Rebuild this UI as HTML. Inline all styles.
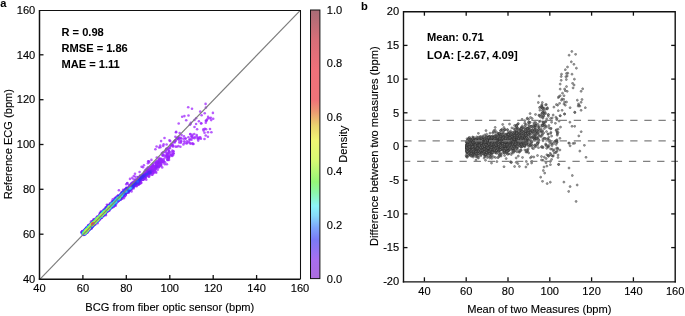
<!DOCTYPE html><html><head><meta charset="utf-8"><style>html,body{margin:0;padding:0;background:#fff;}svg{display:block;will-change:transform;}text{font-family:"Liberation Sans",sans-serif;font-size:11.1px;fill:#000;stroke:#000;stroke-width:0.13px;}.b{font-weight:bold;stroke-width:0.04px;}.r circle{opacity:.75}</style></head><body>
<svg width="685" height="316" viewBox="0 0 685 316">
<rect width="685" height="316" fill="#fff"/>
<defs><linearGradient id="cg" x1="0" y1="1" x2="0" y2="0">
<stop offset="0.000" stop-color="#ac6cde"/>
<stop offset="0.070" stop-color="#a86eee"/>
<stop offset="0.145" stop-color="#7a7af6"/>
<stop offset="0.190" stop-color="#7da5fa"/>
<stop offset="0.235" stop-color="#87dcfa"/>
<stop offset="0.270" stop-color="#8cf5fa"/>
<stop offset="0.320" stop-color="#8cf5aa"/>
<stop offset="0.360" stop-color="#96f578"/>
<stop offset="0.440" stop-color="#d7fa73"/>
<stop offset="0.515" stop-color="#f0f573"/>
<stop offset="0.570" stop-color="#ebd26e"/>
<stop offset="0.625" stop-color="#eb9673"/>
<stop offset="0.665" stop-color="#f07378"/>
<stop offset="0.775" stop-color="#f0707a"/>
<stop offset="0.890" stop-color="#d76e78"/>
<stop offset="1.000" stop-color="#a86c76"/>
</linearGradient><clipPath id="lc"><rect x="39.5" y="10.0" width="260.5" height="269.0"/></clipPath></defs>
<g clip-path="url(#lc)" fill-opacity="0.75">
<circle cx="179.3" cy="142.4" r="1.30" fill="#a327fe"/>
<circle cx="191.8" cy="137.4" r="1.30" fill="#a227fe"/>
<circle cx="163.2" cy="145.9" r="1.30" fill="#a227fe"/>
<circle cx="212.9" cy="112.9" r="1.30" fill="#a227fe"/>
<circle cx="172.1" cy="145.0" r="1.30" fill="#a227fe"/>
<circle cx="188.2" cy="107.2" r="1.30" fill="#a227fe"/>
<circle cx="190.6" cy="143.7" r="1.30" fill="#a227fe"/>
<circle cx="210.8" cy="117.8" r="1.30" fill="#a227fe"/>
<circle cx="150.8" cy="167.8" r="1.30" fill="#a227fe"/>
<circle cx="194.3" cy="134.0" r="1.30" fill="#a227fe"/>
<circle cx="206.6" cy="120.2" r="1.30" fill="#a227fe"/>
<circle cx="184.0" cy="136.2" r="1.30" fill="#a227fe"/>
<circle cx="191.5" cy="139.7" r="1.30" fill="#a127fe"/>
<circle cx="157.1" cy="160.8" r="1.30" fill="#a127fe"/>
<circle cx="148.8" cy="161.2" r="1.30" fill="#a127fe"/>
<circle cx="157.7" cy="169.8" r="1.30" fill="#a127fe"/>
<circle cx="192.3" cy="136.0" r="1.30" fill="#a127fe"/>
<circle cx="186.5" cy="143.5" r="1.30" fill="#a127fe"/>
<circle cx="211.2" cy="120.1" r="1.30" fill="#a127fe"/>
<circle cx="163.6" cy="161.3" r="1.30" fill="#a127fe"/>
<circle cx="176.8" cy="146.7" r="1.30" fill="#a127fe"/>
<circle cx="156.6" cy="146.5" r="1.30" fill="#a127fe"/>
<circle cx="200.2" cy="111.6" r="1.30" fill="#a127fe"/>
<circle cx="157.7" cy="164.1" r="1.30" fill="#a127fe"/>
<circle cx="204.5" cy="132.7" r="1.30" fill="#a127fe"/>
<circle cx="179.6" cy="138.6" r="1.30" fill="#a127fe"/>
<circle cx="206.1" cy="129.3" r="1.30" fill="#a127fe"/>
<circle cx="159.3" cy="162.2" r="1.30" fill="#a127fe"/>
<circle cx="186.9" cy="141.2" r="1.30" fill="#a127fe"/>
<circle cx="148.5" cy="176.5" r="1.30" fill="#a127fe"/>
<circle cx="205.9" cy="107.6" r="1.30" fill="#a127fe"/>
<circle cx="209.4" cy="118.3" r="1.30" fill="#a127fe"/>
<circle cx="200.3" cy="137.4" r="1.30" fill="#a127fe"/>
<circle cx="183.5" cy="138.7" r="1.30" fill="#a127fe"/>
<circle cx="169.1" cy="151.1" r="1.30" fill="#a127fe"/>
<circle cx="168.4" cy="156.0" r="1.30" fill="#a127fe"/>
<circle cx="192.7" cy="137.7" r="1.30" fill="#a127fe"/>
<circle cx="160.4" cy="147.3" r="1.30" fill="#a127fe"/>
<circle cx="181.6" cy="135.0" r="1.30" fill="#a127fe"/>
<circle cx="135.0" cy="173.8" r="1.30" fill="#a127fe"/>
<circle cx="181.2" cy="141.6" r="1.30" fill="#a127fe"/>
<circle cx="197.7" cy="137.9" r="1.30" fill="#a127fe"/>
<circle cx="210.0" cy="129.0" r="1.30" fill="#a127fe"/>
<circle cx="167.2" cy="156.6" r="1.30" fill="#a127fe"/>
<circle cx="192.3" cy="143.3" r="1.30" fill="#a127fe"/>
<circle cx="136.1" cy="179.8" r="1.30" fill="#a127fe"/>
<circle cx="151.8" cy="168.8" r="1.30" fill="#a127fe"/>
<circle cx="135.7" cy="180.9" r="1.30" fill="#a127fe"/>
<circle cx="149.4" cy="175.4" r="1.30" fill="#a127fe"/>
<circle cx="164.1" cy="155.3" r="1.30" fill="#a127fe"/>
<circle cx="157.5" cy="163.1" r="1.30" fill="#a127fe"/>
<circle cx="148.3" cy="171.0" r="1.30" fill="#a127fe"/>
<circle cx="201.6" cy="115.2" r="1.30" fill="#a127fe"/>
<circle cx="208.0" cy="132.3" r="1.30" fill="#a127fe"/>
<circle cx="174.8" cy="142.4" r="1.30" fill="#a127fe"/>
<circle cx="162.7" cy="161.6" r="1.30" fill="#a127fe"/>
<circle cx="197.1" cy="129.2" r="1.30" fill="#a127fe"/>
<circle cx="141.9" cy="180.0" r="1.30" fill="#a127fe"/>
<circle cx="207.9" cy="136.7" r="1.30" fill="#a127fe"/>
<circle cx="130.0" cy="178.9" r="1.30" fill="#a127fe"/>
<circle cx="148.1" cy="168.5" r="1.30" fill="#a127fe"/>
<circle cx="205.8" cy="122.7" r="1.30" fill="#a127fe"/>
<circle cx="167.0" cy="153.2" r="1.30" fill="#a127fe"/>
<circle cx="175.5" cy="146.6" r="1.30" fill="#a127fe"/>
<circle cx="168.0" cy="159.9" r="1.30" fill="#a127fe"/>
<circle cx="176.6" cy="138.1" r="1.30" fill="#a127fe"/>
<circle cx="190.3" cy="134.2" r="1.30" fill="#a026fd"/>
<circle cx="196.7" cy="136.5" r="1.30" fill="#a026fd"/>
<circle cx="188.7" cy="141.8" r="1.30" fill="#a026fd"/>
<circle cx="187.2" cy="143.0" r="1.30" fill="#a026fd"/>
<circle cx="205.8" cy="120.8" r="1.30" fill="#a026fd"/>
<circle cx="153.7" cy="173.1" r="1.30" fill="#a026fd"/>
<circle cx="163.6" cy="144.4" r="1.30" fill="#a026fd"/>
<circle cx="132.0" cy="188.4" r="1.30" fill="#a026fd"/>
<circle cx="155.4" cy="149.2" r="1.30" fill="#a026fd"/>
<circle cx="162.2" cy="167.4" r="1.30" fill="#a026fd"/>
<circle cx="173.6" cy="153.5" r="1.30" fill="#a026fd"/>
<circle cx="171.4" cy="144.9" r="1.30" fill="#a026fd"/>
<circle cx="208.1" cy="116.9" r="1.30" fill="#a026fd"/>
<circle cx="205.6" cy="103.9" r="1.30" fill="#a026fd"/>
<circle cx="160.9" cy="159.6" r="1.30" fill="#a026fd"/>
<circle cx="181.1" cy="140.8" r="1.30" fill="#a026fd"/>
<circle cx="178.7" cy="123.5" r="1.30" fill="#a026fd"/>
<circle cx="163.4" cy="161.8" r="1.30" fill="#a026fd"/>
<circle cx="166.6" cy="144.5" r="1.30" fill="#a026fd"/>
<circle cx="136.3" cy="185.1" r="1.30" fill="#a026fd"/>
<circle cx="179.7" cy="133.1" r="1.30" fill="#a026fd"/>
<circle cx="170.7" cy="154.5" r="1.30" fill="#a026fd"/>
<circle cx="153.7" cy="163.2" r="1.30" fill="#a026fd"/>
<circle cx="204.5" cy="139.0" r="1.30" fill="#a026fd"/>
<circle cx="183.4" cy="144.4" r="1.30" fill="#a026fd"/>
<circle cx="131.5" cy="191.4" r="1.30" fill="#a026fd"/>
<circle cx="175.4" cy="136.8" r="1.30" fill="#a026fd"/>
<circle cx="200.9" cy="138.7" r="1.30" fill="#a026fd"/>
<circle cx="166.9" cy="164.3" r="1.30" fill="#a026fd"/>
<circle cx="152.8" cy="171.8" r="1.30" fill="#a026fd"/>
<circle cx="213.2" cy="118.8" r="1.30" fill="#a026fd"/>
<circle cx="151.8" cy="167.9" r="1.30" fill="#a026fd"/>
<circle cx="164.5" cy="138.0" r="1.30" fill="#a026fd"/>
<circle cx="133.8" cy="181.7" r="1.30" fill="#a026fd"/>
<circle cx="141.6" cy="166.7" r="1.30" fill="#a026fd"/>
<circle cx="163.9" cy="159.0" r="1.30" fill="#a026fd"/>
<circle cx="168.8" cy="153.7" r="1.30" fill="#a026fd"/>
<circle cx="159.4" cy="158.1" r="1.30" fill="#a026fd"/>
<circle cx="198.9" cy="138.7" r="1.30" fill="#a026fd"/>
<circle cx="181.2" cy="138.5" r="1.30" fill="#a026fd"/>
<circle cx="168.8" cy="152.7" r="1.30" fill="#a026fd"/>
<circle cx="155.2" cy="168.0" r="1.30" fill="#a026fd"/>
<circle cx="158.7" cy="166.2" r="1.30" fill="#a026fd"/>
<circle cx="178.6" cy="136.7" r="1.30" fill="#a026fd"/>
<circle cx="189.9" cy="124.8" r="1.30" fill="#a026fd"/>
<circle cx="192.0" cy="108.7" r="1.30" fill="#a026fd"/>
<circle cx="177.4" cy="137.8" r="1.30" fill="#a026fd"/>
<circle cx="194.4" cy="138.2" r="1.30" fill="#a026fd"/>
<circle cx="199.2" cy="137.6" r="1.30" fill="#a026fd"/>
<circle cx="204.9" cy="128.7" r="1.30" fill="#a026fd"/>
<circle cx="166.9" cy="157.1" r="1.30" fill="#a026fd"/>
<circle cx="204.7" cy="113.3" r="1.30" fill="#a026fd"/>
<circle cx="161.9" cy="160.0" r="1.30" fill="#a026fd"/>
<circle cx="191.3" cy="136.3" r="1.30" fill="#9f26fd"/>
<circle cx="157.9" cy="167.2" r="1.30" fill="#9f26fd"/>
<circle cx="169.3" cy="157.1" r="1.30" fill="#9f26fd"/>
<circle cx="193.5" cy="144.0" r="1.30" fill="#9f26fd"/>
<circle cx="170.5" cy="145.5" r="1.30" fill="#9f26fd"/>
<circle cx="151.9" cy="171.2" r="1.30" fill="#9f26fd"/>
<circle cx="159.1" cy="147.5" r="1.30" fill="#9f26fd"/>
<circle cx="151.4" cy="159.9" r="1.30" fill="#9f26fd"/>
<circle cx="190.9" cy="122.8" r="1.30" fill="#9f26fd"/>
<circle cx="153.3" cy="169.3" r="1.30" fill="#9f26fd"/>
<circle cx="156.7" cy="163.6" r="1.30" fill="#9f26fd"/>
<circle cx="196.1" cy="118.3" r="1.30" fill="#9f26fd"/>
<circle cx="128.4" cy="192.7" r="1.30" fill="#9f26fd"/>
<circle cx="123.1" cy="189.9" r="1.30" fill="#9f26fd"/>
<circle cx="166.1" cy="149.6" r="1.30" fill="#9f26fd"/>
<circle cx="188.4" cy="137.3" r="1.30" fill="#9f26fd"/>
<circle cx="160.6" cy="166.1" r="1.30" fill="#9f26fd"/>
<circle cx="189.4" cy="139.7" r="1.30" fill="#9f26fd"/>
<circle cx="173.0" cy="145.6" r="1.30" fill="#9f26fd"/>
<circle cx="167.0" cy="148.5" r="1.30" fill="#9f26fd"/>
<circle cx="172.7" cy="145.6" r="1.30" fill="#9f26fd"/>
<circle cx="162.7" cy="155.1" r="1.30" fill="#9f26fd"/>
<circle cx="146.3" cy="179.7" r="1.30" fill="#9f26fd"/>
<circle cx="178.3" cy="138.1" r="1.30" fill="#9f26fd"/>
<circle cx="198.9" cy="121.2" r="1.30" fill="#9f26fd"/>
<circle cx="189.8" cy="142.9" r="1.30" fill="#9f26fd"/>
<circle cx="153.6" cy="168.9" r="1.30" fill="#9f26fd"/>
<circle cx="158.6" cy="167.0" r="1.30" fill="#9f26fd"/>
<circle cx="160.8" cy="164.6" r="1.30" fill="#9f26fd"/>
<circle cx="145.9" cy="170.2" r="1.30" fill="#9f26fd"/>
<circle cx="167.7" cy="159.5" r="1.30" fill="#9f26fd"/>
<circle cx="156.8" cy="157.6" r="1.30" fill="#9f26fd"/>
<circle cx="139.6" cy="172.0" r="1.30" fill="#9f26fd"/>
<circle cx="145.3" cy="170.2" r="1.30" fill="#9f26fd"/>
<circle cx="131.6" cy="189.4" r="1.30" fill="#9f26fd"/>
<circle cx="159.4" cy="159.9" r="1.30" fill="#9f26fd"/>
<circle cx="144.3" cy="178.0" r="1.30" fill="#9f26fd"/>
<circle cx="147.3" cy="168.8" r="1.30" fill="#9f26fd"/>
<circle cx="105.8" cy="215.2" r="1.30" fill="#9f26fd"/>
<circle cx="162.3" cy="161.6" r="1.30" fill="#9f26fd"/>
<circle cx="201.1" cy="123.5" r="1.30" fill="#9f26fd"/>
<circle cx="156.2" cy="172.8" r="1.30" fill="#9f26fd"/>
<circle cx="146.7" cy="175.3" r="1.30" fill="#9f26fd"/>
<circle cx="158.9" cy="159.6" r="1.30" fill="#9f26fd"/>
<circle cx="170.1" cy="148.1" r="1.30" fill="#9f26fd"/>
<circle cx="190.6" cy="124.0" r="1.30" fill="#9f26fd"/>
<circle cx="158.7" cy="167.5" r="1.30" fill="#9f26fd"/>
<circle cx="164.8" cy="156.8" r="1.30" fill="#9f26fd"/>
<circle cx="134.5" cy="185.8" r="1.30" fill="#9f26fd"/>
<circle cx="138.4" cy="184.8" r="1.30" fill="#9f26fd"/>
<circle cx="160.2" cy="145.5" r="1.30" fill="#9f26fd"/>
<circle cx="93.7" cy="219.6" r="1.30" fill="#9f26fd"/>
<circle cx="175.4" cy="140.6" r="1.30" fill="#9f26fd"/>
<circle cx="143.9" cy="165.3" r="1.30" fill="#9f26fd"/>
<circle cx="176.2" cy="131.9" r="1.30" fill="#9f26fd"/>
<circle cx="161.1" cy="141.1" r="1.30" fill="#9f26fd"/>
<circle cx="163.7" cy="161.0" r="1.30" fill="#9f26fd"/>
<circle cx="153.6" cy="170.0" r="1.30" fill="#9f26fd"/>
<circle cx="175.1" cy="140.5" r="1.30" fill="#9f26fd"/>
<circle cx="143.9" cy="179.3" r="1.30" fill="#9f26fd"/>
<circle cx="103.2" cy="210.0" r="1.30" fill="#9f26fd"/>
<circle cx="159.9" cy="163.6" r="1.30" fill="#9f26fd"/>
<circle cx="165.9" cy="151.3" r="1.30" fill="#9f26fd"/>
<circle cx="149.1" cy="176.8" r="1.30" fill="#9f26fd"/>
<circle cx="170.3" cy="155.4" r="1.30" fill="#9e26fd"/>
<circle cx="175.5" cy="141.0" r="1.30" fill="#9e26fd"/>
<circle cx="142.9" cy="175.6" r="1.30" fill="#9e26fd"/>
<circle cx="184.6" cy="142.9" r="1.30" fill="#9e26fd"/>
<circle cx="194.5" cy="127.0" r="1.30" fill="#9e26fd"/>
<circle cx="194.5" cy="120.0" r="1.30" fill="#9e26fd"/>
<circle cx="203.4" cy="129.3" r="1.30" fill="#9e26fd"/>
<circle cx="171.5" cy="155.1" r="1.30" fill="#9e26fd"/>
<circle cx="159.3" cy="165.4" r="1.30" fill="#9e26fd"/>
<circle cx="194.8" cy="137.2" r="1.30" fill="#9e26fd"/>
<circle cx="156.0" cy="166.7" r="1.30" fill="#9e26fd"/>
<circle cx="148.9" cy="171.8" r="1.30" fill="#9e26fd"/>
<circle cx="154.0" cy="169.1" r="1.30" fill="#9e26fd"/>
<circle cx="115.6" cy="205.7" r="1.30" fill="#9e26fd"/>
<circle cx="148.0" cy="175.9" r="1.30" fill="#9e26fd"/>
<circle cx="152.5" cy="166.8" r="1.30" fill="#9e26fd"/>
<circle cx="148.2" cy="161.3" r="1.30" fill="#9e26fd"/>
<circle cx="206.4" cy="120.8" r="1.30" fill="#9e26fd"/>
<circle cx="114.5" cy="198.5" r="1.30" fill="#9e26fd"/>
<circle cx="156.9" cy="164.2" r="1.30" fill="#9e26fd"/>
<circle cx="151.8" cy="166.3" r="1.30" fill="#9e26fd"/>
<circle cx="140.2" cy="183.5" r="1.30" fill="#9e26fd"/>
<circle cx="201.3" cy="123.2" r="1.30" fill="#9e26fd"/>
<circle cx="159.0" cy="163.2" r="1.30" fill="#9e26fd"/>
<circle cx="152.8" cy="171.1" r="1.30" fill="#9e26fd"/>
<circle cx="148.0" cy="167.2" r="1.30" fill="#9e26fd"/>
<circle cx="170.2" cy="141.1" r="1.30" fill="#9e26fd"/>
<circle cx="147.8" cy="170.4" r="1.30" fill="#9e26fd"/>
<circle cx="144.6" cy="178.3" r="1.30" fill="#9e26fd"/>
<circle cx="133.8" cy="176.0" r="1.30" fill="#9e26fd"/>
<circle cx="152.7" cy="164.4" r="1.30" fill="#9e26fd"/>
<circle cx="159.5" cy="165.0" r="1.30" fill="#9e26fd"/>
<circle cx="91.2" cy="228.7" r="1.30" fill="#9e26fd"/>
<circle cx="138.3" cy="182.9" r="1.30" fill="#9e26fd"/>
<circle cx="133.8" cy="179.5" r="1.30" fill="#9e26fd"/>
<circle cx="203.6" cy="130.6" r="1.30" fill="#9e26fd"/>
<circle cx="178.4" cy="146.1" r="1.30" fill="#9e26fd"/>
<circle cx="127.0" cy="189.0" r="1.30" fill="#9e26fd"/>
<circle cx="192.5" cy="134.7" r="1.30" fill="#9e26fd"/>
<circle cx="129.3" cy="190.9" r="1.30" fill="#9e26fd"/>
<circle cx="166.4" cy="158.1" r="1.30" fill="#9e26fd"/>
<circle cx="156.2" cy="164.1" r="1.30" fill="#9e26fd"/>
<circle cx="155.2" cy="167.6" r="1.30" fill="#9e26fd"/>
<circle cx="85.2" cy="229.2" r="1.30" fill="#9e26fd"/>
<circle cx="141.4" cy="182.7" r="1.30" fill="#9e26fd"/>
<circle cx="152.9" cy="165.0" r="1.30" fill="#9e26fd"/>
<circle cx="162.5" cy="159.8" r="1.30" fill="#9e26fd"/>
<circle cx="159.6" cy="159.6" r="1.30" fill="#9e26fd"/>
<circle cx="196.7" cy="135.0" r="1.30" fill="#9e26fd"/>
<circle cx="156.0" cy="171.8" r="1.30" fill="#9e26fd"/>
<circle cx="160.9" cy="160.3" r="1.30" fill="#9e26fd"/>
<circle cx="207.4" cy="119.0" r="1.30" fill="#9e26fd"/>
<circle cx="163.3" cy="161.3" r="1.30" fill="#9e26fd"/>
<circle cx="148.4" cy="171.2" r="1.30" fill="#9e26fd"/>
<circle cx="149.0" cy="169.0" r="1.30" fill="#9e26fd"/>
<circle cx="152.5" cy="174.6" r="1.30" fill="#9e26fd"/>
<circle cx="160.4" cy="160.3" r="1.30" fill="#9e26fd"/>
<circle cx="136.0" cy="181.2" r="1.30" fill="#9e26fd"/>
<circle cx="168.1" cy="156.5" r="1.30" fill="#9e26fd"/>
<circle cx="169.5" cy="140.4" r="1.30" fill="#9d25fc"/>
<circle cx="137.8" cy="177.4" r="1.30" fill="#9d25fc"/>
<circle cx="190.3" cy="134.0" r="1.30" fill="#9d25fc"/>
<circle cx="192.9" cy="143.9" r="1.30" fill="#9d25fc"/>
<circle cx="205.7" cy="135.5" r="1.30" fill="#9d25fc"/>
<circle cx="160.5" cy="165.2" r="1.30" fill="#9d25fc"/>
<circle cx="159.4" cy="164.8" r="1.30" fill="#9d25fc"/>
<circle cx="133.9" cy="183.2" r="1.30" fill="#9d25fc"/>
<circle cx="154.4" cy="167.7" r="1.30" fill="#9d25fc"/>
<circle cx="136.4" cy="183.2" r="1.30" fill="#9d25fc"/>
<circle cx="160.9" cy="162.9" r="1.30" fill="#9d25fc"/>
<circle cx="124.8" cy="196.5" r="1.30" fill="#9d25fc"/>
<circle cx="106.4" cy="212.5" r="1.30" fill="#9d25fc"/>
<circle cx="140.6" cy="176.2" r="1.30" fill="#9d25fc"/>
<circle cx="90.8" cy="223.6" r="1.30" fill="#9d25fc"/>
<circle cx="164.9" cy="164.2" r="1.30" fill="#9d25fc"/>
<circle cx="188.5" cy="115.5" r="1.30" fill="#9d25fc"/>
<circle cx="167.9" cy="159.8" r="1.30" fill="#9d25fc"/>
<circle cx="178.2" cy="137.7" r="1.30" fill="#9d25fc"/>
<circle cx="118.7" cy="199.8" r="1.30" fill="#9d25fc"/>
<circle cx="184.4" cy="116.1" r="1.30" fill="#9d25fc"/>
<circle cx="166.6" cy="155.9" r="1.30" fill="#9d25fc"/>
<circle cx="159.7" cy="165.7" r="1.30" fill="#9d25fc"/>
<circle cx="146.9" cy="168.8" r="1.30" fill="#9d25fc"/>
<circle cx="139.4" cy="178.8" r="1.30" fill="#9d25fc"/>
<circle cx="142.1" cy="177.6" r="1.30" fill="#9d25fc"/>
<circle cx="149.2" cy="175.1" r="1.30" fill="#9d25fc"/>
<circle cx="163.3" cy="162.9" r="1.30" fill="#9d25fc"/>
<circle cx="167.5" cy="154.3" r="1.30" fill="#9d25fc"/>
<circle cx="123.8" cy="198.2" r="1.30" fill="#9d25fc"/>
<circle cx="146.0" cy="169.5" r="1.30" fill="#9d25fc"/>
<circle cx="129.7" cy="185.0" r="1.30" fill="#9d25fc"/>
<circle cx="152.0" cy="174.8" r="1.30" fill="#9d25fc"/>
<circle cx="177.4" cy="138.8" r="1.30" fill="#9d25fc"/>
<circle cx="152.4" cy="168.5" r="1.30" fill="#9d25fc"/>
<circle cx="144.3" cy="171.8" r="1.30" fill="#9d25fc"/>
<circle cx="180.4" cy="146.7" r="1.30" fill="#9d25fc"/>
<circle cx="93.8" cy="219.3" r="1.30" fill="#9d25fc"/>
<circle cx="165.1" cy="152.2" r="1.30" fill="#9d25fc"/>
<circle cx="99.0" cy="220.6" r="1.30" fill="#9d25fc"/>
<circle cx="146.1" cy="175.7" r="1.30" fill="#9d25fc"/>
<circle cx="136.1" cy="184.3" r="1.30" fill="#9d25fc"/>
<circle cx="137.1" cy="179.7" r="1.30" fill="#9d25fc"/>
<circle cx="163.2" cy="152.2" r="1.30" fill="#9d25fc"/>
<circle cx="124.1" cy="195.5" r="1.30" fill="#9d25fc"/>
<circle cx="166.1" cy="155.5" r="1.30" fill="#9d25fc"/>
<circle cx="115.3" cy="197.9" r="1.30" fill="#9d25fc"/>
<circle cx="169.0" cy="159.9" r="1.30" fill="#9d25fc"/>
<circle cx="160.4" cy="159.0" r="1.30" fill="#9d25fc"/>
<circle cx="157.6" cy="161.0" r="1.30" fill="#9d25fc"/>
<circle cx="84.0" cy="234.2" r="1.30" fill="#9d25fc"/>
<circle cx="137.3" cy="181.1" r="1.30" fill="#9d25fc"/>
<circle cx="142.3" cy="176.0" r="1.30" fill="#9d25fc"/>
<circle cx="156.1" cy="164.5" r="1.30" fill="#9d25fc"/>
<circle cx="157.5" cy="164.0" r="1.30" fill="#9d25fc"/>
<circle cx="141.4" cy="178.4" r="1.30" fill="#9d25fc"/>
<circle cx="134.9" cy="185.8" r="1.30" fill="#9d25fc"/>
<circle cx="184.3" cy="141.3" r="1.30" fill="#9d25fc"/>
<circle cx="138.6" cy="182.7" r="1.30" fill="#9d25fc"/>
<circle cx="154.9" cy="171.1" r="1.30" fill="#9d25fc"/>
<circle cx="171.3" cy="144.3" r="1.30" fill="#9d25fc"/>
<circle cx="173.2" cy="151.5" r="1.30" fill="#9d25fc"/>
<circle cx="153.2" cy="172.7" r="1.30" fill="#9d25fc"/>
<circle cx="167.3" cy="153.5" r="1.30" fill="#9d25fc"/>
<circle cx="147.8" cy="173.5" r="1.30" fill="#9d25fc"/>
<circle cx="180.6" cy="137.9" r="1.30" fill="#9d25fc"/>
<circle cx="161.4" cy="158.8" r="1.30" fill="#9d25fc"/>
<circle cx="143.0" cy="167.2" r="1.30" fill="#9d25fc"/>
<circle cx="162.7" cy="152.8" r="1.30" fill="#9d25fc"/>
<circle cx="157.3" cy="164.9" r="1.30" fill="#9d25fc"/>
<circle cx="101.9" cy="217.7" r="1.30" fill="#9d25fc"/>
<circle cx="153.5" cy="166.9" r="1.30" fill="#9d25fc"/>
<circle cx="143.5" cy="174.4" r="1.30" fill="#9d25fc"/>
<circle cx="128.8" cy="187.2" r="1.30" fill="#9c25fc"/>
<circle cx="160.8" cy="162.0" r="1.30" fill="#9c25fc"/>
<circle cx="174.5" cy="141.1" r="1.30" fill="#9c25fc"/>
<circle cx="117.5" cy="196.7" r="1.30" fill="#9c25fc"/>
<circle cx="144.3" cy="176.1" r="1.30" fill="#9c25fc"/>
<circle cx="136.6" cy="183.2" r="1.30" fill="#9c25fc"/>
<circle cx="145.2" cy="172.8" r="1.30" fill="#9c25fc"/>
<circle cx="166.1" cy="149.4" r="1.30" fill="#9c25fc"/>
<circle cx="180.8" cy="142.8" r="1.30" fill="#9c25fc"/>
<circle cx="151.4" cy="169.8" r="1.30" fill="#9c25fc"/>
<circle cx="197.7" cy="138.8" r="1.30" fill="#9c25fc"/>
<circle cx="139.0" cy="183.0" r="1.30" fill="#9c25fc"/>
<circle cx="161.2" cy="159.8" r="1.30" fill="#9c25fc"/>
<circle cx="106.1" cy="207.4" r="1.30" fill="#9c25fc"/>
<circle cx="158.9" cy="161.9" r="1.30" fill="#9c25fc"/>
<circle cx="139.4" cy="182.9" r="1.30" fill="#9c25fc"/>
<circle cx="162.5" cy="155.4" r="1.30" fill="#9c25fc"/>
<circle cx="173.1" cy="153.5" r="1.30" fill="#9c25fc"/>
<circle cx="160.2" cy="162.9" r="1.30" fill="#9c25fc"/>
<circle cx="101.5" cy="217.4" r="1.30" fill="#9c25fc"/>
<circle cx="153.2" cy="165.9" r="1.30" fill="#9c25fc"/>
<circle cx="185.5" cy="138.5" r="1.30" fill="#9c25fc"/>
<circle cx="85.1" cy="234.5" r="1.30" fill="#9c25fc"/>
<circle cx="129.1" cy="185.1" r="1.30" fill="#9c25fc"/>
<circle cx="141.8" cy="175.7" r="1.30" fill="#9c25fc"/>
<circle cx="178.8" cy="140.1" r="1.30" fill="#9c25fc"/>
<circle cx="172.4" cy="150.5" r="1.30" fill="#9c25fc"/>
<circle cx="132.6" cy="183.3" r="1.30" fill="#9c25fc"/>
<circle cx="182.2" cy="116.8" r="1.30" fill="#9c25fc"/>
<circle cx="147.1" cy="170.8" r="1.30" fill="#9c25fc"/>
<circle cx="171.0" cy="152.4" r="1.30" fill="#9c25fc"/>
<circle cx="138.2" cy="184.3" r="1.30" fill="#9c25fc"/>
<circle cx="117.1" cy="202.1" r="1.30" fill="#9c25fc"/>
<circle cx="139.0" cy="180.8" r="1.30" fill="#9c25fc"/>
<circle cx="168.3" cy="157.3" r="1.30" fill="#9c25fc"/>
<circle cx="173.3" cy="153.5" r="1.30" fill="#9c25fc"/>
<circle cx="190.2" cy="139.2" r="1.30" fill="#9c25fc"/>
<circle cx="166.9" cy="155.3" r="1.30" fill="#9c25fc"/>
<circle cx="123.9" cy="190.7" r="1.30" fill="#9c25fc"/>
<circle cx="92.4" cy="221.1" r="1.30" fill="#9c25fc"/>
<circle cx="116.6" cy="201.5" r="1.30" fill="#9c25fc"/>
<circle cx="152.6" cy="170.1" r="1.30" fill="#9c25fc"/>
<circle cx="186.2" cy="120.3" r="1.30" fill="#9c25fc"/>
<circle cx="121.8" cy="192.0" r="1.30" fill="#9c25fc"/>
<circle cx="149.2" cy="162.3" r="1.30" fill="#9c25fc"/>
<circle cx="141.8" cy="178.7" r="1.30" fill="#9c25fc"/>
<circle cx="159.9" cy="163.4" r="1.30" fill="#9c25fc"/>
<circle cx="143.5" cy="178.9" r="1.30" fill="#9c25fc"/>
<circle cx="149.7" cy="173.0" r="1.30" fill="#9c25fc"/>
<circle cx="155.8" cy="161.8" r="1.30" fill="#9c25fc"/>
<circle cx="156.0" cy="165.3" r="1.30" fill="#9c25fc"/>
<circle cx="136.8" cy="183.4" r="1.30" fill="#9c25fc"/>
<circle cx="96.8" cy="217.0" r="1.30" fill="#9c25fc"/>
<circle cx="135.6" cy="179.6" r="1.30" fill="#9c25fc"/>
<circle cx="124.2" cy="190.2" r="1.30" fill="#9c25fc"/>
<circle cx="163.2" cy="155.5" r="1.30" fill="#9c25fc"/>
<circle cx="131.0" cy="186.1" r="1.30" fill="#9c25fc"/>
<circle cx="156.4" cy="164.6" r="1.30" fill="#9c25fc"/>
<circle cx="122.8" cy="196.9" r="1.30" fill="#9c25fc"/>
<circle cx="118.9" cy="190.3" r="1.30" fill="#9c25fc"/>
<circle cx="124.2" cy="196.2" r="1.30" fill="#9c25fc"/>
<circle cx="146.3" cy="174.0" r="1.30" fill="#9c25fc"/>
<circle cx="130.0" cy="187.4" r="1.30" fill="#9c25fc"/>
<circle cx="173.5" cy="151.2" r="1.30" fill="#9c25fc"/>
<circle cx="147.4" cy="172.7" r="1.30" fill="#9c25fc"/>
<circle cx="168.5" cy="150.4" r="1.30" fill="#9c25fc"/>
<circle cx="139.1" cy="178.7" r="1.30" fill="#9c25fc"/>
<circle cx="140.3" cy="179.7" r="1.30" fill="#9c25fc"/>
<circle cx="132.7" cy="182.4" r="1.30" fill="#9c25fc"/>
<circle cx="158.9" cy="165.2" r="1.30" fill="#9c25fc"/>
<circle cx="157.9" cy="165.4" r="1.30" fill="#9c25fc"/>
<circle cx="145.6" cy="174.1" r="1.30" fill="#9c25fc"/>
<circle cx="138.2" cy="177.0" r="1.30" fill="#9c25fc"/>
<circle cx="85.3" cy="233.8" r="1.30" fill="#9c25fc"/>
<circle cx="92.5" cy="221.7" r="1.30" fill="#9c25fc"/>
<circle cx="143.3" cy="176.5" r="1.30" fill="#9c25fc"/>
<circle cx="140.0" cy="178.0" r="1.30" fill="#9c25fc"/>
<circle cx="99.8" cy="219.1" r="1.30" fill="#9c25fc"/>
<circle cx="114.5" cy="200.6" r="1.30" fill="#9c25fc"/>
<circle cx="196.1" cy="124.0" r="1.30" fill="#9c25fc"/>
<circle cx="146.9" cy="171.6" r="1.30" fill="#9b25fc"/>
<circle cx="103.5" cy="215.2" r="1.30" fill="#9b25fc"/>
<circle cx="121.7" cy="197.7" r="1.30" fill="#9b25fc"/>
<circle cx="127.8" cy="191.7" r="1.30" fill="#9b25fc"/>
<circle cx="161.5" cy="161.5" r="1.30" fill="#9b25fc"/>
<circle cx="96.7" cy="222.8" r="1.30" fill="#9b25fc"/>
<circle cx="120.6" cy="194.0" r="1.30" fill="#9b25fc"/>
<circle cx="167.0" cy="154.7" r="1.30" fill="#9b25fc"/>
<circle cx="159.1" cy="163.9" r="1.30" fill="#9b25fc"/>
<circle cx="152.4" cy="169.4" r="1.30" fill="#9b25fc"/>
<circle cx="141.4" cy="177.5" r="1.30" fill="#9b25fc"/>
<circle cx="139.3" cy="179.3" r="1.30" fill="#9b25fc"/>
<circle cx="128.5" cy="192.4" r="1.30" fill="#9b25fc"/>
<circle cx="114.8" cy="203.5" r="1.30" fill="#9b25fc"/>
<circle cx="169.1" cy="151.9" r="1.30" fill="#9b25fc"/>
<circle cx="185.5" cy="138.5" r="1.30" fill="#9b25fc"/>
<circle cx="133.6" cy="188.4" r="1.30" fill="#9b25fc"/>
<circle cx="143.6" cy="177.1" r="1.30" fill="#9b25fc"/>
<circle cx="116.4" cy="203.5" r="1.30" fill="#9b25fc"/>
<circle cx="131.9" cy="185.4" r="1.30" fill="#9b25fc"/>
<circle cx="129.4" cy="187.4" r="1.30" fill="#9b25fc"/>
<circle cx="128.2" cy="189.4" r="1.30" fill="#9b25fc"/>
<circle cx="125.6" cy="192.1" r="1.30" fill="#9b25fc"/>
<circle cx="150.5" cy="169.0" r="1.30" fill="#9b25fc"/>
<circle cx="109.6" cy="208.3" r="1.30" fill="#9b25fc"/>
<circle cx="137.6" cy="179.7" r="1.30" fill="#9b25fc"/>
<circle cx="148.7" cy="172.9" r="1.30" fill="#9b25fc"/>
<circle cx="155.8" cy="162.5" r="1.30" fill="#9b25fc"/>
<circle cx="143.0" cy="174.8" r="1.30" fill="#9b25fc"/>
<circle cx="131.5" cy="183.3" r="1.30" fill="#9b25fc"/>
<circle cx="126.3" cy="184.3" r="1.30" fill="#9b25fc"/>
<circle cx="109.4" cy="210.6" r="1.30" fill="#9b25fc"/>
<circle cx="145.0" cy="172.2" r="1.30" fill="#9b25fc"/>
<circle cx="147.9" cy="163.3" r="1.30" fill="#9b25fc"/>
<circle cx="151.6" cy="170.1" r="1.30" fill="#9b25fc"/>
<circle cx="88.6" cy="230.7" r="1.30" fill="#9b25fc"/>
<circle cx="100.9" cy="211.5" r="1.30" fill="#9b25fc"/>
<circle cx="92.0" cy="221.7" r="1.30" fill="#9b25fc"/>
<circle cx="116.3" cy="202.6" r="1.30" fill="#9b25fc"/>
<circle cx="145.3" cy="175.7" r="1.30" fill="#9b25fc"/>
<circle cx="140.9" cy="177.4" r="1.30" fill="#9b25fc"/>
<circle cx="107.8" cy="205.1" r="1.30" fill="#9b25fc"/>
<circle cx="136.8" cy="179.6" r="1.30" fill="#9b25fc"/>
<circle cx="124.8" cy="190.2" r="1.30" fill="#9b25fc"/>
<circle cx="138.7" cy="182.4" r="1.30" fill="#9b25fc"/>
<circle cx="122.2" cy="193.1" r="1.30" fill="#9b25fc"/>
<circle cx="120.3" cy="198.7" r="1.30" fill="#9b25fc"/>
<circle cx="144.9" cy="172.7" r="1.30" fill="#9b25fc"/>
<circle cx="127.1" cy="189.9" r="1.30" fill="#9b25fc"/>
<circle cx="168.2" cy="149.0" r="1.30" fill="#9b25fc"/>
<circle cx="211.4" cy="132.2" r="1.30" fill="#9b25fc"/>
<circle cx="135.3" cy="181.0" r="1.30" fill="#9b25fc"/>
<circle cx="105.9" cy="214.1" r="1.30" fill="#9b25fc"/>
<circle cx="139.7" cy="181.0" r="1.30" fill="#9b25fc"/>
<circle cx="173.0" cy="146.6" r="1.30" fill="#9b25fc"/>
<circle cx="172.8" cy="142.7" r="1.30" fill="#9b25fc"/>
<circle cx="100.1" cy="214.8" r="1.30" fill="#9b25fc"/>
<circle cx="94.7" cy="219.1" r="1.30" fill="#9b25fc"/>
<circle cx="151.2" cy="171.4" r="1.30" fill="#9b25fc"/>
<circle cx="141.4" cy="179.3" r="1.30" fill="#9b25fc"/>
<circle cx="147.9" cy="175.0" r="1.30" fill="#9b25fc"/>
<circle cx="130.3" cy="186.1" r="1.30" fill="#9b25fc"/>
<circle cx="155.0" cy="169.7" r="1.30" fill="#9b25fc"/>
<circle cx="125.0" cy="195.6" r="1.30" fill="#9b25fc"/>
<circle cx="198.2" cy="140.6" r="1.30" fill="#9b25fc"/>
<circle cx="100.8" cy="212.6" r="1.30" fill="#9b25fc"/>
<circle cx="127.4" cy="183.1" r="1.30" fill="#9b25fc"/>
<circle cx="170.5" cy="146.0" r="1.30" fill="#9b25fc"/>
<circle cx="147.1" cy="172.7" r="1.30" fill="#9a24fb"/>
<circle cx="151.4" cy="166.9" r="1.30" fill="#9a24fb"/>
<circle cx="100.0" cy="219.5" r="1.30" fill="#9a24fb"/>
<circle cx="149.7" cy="169.8" r="1.30" fill="#9a24fb"/>
<circle cx="149.7" cy="170.5" r="1.30" fill="#9a24fb"/>
<circle cx="93.5" cy="221.4" r="1.30" fill="#9a24fb"/>
<circle cx="143.0" cy="179.6" r="1.30" fill="#9a24fb"/>
<circle cx="119.9" cy="198.7" r="1.30" fill="#9a24fb"/>
<circle cx="168.7" cy="158.3" r="1.30" fill="#9a24fb"/>
<circle cx="139.4" cy="183.4" r="1.30" fill="#9a24fb"/>
<circle cx="147.5" cy="171.4" r="1.30" fill="#9a24fb"/>
<circle cx="140.8" cy="183.1" r="1.30" fill="#9a24fb"/>
<circle cx="136.0" cy="180.7" r="1.30" fill="#9a24fb"/>
<circle cx="130.9" cy="189.6" r="1.30" fill="#9a24fb"/>
<circle cx="112.1" cy="207.1" r="1.30" fill="#9a24fb"/>
<circle cx="148.2" cy="172.3" r="1.30" fill="#9a24fb"/>
<circle cx="122.7" cy="194.1" r="1.30" fill="#9a24fb"/>
<circle cx="174.1" cy="141.8" r="1.30" fill="#9a24fb"/>
<circle cx="172.9" cy="155.2" r="1.30" fill="#9a24fb"/>
<circle cx="91.6" cy="228.2" r="1.30" fill="#9a24fb"/>
<circle cx="104.7" cy="213.8" r="1.30" fill="#9a24fb"/>
<circle cx="87.7" cy="231.9" r="1.30" fill="#9a24fb"/>
<circle cx="156.7" cy="167.0" r="1.30" fill="#9a24fb"/>
<circle cx="159.2" cy="159.9" r="1.30" fill="#9a24fb"/>
<circle cx="162.0" cy="161.2" r="1.30" fill="#9a24fb"/>
<circle cx="122.2" cy="198.4" r="1.30" fill="#9a24fb"/>
<circle cx="109.7" cy="204.6" r="1.30" fill="#9a24fb"/>
<circle cx="95.3" cy="224.4" r="1.30" fill="#9a24fb"/>
<circle cx="132.3" cy="177.9" r="1.30" fill="#9a24fb"/>
<circle cx="136.8" cy="184.2" r="1.30" fill="#9a24fb"/>
<circle cx="87.8" cy="232.1" r="1.30" fill="#9a24fb"/>
<circle cx="143.9" cy="177.9" r="1.30" fill="#9a24fb"/>
<circle cx="88.6" cy="225.0" r="1.30" fill="#9a24fb"/>
<circle cx="118.2" cy="200.6" r="1.30" fill="#9a24fb"/>
<circle cx="125.9" cy="189.9" r="1.30" fill="#9a24fb"/>
<circle cx="131.0" cy="185.9" r="1.30" fill="#9a24fb"/>
<circle cx="144.8" cy="176.9" r="1.30" fill="#9a24fb"/>
<circle cx="119.3" cy="200.3" r="1.30" fill="#9a24fb"/>
<circle cx="135.2" cy="182.3" r="1.30" fill="#9a24fb"/>
<circle cx="130.8" cy="188.9" r="1.30" fill="#9a24fb"/>
<circle cx="141.7" cy="176.9" r="1.30" fill="#9a24fb"/>
<circle cx="134.7" cy="184.0" r="1.30" fill="#9a24fb"/>
<circle cx="155.6" cy="162.5" r="1.30" fill="#9a24fb"/>
<circle cx="126.0" cy="192.5" r="1.30" fill="#9a24fb"/>
<circle cx="124.9" cy="192.2" r="1.30" fill="#9a24fb"/>
<circle cx="153.1" cy="172.7" r="1.30" fill="#9a24fb"/>
<circle cx="144.2" cy="174.6" r="1.30" fill="#9a24fb"/>
<circle cx="135.2" cy="182.7" r="1.30" fill="#9a24fb"/>
<circle cx="169.0" cy="147.9" r="1.30" fill="#9a24fb"/>
<circle cx="140.6" cy="176.6" r="1.30" fill="#9a24fb"/>
<circle cx="136.9" cy="186.1" r="1.30" fill="#9a24fb"/>
<circle cx="150.5" cy="171.7" r="1.30" fill="#9a24fb"/>
<circle cx="126.3" cy="189.2" r="1.30" fill="#9a24fb"/>
<circle cx="121.8" cy="198.7" r="1.30" fill="#9a24fb"/>
<circle cx="138.8" cy="181.1" r="1.30" fill="#9a24fb"/>
<circle cx="131.3" cy="187.1" r="1.30" fill="#9a24fb"/>
<circle cx="166.5" cy="148.8" r="1.30" fill="#9a24fb"/>
<circle cx="132.1" cy="185.3" r="1.30" fill="#9a24fb"/>
<circle cx="150.7" cy="170.9" r="1.30" fill="#9a24fb"/>
<circle cx="130.7" cy="185.3" r="1.30" fill="#9a24fb"/>
<circle cx="125.1" cy="193.6" r="1.30" fill="#9a24fb"/>
<circle cx="118.4" cy="195.5" r="1.30" fill="#9a24fb"/>
<circle cx="132.6" cy="183.4" r="1.30" fill="#9a24fb"/>
<circle cx="140.7" cy="179.6" r="1.30" fill="#9a24fb"/>
<circle cx="148.0" cy="174.4" r="1.30" fill="#9a24fb"/>
<circle cx="157.0" cy="165.4" r="1.30" fill="#9a24fb"/>
<circle cx="156.4" cy="168.3" r="1.30" fill="#9a24fb"/>
<circle cx="144.5" cy="177.6" r="1.30" fill="#9a24fb"/>
<circle cx="95.1" cy="223.7" r="1.30" fill="#9a24fb"/>
<circle cx="156.7" cy="163.3" r="1.30" fill="#9a24fb"/>
<circle cx="144.2" cy="177.8" r="1.30" fill="#9a24fb"/>
<circle cx="125.1" cy="189.1" r="1.30" fill="#9a24fb"/>
<circle cx="135.7" cy="186.3" r="1.30" fill="#9924fb"/>
<circle cx="88.3" cy="225.7" r="1.30" fill="#9924fb"/>
<circle cx="135.5" cy="180.7" r="1.30" fill="#9924fb"/>
<circle cx="131.5" cy="184.6" r="1.30" fill="#9924fb"/>
<circle cx="141.1" cy="177.3" r="1.30" fill="#9924fb"/>
<circle cx="148.9" cy="168.6" r="1.30" fill="#9924fb"/>
<circle cx="126.5" cy="192.5" r="1.30" fill="#9924fb"/>
<circle cx="154.1" cy="166.8" r="1.30" fill="#9924fb"/>
<circle cx="155.1" cy="166.0" r="1.30" fill="#9924fb"/>
<circle cx="155.7" cy="167.4" r="1.30" fill="#9924fb"/>
<circle cx="147.6" cy="174.4" r="1.30" fill="#9924fb"/>
<circle cx="143.7" cy="174.4" r="1.30" fill="#9924fb"/>
<circle cx="153.1" cy="166.1" r="1.30" fill="#9924fb"/>
<circle cx="98.2" cy="221.1" r="1.30" fill="#9924fb"/>
<circle cx="139.6" cy="183.1" r="1.30" fill="#9924fb"/>
<circle cx="113.5" cy="200.8" r="1.30" fill="#9924fb"/>
<circle cx="150.9" cy="172.6" r="1.30" fill="#9924fb"/>
<circle cx="151.6" cy="170.8" r="1.30" fill="#9924fb"/>
<circle cx="150.5" cy="171.2" r="1.30" fill="#9924fb"/>
<circle cx="130.5" cy="188.8" r="1.30" fill="#9924fb"/>
<circle cx="144.2" cy="174.2" r="1.30" fill="#9924fb"/>
<circle cx="148.8" cy="171.2" r="1.30" fill="#9924fb"/>
<circle cx="127.6" cy="190.8" r="1.30" fill="#9924fb"/>
<circle cx="88.4" cy="230.6" r="1.30" fill="#9924fb"/>
<circle cx="161.3" cy="165.0" r="1.30" fill="#9924fb"/>
<circle cx="119.5" cy="200.0" r="1.30" fill="#9924fb"/>
<circle cx="126.3" cy="188.0" r="1.30" fill="#9924fb"/>
<circle cx="112.8" cy="199.2" r="1.30" fill="#9924fb"/>
<circle cx="150.5" cy="167.2" r="1.30" fill="#9924fb"/>
<circle cx="133.0" cy="186.9" r="1.30" fill="#9924fb"/>
<circle cx="122.7" cy="195.8" r="1.30" fill="#9924fb"/>
<circle cx="85.0" cy="233.8" r="1.30" fill="#9924fb"/>
<circle cx="99.2" cy="215.2" r="1.30" fill="#9924fb"/>
<circle cx="149.8" cy="172.2" r="1.30" fill="#9924fb"/>
<circle cx="141.8" cy="177.6" r="1.30" fill="#9924fb"/>
<circle cx="138.5" cy="182.0" r="1.30" fill="#9924fb"/>
<circle cx="141.1" cy="180.1" r="1.30" fill="#9924fb"/>
<circle cx="83.1" cy="232.5" r="1.30" fill="#9924fb"/>
<circle cx="83.7" cy="234.9" r="1.30" fill="#9924fb"/>
<circle cx="148.4" cy="172.1" r="1.30" fill="#9924fb"/>
<circle cx="138.3" cy="182.6" r="1.30" fill="#9924fb"/>
<circle cx="115.2" cy="205.3" r="1.30" fill="#9924fb"/>
<circle cx="144.0" cy="175.6" r="1.30" fill="#9924fb"/>
<circle cx="131.9" cy="186.9" r="1.30" fill="#9924fb"/>
<circle cx="172.1" cy="155.9" r="1.30" fill="#9924fb"/>
<circle cx="150.6" cy="167.1" r="1.30" fill="#9924fb"/>
<circle cx="140.2" cy="180.6" r="1.30" fill="#9924fb"/>
<circle cx="101.2" cy="218.1" r="1.30" fill="#9924fb"/>
<circle cx="135.5" cy="176.7" r="1.30" fill="#9924fb"/>
<circle cx="140.0" cy="175.8" r="1.30" fill="#9924fb"/>
<circle cx="120.8" cy="199.4" r="1.30" fill="#9924fb"/>
<circle cx="100.4" cy="214.2" r="1.30" fill="#9924fb"/>
<circle cx="142.7" cy="178.8" r="1.30" fill="#9924fb"/>
<circle cx="129.4" cy="187.6" r="1.30" fill="#9924fb"/>
<circle cx="158.2" cy="165.2" r="1.30" fill="#9924fb"/>
<circle cx="145.5" cy="178.3" r="1.30" fill="#9924fb"/>
<circle cx="152.7" cy="172.4" r="1.30" fill="#9924fb"/>
<circle cx="93.0" cy="224.8" r="1.30" fill="#9924fb"/>
<circle cx="143.9" cy="173.6" r="1.30" fill="#9924fb"/>
<circle cx="129.4" cy="188.8" r="1.30" fill="#9924fb"/>
<circle cx="130.6" cy="189.2" r="1.30" fill="#9924fb"/>
<circle cx="154.9" cy="169.7" r="1.30" fill="#9824fb"/>
<circle cx="130.7" cy="185.1" r="1.30" fill="#9824fb"/>
<circle cx="168.8" cy="156.6" r="1.30" fill="#9824fb"/>
<circle cx="102.5" cy="211.4" r="1.30" fill="#9824fb"/>
<circle cx="107.9" cy="210.8" r="1.30" fill="#9824fb"/>
<circle cx="125.9" cy="195.0" r="1.30" fill="#9824fb"/>
<circle cx="132.6" cy="182.9" r="1.30" fill="#9824fb"/>
<circle cx="143.3" cy="176.9" r="1.30" fill="#9824fb"/>
<circle cx="147.4" cy="173.5" r="1.30" fill="#9824fb"/>
<circle cx="121.3" cy="193.1" r="1.30" fill="#9824fb"/>
<circle cx="125.2" cy="195.6" r="1.30" fill="#9824fb"/>
<circle cx="128.7" cy="190.8" r="1.30" fill="#9824fb"/>
<circle cx="155.8" cy="168.9" r="1.30" fill="#9824fb"/>
<circle cx="103.1" cy="211.4" r="1.30" fill="#9824fb"/>
<circle cx="168.4" cy="158.7" r="1.30" fill="#9824fb"/>
<circle cx="160.9" cy="164.7" r="1.30" fill="#9824fb"/>
<circle cx="107.3" cy="210.6" r="1.30" fill="#9824fb"/>
<circle cx="144.7" cy="174.6" r="1.30" fill="#9824fb"/>
<circle cx="87.2" cy="232.5" r="1.30" fill="#9824fb"/>
<circle cx="116.1" cy="199.4" r="1.30" fill="#9824fb"/>
<circle cx="137.0" cy="184.9" r="1.30" fill="#9824fb"/>
<circle cx="103.8" cy="216.0" r="1.30" fill="#9824fb"/>
<circle cx="110.2" cy="207.6" r="1.30" fill="#9824fb"/>
<circle cx="112.3" cy="207.6" r="1.30" fill="#9824fb"/>
<circle cx="127.2" cy="188.4" r="1.30" fill="#9824fb"/>
<circle cx="144.8" cy="176.0" r="1.30" fill="#9824fb"/>
<circle cx="109.6" cy="205.0" r="1.30" fill="#9824fb"/>
<circle cx="118.7" cy="196.9" r="1.30" fill="#9824fb"/>
<circle cx="115.9" cy="197.9" r="1.30" fill="#9824fb"/>
<circle cx="85.3" cy="232.7" r="1.30" fill="#9824fb"/>
<circle cx="140.5" cy="181.3" r="1.30" fill="#9824fb"/>
<circle cx="108.1" cy="210.4" r="1.30" fill="#9824fb"/>
<circle cx="175.9" cy="132.2" r="1.30" fill="#9824fb"/>
<circle cx="126.4" cy="187.9" r="1.30" fill="#9824fb"/>
<circle cx="121.8" cy="196.1" r="1.30" fill="#9824fb"/>
<circle cx="146.0" cy="172.8" r="1.30" fill="#9824fb"/>
<circle cx="85.1" cy="230.0" r="1.30" fill="#9824fb"/>
<circle cx="144.9" cy="172.4" r="1.30" fill="#9824fb"/>
<circle cx="119.6" cy="197.3" r="1.30" fill="#9824fb"/>
<circle cx="113.2" cy="207.0" r="1.30" fill="#9824fb"/>
<circle cx="132.7" cy="184.0" r="1.30" fill="#9824fb"/>
<circle cx="155.0" cy="166.1" r="1.30" fill="#9824fb"/>
<circle cx="158.8" cy="162.2" r="1.30" fill="#9824fb"/>
<circle cx="145.2" cy="178.0" r="1.30" fill="#9824fb"/>
<circle cx="140.1" cy="177.0" r="1.30" fill="#9824fb"/>
<circle cx="165.1" cy="162.3" r="1.30" fill="#9824fb"/>
<circle cx="108.1" cy="211.0" r="1.30" fill="#9824fb"/>
<circle cx="122.0" cy="196.5" r="1.30" fill="#9824fb"/>
<circle cx="103.1" cy="215.7" r="1.30" fill="#9824fb"/>
<circle cx="147.8" cy="175.5" r="1.30" fill="#9824fb"/>
<circle cx="89.2" cy="225.5" r="1.30" fill="#9824fb"/>
<circle cx="82.4" cy="233.4" r="1.30" fill="#9824fb"/>
<circle cx="115.2" cy="200.1" r="1.30" fill="#9824fb"/>
<circle cx="151.7" cy="171.9" r="1.30" fill="#9824fb"/>
<circle cx="108.0" cy="206.8" r="1.30" fill="#9824fb"/>
<circle cx="126.0" cy="192.2" r="1.30" fill="#9824fb"/>
<circle cx="143.2" cy="178.3" r="1.30" fill="#9824fb"/>
<circle cx="123.2" cy="195.6" r="1.30" fill="#9824fb"/>
<circle cx="95.7" cy="219.2" r="1.30" fill="#9824fb"/>
<circle cx="138.2" cy="179.5" r="1.30" fill="#9723fa"/>
<circle cx="143.5" cy="179.2" r="1.30" fill="#9723fa"/>
<circle cx="151.7" cy="172.1" r="1.30" fill="#9723fa"/>
<circle cx="134.0" cy="184.1" r="1.30" fill="#9723fa"/>
<circle cx="131.1" cy="187.9" r="1.30" fill="#9723fa"/>
<circle cx="99.8" cy="213.3" r="1.30" fill="#9723fa"/>
<circle cx="140.7" cy="181.7" r="1.30" fill="#9723fa"/>
<circle cx="134.5" cy="184.4" r="1.30" fill="#9723fa"/>
<circle cx="129.2" cy="190.8" r="1.30" fill="#9723fa"/>
<circle cx="116.7" cy="198.6" r="1.30" fill="#9723fa"/>
<circle cx="116.7" cy="201.1" r="1.30" fill="#9723fa"/>
<circle cx="130.7" cy="187.8" r="1.30" fill="#9723fa"/>
<circle cx="105.2" cy="213.8" r="1.30" fill="#9723fa"/>
<circle cx="113.2" cy="201.9" r="1.30" fill="#9723fa"/>
<circle cx="149.0" cy="173.7" r="1.30" fill="#9723fa"/>
<circle cx="148.4" cy="170.4" r="1.30" fill="#9723fa"/>
<circle cx="119.6" cy="197.5" r="1.30" fill="#9723fa"/>
<circle cx="152.4" cy="165.9" r="1.30" fill="#9723fa"/>
<circle cx="106.9" cy="204.7" r="1.30" fill="#9723fa"/>
<circle cx="97.5" cy="216.8" r="1.30" fill="#9723fa"/>
<circle cx="147.6" cy="170.9" r="1.30" fill="#9723fa"/>
<circle cx="147.5" cy="172.3" r="1.30" fill="#9723fa"/>
<circle cx="133.2" cy="185.1" r="1.30" fill="#9723fa"/>
<circle cx="89.6" cy="224.6" r="1.30" fill="#9723fa"/>
<circle cx="144.5" cy="175.4" r="1.30" fill="#9723fa"/>
<circle cx="134.7" cy="182.1" r="1.30" fill="#9723fa"/>
<circle cx="115.2" cy="200.7" r="1.30" fill="#9723fa"/>
<circle cx="113.1" cy="201.4" r="1.30" fill="#9723fa"/>
<circle cx="95.3" cy="223.4" r="1.30" fill="#9723fa"/>
<circle cx="144.7" cy="172.9" r="1.30" fill="#9723fa"/>
<circle cx="119.5" cy="195.8" r="1.30" fill="#9723fa"/>
<circle cx="91.0" cy="227.7" r="1.30" fill="#9723fa"/>
<circle cx="137.0" cy="182.1" r="1.30" fill="#9723fa"/>
<circle cx="88.5" cy="225.9" r="1.30" fill="#9723fa"/>
<circle cx="86.6" cy="227.2" r="1.30" fill="#9723fa"/>
<circle cx="135.6" cy="184.4" r="1.30" fill="#9723fa"/>
<circle cx="126.3" cy="190.3" r="1.30" fill="#9723fa"/>
<circle cx="124.4" cy="193.1" r="1.30" fill="#9723fa"/>
<circle cx="99.2" cy="215.2" r="1.30" fill="#9723fa"/>
<circle cx="120.0" cy="198.0" r="1.30" fill="#9723fa"/>
<circle cx="152.3" cy="171.6" r="1.30" fill="#9723fa"/>
<circle cx="112.0" cy="206.3" r="1.30" fill="#9723fa"/>
<circle cx="134.8" cy="182.6" r="1.30" fill="#9723fa"/>
<circle cx="167.4" cy="160.0" r="1.30" fill="#9723fa"/>
<circle cx="131.6" cy="186.7" r="1.30" fill="#9723fa"/>
<circle cx="132.2" cy="185.8" r="1.30" fill="#9723fa"/>
<circle cx="110.2" cy="207.7" r="1.30" fill="#9723fa"/>
<circle cx="132.1" cy="187.5" r="1.30" fill="#9723fa"/>
<circle cx="106.2" cy="211.6" r="1.30" fill="#9723fa"/>
<circle cx="107.5" cy="210.3" r="1.30" fill="#9723fa"/>
<circle cx="144.0" cy="173.7" r="1.30" fill="#9723fa"/>
<circle cx="135.8" cy="182.3" r="1.30" fill="#9723fa"/>
<circle cx="134.6" cy="182.2" r="1.30" fill="#9723fa"/>
<circle cx="91.0" cy="221.6" r="1.30" fill="#9723fa"/>
<circle cx="154.2" cy="171.7" r="1.30" fill="#9723fa"/>
<circle cx="110.0" cy="203.3" r="1.30" fill="#9723fa"/>
<circle cx="140.5" cy="176.4" r="1.30" fill="#9723fa"/>
<circle cx="140.2" cy="175.7" r="1.30" fill="#9623fa"/>
<circle cx="100.4" cy="214.0" r="1.30" fill="#9623fa"/>
<circle cx="128.0" cy="189.7" r="1.30" fill="#9623fa"/>
<circle cx="128.1" cy="190.7" r="1.30" fill="#9623fa"/>
<circle cx="107.4" cy="206.0" r="1.30" fill="#9623fa"/>
<circle cx="108.5" cy="205.9" r="1.30" fill="#9623fa"/>
<circle cx="144.7" cy="174.0" r="1.30" fill="#9623fa"/>
<circle cx="125.3" cy="191.4" r="1.30" fill="#9623fa"/>
<circle cx="103.3" cy="215.1" r="1.30" fill="#9623fa"/>
<circle cx="128.0" cy="191.0" r="1.30" fill="#9623fa"/>
<circle cx="97.5" cy="223.2" r="1.30" fill="#9623fa"/>
<circle cx="133.6" cy="184.7" r="1.30" fill="#9623fa"/>
<circle cx="130.1" cy="185.8" r="1.30" fill="#9623fa"/>
<circle cx="142.8" cy="177.5" r="1.30" fill="#9623fa"/>
<circle cx="139.4" cy="181.1" r="1.30" fill="#9623fa"/>
<circle cx="92.8" cy="226.7" r="1.30" fill="#9623fa"/>
<circle cx="91.7" cy="226.1" r="1.30" fill="#9623fa"/>
<circle cx="160.2" cy="162.5" r="1.30" fill="#9623fa"/>
<circle cx="138.7" cy="181.5" r="1.30" fill="#9623fa"/>
<circle cx="140.1" cy="178.4" r="1.30" fill="#9623fa"/>
<circle cx="101.3" cy="216.7" r="1.30" fill="#9623fa"/>
<circle cx="131.5" cy="185.7" r="1.30" fill="#9623fa"/>
<circle cx="127.7" cy="191.0" r="1.30" fill="#9623fa"/>
<circle cx="84.2" cy="230.6" r="1.30" fill="#9623fa"/>
<circle cx="93.5" cy="221.0" r="1.30" fill="#9623fa"/>
<circle cx="117.7" cy="199.1" r="1.30" fill="#9623fa"/>
<circle cx="132.8" cy="183.9" r="1.30" fill="#9623fa"/>
<circle cx="109.9" cy="207.8" r="1.30" fill="#9623fa"/>
<circle cx="87.5" cy="226.5" r="1.30" fill="#9523fa"/>
<circle cx="115.6" cy="198.5" r="1.30" fill="#9523fa"/>
<circle cx="106.8" cy="207.2" r="1.30" fill="#9523fa"/>
<circle cx="126.8" cy="189.4" r="1.30" fill="#9523fa"/>
<circle cx="161.9" cy="153.3" r="1.30" fill="#9523fa"/>
<circle cx="117.8" cy="199.1" r="1.30" fill="#9523fa"/>
<circle cx="139.7" cy="177.7" r="1.30" fill="#9423fa"/>
<circle cx="145.6" cy="177.6" r="1.30" fill="#9423fa"/>
<circle cx="143.5" cy="177.9" r="1.30" fill="#9423fa"/>
<circle cx="128.7" cy="187.7" r="1.30" fill="#9423fa"/>
<circle cx="127.8" cy="188.6" r="1.30" fill="#9423fa"/>
<circle cx="136.8" cy="182.0" r="1.30" fill="#9423fa"/>
<circle cx="82.2" cy="232.4" r="1.30" fill="#9423fa"/>
<circle cx="144.2" cy="174.9" r="1.30" fill="#9323fa"/>
<circle cx="141.4" cy="176.6" r="1.30" fill="#9323fa"/>
<circle cx="83.9" cy="230.1" r="1.30" fill="#9323fa"/>
<circle cx="151.1" cy="170.8" r="1.30" fill="#9323fa"/>
<circle cx="82.2" cy="231.4" r="1.30" fill="#9323fa"/>
<circle cx="151.4" cy="170.5" r="1.30" fill="#9323fa"/>
<circle cx="135.5" cy="183.3" r="1.30" fill="#9323fa"/>
<circle cx="91.0" cy="222.7" r="1.30" fill="#9323fa"/>
<circle cx="142.8" cy="176.6" r="1.30" fill="#9323fa"/>
<circle cx="133.2" cy="185.7" r="1.30" fill="#9323fa"/>
<circle cx="133.2" cy="187.4" r="1.30" fill="#9323fa"/>
<circle cx="168.3" cy="157.2" r="1.30" fill="#9323fa"/>
<circle cx="89.0" cy="229.7" r="1.30" fill="#9323fa"/>
<circle cx="125.0" cy="190.7" r="1.30" fill="#9223fa"/>
<circle cx="98.9" cy="216.1" r="1.30" fill="#9223fa"/>
<circle cx="131.6" cy="183.7" r="1.30" fill="#9223fa"/>
<circle cx="129.3" cy="190.3" r="1.30" fill="#9223fa"/>
<circle cx="97.1" cy="221.8" r="1.30" fill="#9223fa"/>
<circle cx="141.2" cy="175.7" r="1.30" fill="#9223fa"/>
<circle cx="128.6" cy="191.7" r="1.30" fill="#9223fa"/>
<circle cx="158.7" cy="166.5" r="1.30" fill="#9223fa"/>
<circle cx="122.6" cy="193.0" r="1.30" fill="#9223fa"/>
<circle cx="123.3" cy="192.7" r="1.30" fill="#9123fa"/>
<circle cx="123.5" cy="194.0" r="1.30" fill="#9123fa"/>
<circle cx="113.0" cy="201.3" r="1.30" fill="#9123fa"/>
<circle cx="122.3" cy="192.6" r="1.30" fill="#9123fa"/>
<circle cx="138.4" cy="177.3" r="1.30" fill="#9123f9"/>
<circle cx="140.1" cy="177.3" r="1.30" fill="#9123f9"/>
<circle cx="116.6" cy="198.1" r="1.30" fill="#9123f9"/>
<circle cx="113.8" cy="201.6" r="1.30" fill="#9123f9"/>
<circle cx="123.3" cy="195.7" r="1.30" fill="#9123f9"/>
<circle cx="116.6" cy="196.7" r="1.30" fill="#9123f9"/>
<circle cx="133.5" cy="184.5" r="1.30" fill="#9023f9"/>
<circle cx="113.9" cy="206.6" r="1.30" fill="#9023f9"/>
<circle cx="133.0" cy="183.7" r="1.30" fill="#9023f9"/>
<circle cx="123.0" cy="191.8" r="1.30" fill="#9023f9"/>
<circle cx="136.4" cy="181.3" r="1.30" fill="#9023f9"/>
<circle cx="100.5" cy="216.1" r="1.30" fill="#9023f9"/>
<circle cx="144.9" cy="174.1" r="1.30" fill="#9023f9"/>
<circle cx="90.1" cy="228.3" r="1.30" fill="#9023f9"/>
<circle cx="134.8" cy="184.6" r="1.30" fill="#9023f9"/>
<circle cx="137.6" cy="182.6" r="1.30" fill="#8f23f9"/>
<circle cx="122.4" cy="192.7" r="1.30" fill="#8f23f9"/>
<circle cx="86.4" cy="228.5" r="1.30" fill="#8f23f9"/>
<circle cx="140.1" cy="178.9" r="1.30" fill="#8f23f9"/>
<circle cx="136.7" cy="184.6" r="1.30" fill="#8f23f9"/>
<circle cx="148.9" cy="171.2" r="1.30" fill="#8f23f9"/>
<circle cx="82.2" cy="231.5" r="1.30" fill="#8f23f9"/>
<circle cx="97.4" cy="217.5" r="1.30" fill="#8f23f9"/>
<circle cx="106.4" cy="209.5" r="1.30" fill="#8f23f9"/>
<circle cx="129.5" cy="189.2" r="1.30" fill="#8f23f9"/>
<circle cx="137.6" cy="180.4" r="1.30" fill="#8e23f9"/>
<circle cx="128.3" cy="189.9" r="1.30" fill="#8e23f9"/>
<circle cx="138.1" cy="181.0" r="1.30" fill="#8e23f9"/>
<circle cx="147.6" cy="174.1" r="1.30" fill="#8e23f9"/>
<circle cx="138.9" cy="180.0" r="1.30" fill="#8e23f9"/>
<circle cx="124.2" cy="193.1" r="1.30" fill="#8e23f9"/>
<circle cx="123.6" cy="193.5" r="1.30" fill="#8e23f9"/>
<circle cx="122.9" cy="197.0" r="1.30" fill="#8e23f9"/>
<circle cx="108.1" cy="205.6" r="1.30" fill="#8e23f9"/>
<circle cx="127.5" cy="188.8" r="1.30" fill="#8e23f9"/>
<circle cx="90.4" cy="226.9" r="1.30" fill="#8e23f9"/>
<circle cx="129.1" cy="188.7" r="1.30" fill="#8e23f9"/>
<circle cx="125.3" cy="190.8" r="1.30" fill="#8e23f9"/>
<circle cx="116.8" cy="200.4" r="1.30" fill="#8e23f9"/>
<circle cx="158.1" cy="162.5" r="1.30" fill="#8e23f9"/>
<circle cx="110.1" cy="205.3" r="1.30" fill="#8e23f9"/>
<circle cx="110.1" cy="208.3" r="1.30" fill="#8e23f9"/>
<circle cx="134.1" cy="185.0" r="1.30" fill="#8d23f9"/>
<circle cx="158.8" cy="162.2" r="1.30" fill="#8d23f9"/>
<circle cx="118.7" cy="200.4" r="1.30" fill="#8d23f9"/>
<circle cx="130.5" cy="187.7" r="1.30" fill="#8d23f9"/>
<circle cx="139.6" cy="180.2" r="1.30" fill="#8d23f9"/>
<circle cx="135.5" cy="184.3" r="1.30" fill="#8d23f9"/>
<circle cx="111.9" cy="201.2" r="1.30" fill="#8d23f9"/>
<circle cx="132.0" cy="184.0" r="1.30" fill="#8d23f9"/>
<circle cx="111.9" cy="205.1" r="1.30" fill="#8d23f9"/>
<circle cx="143.2" cy="179.0" r="1.30" fill="#8d23f9"/>
<circle cx="82.8" cy="232.2" r="1.30" fill="#8c23f9"/>
<circle cx="156.2" cy="167.5" r="1.30" fill="#8c23f9"/>
<circle cx="118.0" cy="195.5" r="1.30" fill="#8c23f9"/>
<circle cx="108.8" cy="210.3" r="1.30" fill="#8c23f9"/>
<circle cx="148.0" cy="170.7" r="1.30" fill="#8c23f9"/>
<circle cx="107.6" cy="211.3" r="1.30" fill="#8c23f9"/>
<circle cx="144.1" cy="176.4" r="1.30" fill="#8c23f9"/>
<circle cx="123.7" cy="191.9" r="1.30" fill="#8c23f9"/>
<circle cx="125.1" cy="191.9" r="1.30" fill="#8b23f9"/>
<circle cx="93.1" cy="221.1" r="1.30" fill="#8b23f9"/>
<circle cx="88.4" cy="225.6" r="1.30" fill="#8b23f9"/>
<circle cx="105.8" cy="207.2" r="1.30" fill="#8b23f9"/>
<circle cx="123.4" cy="195.1" r="1.30" fill="#8b23f9"/>
<circle cx="114.6" cy="202.4" r="1.30" fill="#8b23f9"/>
<circle cx="136.7" cy="182.1" r="1.30" fill="#8a23f9"/>
<circle cx="118.5" cy="199.5" r="1.30" fill="#8a23f9"/>
<circle cx="135.0" cy="182.8" r="1.30" fill="#8923f9"/>
<circle cx="130.7" cy="187.3" r="1.30" fill="#8923f9"/>
<circle cx="104.5" cy="209.0" r="1.30" fill="#8923f9"/>
<circle cx="121.0" cy="196.9" r="1.30" fill="#8923f9"/>
<circle cx="135.4" cy="185.5" r="1.30" fill="#8923f9"/>
<circle cx="86.9" cy="232.1" r="1.30" fill="#8923f9"/>
<circle cx="85.7" cy="229.1" r="1.30" fill="#8923f9"/>
<circle cx="88.6" cy="225.7" r="1.30" fill="#8923f9"/>
<circle cx="147.6" cy="173.8" r="1.30" fill="#8923f9"/>
<circle cx="135.9" cy="184.0" r="1.30" fill="#8923f9"/>
<circle cx="85.9" cy="228.6" r="1.30" fill="#8923f9"/>
<circle cx="141.2" cy="177.9" r="1.30" fill="#8923f9"/>
<circle cx="152.7" cy="170.6" r="1.30" fill="#8923f9"/>
<circle cx="142.0" cy="179.3" r="1.30" fill="#8923f9"/>
<circle cx="132.0" cy="184.1" r="1.30" fill="#8823f9"/>
<circle cx="122.7" cy="195.4" r="1.30" fill="#8823f9"/>
<circle cx="129.9" cy="186.8" r="1.30" fill="#8823f9"/>
<circle cx="133.1" cy="185.1" r="1.30" fill="#8823f9"/>
<circle cx="129.8" cy="188.8" r="1.30" fill="#8823f9"/>
<circle cx="143.1" cy="179.7" r="1.30" fill="#8823f9"/>
<circle cx="136.3" cy="181.9" r="1.30" fill="#8823f9"/>
<circle cx="117.7" cy="201.7" r="1.30" fill="#8823f9"/>
<circle cx="134.4" cy="185.8" r="1.30" fill="#8823f9"/>
<circle cx="130.1" cy="187.9" r="1.30" fill="#8823f9"/>
<circle cx="114.8" cy="203.8" r="1.30" fill="#8823f9"/>
<circle cx="123.8" cy="195.0" r="1.30" fill="#8823f9"/>
<circle cx="128.2" cy="188.6" r="1.30" fill="#8823f9"/>
<circle cx="128.5" cy="187.1" r="1.30" fill="#8823f9"/>
<circle cx="102.9" cy="212.5" r="1.30" fill="#8823f9"/>
<circle cx="134.8" cy="184.4" r="1.30" fill="#8723f9"/>
<circle cx="126.7" cy="190.0" r="1.30" fill="#8723f9"/>
<circle cx="125.8" cy="190.8" r="1.30" fill="#8723f9"/>
<circle cx="177.2" cy="138.6" r="1.30" fill="#8723f9"/>
<circle cx="156.6" cy="166.3" r="1.30" fill="#8723f9"/>
<circle cx="109.3" cy="206.4" r="1.30" fill="#8723f8"/>
<circle cx="131.3" cy="188.3" r="1.30" fill="#8723f8"/>
<circle cx="105.9" cy="212.0" r="1.30" fill="#8723f8"/>
<circle cx="86.2" cy="228.0" r="1.30" fill="#8723f8"/>
<circle cx="143.8" cy="179.0" r="1.30" fill="#8723f8"/>
<circle cx="135.3" cy="184.4" r="1.30" fill="#8623f8"/>
<circle cx="92.3" cy="222.5" r="1.30" fill="#8623f8"/>
<circle cx="148.9" cy="172.9" r="1.30" fill="#8623f8"/>
<circle cx="122.9" cy="193.8" r="1.30" fill="#8623f8"/>
<circle cx="135.2" cy="183.1" r="1.30" fill="#8623f8"/>
<circle cx="145.2" cy="175.4" r="1.30" fill="#8623f8"/>
<circle cx="94.6" cy="224.4" r="1.30" fill="#8623f8"/>
<circle cx="144.3" cy="174.8" r="1.30" fill="#8623f8"/>
<circle cx="138.7" cy="184.3" r="1.30" fill="#8623f8"/>
<circle cx="127.7" cy="189.6" r="1.30" fill="#8623f8"/>
<circle cx="125.9" cy="192.1" r="1.30" fill="#8623f8"/>
<circle cx="101.7" cy="212.3" r="1.30" fill="#8623f8"/>
<circle cx="125.5" cy="191.0" r="1.30" fill="#8623f8"/>
<circle cx="89.7" cy="225.2" r="1.30" fill="#8623f8"/>
<circle cx="126.6" cy="192.8" r="1.30" fill="#8623f8"/>
<circle cx="138.9" cy="178.3" r="1.30" fill="#8523f8"/>
<circle cx="138.4" cy="180.5" r="1.30" fill="#8523f8"/>
<circle cx="148.7" cy="171.3" r="1.30" fill="#8523f8"/>
<circle cx="127.1" cy="183.2" r="1.30" fill="#8523f8"/>
<circle cx="150.3" cy="171.2" r="1.30" fill="#8523f8"/>
<circle cx="149.1" cy="173.7" r="1.30" fill="#8523f8"/>
<circle cx="178.1" cy="137.7" r="1.30" fill="#8523f8"/>
<circle cx="120.1" cy="198.0" r="1.30" fill="#8523f8"/>
<circle cx="114.8" cy="203.3" r="1.30" fill="#8523f8"/>
<circle cx="120.9" cy="199.4" r="1.30" fill="#8523f8"/>
<circle cx="132.1" cy="185.6" r="1.30" fill="#8523f8"/>
<circle cx="131.2" cy="184.1" r="1.30" fill="#8523f8"/>
<circle cx="126.3" cy="189.0" r="1.30" fill="#8523f8"/>
<circle cx="130.2" cy="187.8" r="1.30" fill="#8523f8"/>
<circle cx="118.4" cy="201.1" r="1.30" fill="#8423f8"/>
<circle cx="103.3" cy="211.1" r="1.30" fill="#8423f8"/>
<circle cx="127.1" cy="189.5" r="1.30" fill="#8423f8"/>
<circle cx="88.4" cy="226.8" r="1.30" fill="#8423f8"/>
<circle cx="90.7" cy="227.8" r="1.30" fill="#8423f8"/>
<circle cx="118.0" cy="198.8" r="1.30" fill="#8423f8"/>
<circle cx="122.5" cy="195.0" r="1.30" fill="#8423f8"/>
<circle cx="93.7" cy="225.2" r="1.30" fill="#8423f8"/>
<circle cx="128.2" cy="190.1" r="1.30" fill="#8423f8"/>
<circle cx="131.0" cy="186.7" r="1.30" fill="#8423f8"/>
<circle cx="110.8" cy="208.2" r="1.30" fill="#8423f8"/>
<circle cx="81.7" cy="232.1" r="1.30" fill="#8423f8"/>
<circle cx="146.8" cy="174.8" r="1.30" fill="#8423f8"/>
<circle cx="107.8" cy="206.1" r="1.30" fill="#8423f8"/>
<circle cx="121.3" cy="195.5" r="1.30" fill="#8423f8"/>
<circle cx="105.3" cy="210.8" r="1.30" fill="#8423f8"/>
<circle cx="128.9" cy="189.1" r="1.30" fill="#8323f8"/>
<circle cx="135.6" cy="184.6" r="1.30" fill="#8323f8"/>
<circle cx="112.7" cy="202.0" r="1.30" fill="#8323f8"/>
<circle cx="130.1" cy="189.1" r="1.30" fill="#8323f8"/>
<circle cx="126.6" cy="193.1" r="1.30" fill="#8323f8"/>
<circle cx="94.4" cy="221.0" r="1.30" fill="#8323f8"/>
<circle cx="150.8" cy="171.5" r="1.30" fill="#8323f8"/>
<circle cx="115.3" cy="202.3" r="1.30" fill="#8323f8"/>
<circle cx="91.2" cy="223.5" r="1.30" fill="#8223f8"/>
<circle cx="135.0" cy="185.6" r="1.30" fill="#8223f8"/>
<circle cx="83.8" cy="231.2" r="1.30" fill="#8223f8"/>
<circle cx="82.3" cy="231.6" r="1.30" fill="#8223f8"/>
<circle cx="145.0" cy="175.1" r="1.30" fill="#8223f8"/>
<circle cx="97.4" cy="216.8" r="1.30" fill="#8223f8"/>
<circle cx="105.9" cy="209.1" r="1.30" fill="#8223f8"/>
<circle cx="105.2" cy="214.1" r="1.30" fill="#8223f8"/>
<circle cx="137.6" cy="181.5" r="1.30" fill="#8123f8"/>
<circle cx="130.0" cy="187.9" r="1.30" fill="#8123f8"/>
<circle cx="108.7" cy="210.4" r="1.30" fill="#8123f8"/>
<circle cx="84.0" cy="231.3" r="1.30" fill="#8123f8"/>
<circle cx="125.1" cy="193.4" r="1.30" fill="#8123f8"/>
<circle cx="144.3" cy="174.8" r="1.30" fill="#8123f8"/>
<circle cx="112.8" cy="204.4" r="1.30" fill="#8123f8"/>
<circle cx="129.0" cy="189.6" r="1.30" fill="#8123f8"/>
<circle cx="127.3" cy="190.5" r="1.30" fill="#8123f8"/>
<circle cx="137.2" cy="182.2" r="1.30" fill="#8123f8"/>
<circle cx="123.2" cy="195.4" r="1.30" fill="#8023f8"/>
<circle cx="141.8" cy="177.5" r="1.30" fill="#8023f8"/>
<circle cx="83.8" cy="231.4" r="1.30" fill="#8023f8"/>
<circle cx="138.0" cy="183.4" r="1.30" fill="#8023f8"/>
<circle cx="139.4" cy="181.1" r="1.30" fill="#8023f8"/>
<circle cx="95.0" cy="219.4" r="1.30" fill="#8023f8"/>
<circle cx="148.6" cy="174.4" r="1.30" fill="#8023f8"/>
<circle cx="124.9" cy="191.5" r="1.30" fill="#8023f8"/>
<circle cx="122.7" cy="195.2" r="1.30" fill="#8023f8"/>
<circle cx="112.4" cy="202.0" r="1.30" fill="#8023f8"/>
<circle cx="84.6" cy="234.2" r="1.30" fill="#7f23f8"/>
<circle cx="93.4" cy="224.6" r="1.30" fill="#7f23f8"/>
<circle cx="91.5" cy="227.5" r="1.30" fill="#7f23f8"/>
<circle cx="124.0" cy="192.3" r="1.30" fill="#7f23f8"/>
<circle cx="140.9" cy="177.8" r="1.30" fill="#7f23f8"/>
<circle cx="124.5" cy="193.4" r="1.30" fill="#7f23f8"/>
<circle cx="134.3" cy="184.7" r="1.30" fill="#7f23f8"/>
<circle cx="119.9" cy="199.1" r="1.30" fill="#7f23f8"/>
<circle cx="137.8" cy="181.9" r="1.30" fill="#7f23f8"/>
<circle cx="104.7" cy="210.5" r="1.30" fill="#7f23f8"/>
<circle cx="119.9" cy="199.4" r="1.30" fill="#7f23f8"/>
<circle cx="126.3" cy="193.0" r="1.30" fill="#7f23f8"/>
<circle cx="113.6" cy="202.3" r="1.30" fill="#7f23f8"/>
<circle cx="108.8" cy="205.5" r="1.30" fill="#7f23f8"/>
<circle cx="87.0" cy="232.1" r="1.30" fill="#7f23f8"/>
<circle cx="105.6" cy="212.4" r="1.30" fill="#7f23f8"/>
<circle cx="114.8" cy="205.1" r="1.30" fill="#7f23f8"/>
<circle cx="147.7" cy="173.3" r="1.30" fill="#7e23f8"/>
<circle cx="105.9" cy="211.6" r="1.30" fill="#7e23f8"/>
<circle cx="85.0" cy="233.1" r="1.30" fill="#7e23f8"/>
<circle cx="141.5" cy="179.6" r="1.30" fill="#7e23f8"/>
<circle cx="99.4" cy="219.0" r="1.30" fill="#7e23f8"/>
<circle cx="119.7" cy="196.4" r="1.30" fill="#7e23f8"/>
<circle cx="116.2" cy="198.6" r="1.30" fill="#7e23f8"/>
<circle cx="110.1" cy="208.0" r="1.30" fill="#7e23f8"/>
<circle cx="85.1" cy="229.5" r="1.30" fill="#7e23f8"/>
<circle cx="139.3" cy="180.0" r="1.30" fill="#7d23f8"/>
<circle cx="106.3" cy="209.3" r="1.30" fill="#7d23f8"/>
<circle cx="110.6" cy="208.2" r="1.30" fill="#7d23f8"/>
<circle cx="123.7" cy="193.0" r="1.30" fill="#7d23f7"/>
<circle cx="93.1" cy="221.9" r="1.30" fill="#7d23f7"/>
<circle cx="109.6" cy="205.4" r="1.30" fill="#7d23f7"/>
<circle cx="147.4" cy="170.8" r="1.30" fill="#7d23f7"/>
<circle cx="119.6" cy="196.1" r="1.30" fill="#7d23f7"/>
<circle cx="147.7" cy="174.0" r="1.30" fill="#7d23f7"/>
<circle cx="143.1" cy="174.2" r="1.30" fill="#7d23f7"/>
<circle cx="117.3" cy="201.7" r="1.30" fill="#7d23f7"/>
<circle cx="108.1" cy="206.7" r="1.30" fill="#7c23f7"/>
<circle cx="113.0" cy="205.7" r="1.30" fill="#7c23f7"/>
<circle cx="102.1" cy="217.2" r="1.30" fill="#7c23f7"/>
<circle cx="137.1" cy="182.2" r="1.30" fill="#7c23f7"/>
<circle cx="86.7" cy="228.7" r="1.30" fill="#7c23f7"/>
<circle cx="122.3" cy="193.4" r="1.30" fill="#7c23f7"/>
<circle cx="150.5" cy="171.4" r="1.30" fill="#7c23f7"/>
<circle cx="117.7" cy="199.3" r="1.30" fill="#7c23f7"/>
<circle cx="86.2" cy="233.1" r="1.30" fill="#7c23f7"/>
<circle cx="123.4" cy="192.9" r="1.30" fill="#7c23f7"/>
<circle cx="94.6" cy="223.5" r="1.30" fill="#7b23f7"/>
<circle cx="83.8" cy="233.4" r="1.30" fill="#7b23f7"/>
<circle cx="117.7" cy="196.3" r="1.30" fill="#7b23f7"/>
<circle cx="134.9" cy="185.1" r="1.30" fill="#7b23f7"/>
<circle cx="133.6" cy="183.3" r="1.30" fill="#7b23f7"/>
<circle cx="130.2" cy="188.3" r="1.30" fill="#7b23f7"/>
<circle cx="126.4" cy="191.2" r="1.30" fill="#7b23f7"/>
<circle cx="138.1" cy="182.2" r="1.30" fill="#7b23f7"/>
<circle cx="136.8" cy="184.1" r="1.30" fill="#7b23f7"/>
<circle cx="135.4" cy="183.9" r="1.30" fill="#7a23f7"/>
<circle cx="138.0" cy="182.7" r="1.30" fill="#7a23f7"/>
<circle cx="101.2" cy="212.5" r="1.30" fill="#7a23f7"/>
<circle cx="127.8" cy="190.0" r="1.30" fill="#7a23f7"/>
<circle cx="113.9" cy="201.0" r="1.30" fill="#7a23f7"/>
<circle cx="132.6" cy="185.0" r="1.30" fill="#7a23f7"/>
<circle cx="91.4" cy="227.0" r="1.30" fill="#7a23f7"/>
<circle cx="92.0" cy="227.1" r="1.30" fill="#7a23f7"/>
<circle cx="101.9" cy="214.6" r="1.30" fill="#7a23f7"/>
<circle cx="151.0" cy="171.3" r="1.30" fill="#7a23f7"/>
<circle cx="95.9" cy="218.8" r="1.30" fill="#7923f7"/>
<circle cx="144.5" cy="176.2" r="1.30" fill="#7923f7"/>
<circle cx="125.3" cy="189.8" r="1.30" fill="#7923f7"/>
<circle cx="112.8" cy="202.2" r="1.30" fill="#7923f7"/>
<circle cx="110.0" cy="209.0" r="1.30" fill="#7923f7"/>
<circle cx="121.3" cy="197.6" r="1.30" fill="#7923f7"/>
<circle cx="115.2" cy="201.9" r="1.30" fill="#7923f7"/>
<circle cx="150.1" cy="173.4" r="1.30" fill="#7823f7"/>
<circle cx="100.2" cy="217.6" r="1.30" fill="#7823f7"/>
<circle cx="123.0" cy="194.6" r="1.30" fill="#7823f7"/>
<circle cx="118.6" cy="198.1" r="1.30" fill="#7823f7"/>
<circle cx="108.9" cy="206.2" r="1.30" fill="#7823f7"/>
<circle cx="91.5" cy="227.9" r="1.30" fill="#7823f7"/>
<circle cx="107.4" cy="211.8" r="1.30" fill="#7823f7"/>
<circle cx="92.8" cy="221.6" r="1.30" fill="#7823f7"/>
<circle cx="105.4" cy="210.2" r="1.30" fill="#7823f7"/>
<circle cx="104.9" cy="214.4" r="1.30" fill="#7723f7"/>
<circle cx="125.9" cy="191.4" r="1.30" fill="#7723f7"/>
<circle cx="130.1" cy="187.5" r="1.30" fill="#7723f7"/>
<circle cx="117.2" cy="199.0" r="1.30" fill="#7723f7"/>
<circle cx="102.1" cy="212.0" r="1.30" fill="#7723f7"/>
<circle cx="119.9" cy="195.6" r="1.30" fill="#7723f7"/>
<circle cx="112.5" cy="206.2" r="1.30" fill="#7723f7"/>
<circle cx="111.2" cy="204.6" r="1.30" fill="#7723f7"/>
<circle cx="115.0" cy="204.1" r="1.30" fill="#7723f7"/>
<circle cx="111.4" cy="205.9" r="1.30" fill="#7723f7"/>
<circle cx="89.2" cy="229.7" r="1.30" fill="#7623f7"/>
<circle cx="114.2" cy="201.4" r="1.30" fill="#7623f7"/>
<circle cx="115.9" cy="199.9" r="1.30" fill="#7623f7"/>
<circle cx="138.6" cy="181.8" r="1.30" fill="#7623f7"/>
<circle cx="101.3" cy="217.3" r="1.30" fill="#7623f7"/>
<circle cx="107.6" cy="207.3" r="1.30" fill="#7623f7"/>
<circle cx="130.7" cy="187.6" r="1.30" fill="#7523f7"/>
<circle cx="112.7" cy="205.0" r="1.30" fill="#7523f7"/>
<circle cx="139.1" cy="180.5" r="1.30" fill="#7523f7"/>
<circle cx="103.9" cy="211.9" r="1.30" fill="#7523f7"/>
<circle cx="118.6" cy="196.9" r="1.30" fill="#7523f7"/>
<circle cx="106.6" cy="208.4" r="1.30" fill="#7523f7"/>
<circle cx="118.1" cy="197.1" r="1.30" fill="#7523f7"/>
<circle cx="106.4" cy="209.9" r="1.30" fill="#7523f7"/>
<circle cx="99.9" cy="218.8" r="1.30" fill="#7423f7"/>
<circle cx="95.8" cy="219.2" r="1.30" fill="#7423f7"/>
<circle cx="122.6" cy="192.3" r="1.30" fill="#7423f7"/>
<circle cx="112.2" cy="205.2" r="1.30" fill="#7323f7"/>
<circle cx="97.5" cy="217.4" r="1.30" fill="#7323f7"/>
<circle cx="121.8" cy="192.7" r="1.30" fill="#7323f7"/>
<circle cx="94.6" cy="220.0" r="1.30" fill="#7323f7"/>
<circle cx="115.1" cy="200.9" r="1.30" fill="#7323f7"/>
<circle cx="128.5" cy="190.3" r="1.30" fill="#7323f7"/>
<circle cx="138.4" cy="180.7" r="1.30" fill="#7323f6"/>
<circle cx="99.9" cy="216.1" r="1.30" fill="#7323f6"/>
<circle cx="122.4" cy="196.7" r="1.30" fill="#7323f6"/>
<circle cx="125.3" cy="191.0" r="1.30" fill="#7323f6"/>
<circle cx="118.8" cy="197.0" r="1.30" fill="#7323f6"/>
<circle cx="116.8" cy="198.3" r="1.30" fill="#7223f6"/>
<circle cx="104.8" cy="209.6" r="1.30" fill="#7223f6"/>
<circle cx="134.2" cy="184.2" r="1.30" fill="#7223f6"/>
<circle cx="133.2" cy="186.2" r="1.30" fill="#7223f6"/>
<circle cx="90.5" cy="226.8" r="1.30" fill="#7223f6"/>
<circle cx="131.0" cy="188.8" r="1.30" fill="#7223f6"/>
<circle cx="96.0" cy="221.9" r="1.30" fill="#7123f6"/>
<circle cx="108.7" cy="206.7" r="1.30" fill="#7123f6"/>
<circle cx="90.3" cy="226.5" r="1.30" fill="#7123f6"/>
<circle cx="86.1" cy="231.1" r="1.30" fill="#7123f6"/>
<circle cx="122.0" cy="194.3" r="1.30" fill="#7023f6"/>
<circle cx="125.6" cy="193.7" r="1.30" fill="#7023f6"/>
<circle cx="83.2" cy="232.4" r="1.30" fill="#7023f6"/>
<circle cx="97.5" cy="221.4" r="1.30" fill="#6f23f6"/>
<circle cx="85.6" cy="228.7" r="1.30" fill="#6f23f6"/>
<circle cx="108.4" cy="207.5" r="1.30" fill="#6f23f6"/>
<circle cx="112.9" cy="202.7" r="1.30" fill="#6f23f6"/>
<circle cx="147.8" cy="173.8" r="1.30" fill="#6f23f6"/>
<circle cx="89.1" cy="229.9" r="1.30" fill="#6f23f6"/>
<circle cx="92.1" cy="222.4" r="1.30" fill="#6f23f6"/>
<circle cx="129.6" cy="187.9" r="1.30" fill="#6f23f6"/>
<circle cx="86.9" cy="227.7" r="1.30" fill="#6e23f6"/>
<circle cx="87.6" cy="228.0" r="1.30" fill="#6e23f6"/>
<circle cx="103.4" cy="211.1" r="1.30" fill="#6e23f6"/>
<circle cx="129.1" cy="187.6" r="1.30" fill="#6e23f6"/>
<circle cx="88.6" cy="226.7" r="1.30" fill="#6e23f6"/>
<circle cx="106.3" cy="208.5" r="1.30" fill="#6d23f6"/>
<circle cx="127.9" cy="191.8" r="1.30" fill="#6d23f6"/>
<circle cx="119.0" cy="199.0" r="1.30" fill="#6d23f6"/>
<circle cx="121.7" cy="194.0" r="1.30" fill="#6d23f6"/>
<circle cx="86.8" cy="232.7" r="1.30" fill="#6d23f6"/>
<circle cx="118.9" cy="199.3" r="1.30" fill="#6d23f6"/>
<circle cx="127.7" cy="189.4" r="1.30" fill="#6d23f6"/>
<circle cx="123.6" cy="194.4" r="1.30" fill="#6d23f6"/>
<circle cx="90.4" cy="226.6" r="1.30" fill="#6d23f6"/>
<circle cx="124.2" cy="193.6" r="1.30" fill="#6c23f6"/>
<circle cx="115.8" cy="202.1" r="1.30" fill="#6c23f6"/>
<circle cx="136.8" cy="181.0" r="1.30" fill="#6c23f6"/>
<circle cx="123.6" cy="193.8" r="1.30" fill="#6c23f6"/>
<circle cx="130.2" cy="190.1" r="1.30" fill="#6c23f6"/>
<circle cx="113.6" cy="204.7" r="1.30" fill="#6c23f6"/>
<circle cx="90.2" cy="225.0" r="1.30" fill="#6c23f6"/>
<circle cx="131.1" cy="188.1" r="1.30" fill="#6c23f6"/>
<circle cx="87.6" cy="227.6" r="1.30" fill="#6c23f6"/>
<circle cx="97.6" cy="221.0" r="1.30" fill="#6b23f6"/>
<circle cx="102.0" cy="212.1" r="1.30" fill="#6b23f6"/>
<circle cx="127.1" cy="188.2" r="1.30" fill="#6b23f6"/>
<circle cx="136.5" cy="181.6" r="1.30" fill="#6b23f6"/>
<circle cx="121.6" cy="194.6" r="1.30" fill="#6b23f6"/>
<circle cx="105.8" cy="212.5" r="1.30" fill="#6b23f6"/>
<circle cx="102.5" cy="216.2" r="1.30" fill="#6b23f6"/>
<circle cx="124.4" cy="190.8" r="1.30" fill="#6b23f6"/>
<circle cx="103.3" cy="211.9" r="1.30" fill="#6b23f6"/>
<circle cx="102.7" cy="211.3" r="1.30" fill="#6b23f6"/>
<circle cx="142.6" cy="178.0" r="1.30" fill="#6b23f6"/>
<circle cx="138.4" cy="182.4" r="1.30" fill="#6a23f6"/>
<circle cx="81.4" cy="232.6" r="1.30" fill="#6a23f6"/>
<circle cx="109.5" cy="205.3" r="1.30" fill="#6a23f6"/>
<circle cx="98.3" cy="218.8" r="1.30" fill="#6a23f6"/>
<circle cx="120.3" cy="196.1" r="1.30" fill="#6a23f6"/>
<circle cx="121.9" cy="194.1" r="1.30" fill="#6a23f6"/>
<circle cx="130.2" cy="187.4" r="1.30" fill="#6a23f6"/>
<circle cx="111.5" cy="206.9" r="1.30" fill="#6a23f6"/>
<circle cx="149.4" cy="172.4" r="1.30" fill="#6a23f6"/>
<circle cx="125.4" cy="189.6" r="1.30" fill="#6a23f6"/>
<circle cx="111.4" cy="206.3" r="1.30" fill="#6923f6"/>
<circle cx="121.2" cy="197.0" r="1.30" fill="#6923f6"/>
<circle cx="86.0" cy="229.6" r="1.30" fill="#6923f6"/>
<circle cx="111.8" cy="204.6" r="1.30" fill="#6923f6"/>
<circle cx="140.6" cy="178.6" r="1.30" fill="#6923f6"/>
<circle cx="90.9" cy="228.4" r="1.30" fill="#6923f5"/>
<circle cx="112.0" cy="204.3" r="1.30" fill="#6923f5"/>
<circle cx="127.2" cy="191.0" r="1.30" fill="#6923f5"/>
<circle cx="119.7" cy="198.1" r="1.30" fill="#6923f5"/>
<circle cx="101.3" cy="215.2" r="1.30" fill="#6823f5"/>
<circle cx="87.6" cy="231.1" r="1.30" fill="#6823f5"/>
<circle cx="93.4" cy="225.3" r="1.30" fill="#6823f5"/>
<circle cx="82.3" cy="233.2" r="1.30" fill="#6823f5"/>
<circle cx="116.7" cy="199.3" r="1.30" fill="#6823f5"/>
<circle cx="118.7" cy="198.4" r="1.30" fill="#6823f5"/>
<circle cx="90.2" cy="227.5" r="1.30" fill="#6823f5"/>
<circle cx="91.3" cy="225.5" r="1.30" fill="#6823f5"/>
<circle cx="123.9" cy="191.4" r="1.30" fill="#6823f5"/>
<circle cx="113.9" cy="201.8" r="1.30" fill="#6823f5"/>
<circle cx="93.5" cy="225.3" r="1.30" fill="#6823f5"/>
<circle cx="142.5" cy="174.7" r="1.30" fill="#6723f5"/>
<circle cx="84.0" cy="233.0" r="1.30" fill="#6723f5"/>
<circle cx="86.4" cy="229.0" r="1.30" fill="#6723f5"/>
<circle cx="126.8" cy="191.1" r="1.30" fill="#6723f5"/>
<circle cx="141.1" cy="176.6" r="1.30" fill="#6723f5"/>
<circle cx="125.2" cy="190.3" r="1.30" fill="#6723f5"/>
<circle cx="129.7" cy="189.3" r="1.30" fill="#6723f5"/>
<circle cx="121.9" cy="196.6" r="1.30" fill="#6723f5"/>
<circle cx="97.6" cy="220.0" r="1.30" fill="#6623f5"/>
<circle cx="119.6" cy="197.8" r="1.30" fill="#6623f5"/>
<circle cx="85.1" cy="233.8" r="1.30" fill="#6623f5"/>
<circle cx="119.8" cy="198.5" r="1.30" fill="#6623f5"/>
<circle cx="112.9" cy="203.4" r="1.30" fill="#6623f5"/>
<circle cx="102.3" cy="215.6" r="1.30" fill="#6623f5"/>
<circle cx="140.7" cy="177.2" r="1.30" fill="#6623f5"/>
<circle cx="126.3" cy="188.9" r="1.30" fill="#6623f5"/>
<circle cx="127.8" cy="191.9" r="1.30" fill="#6523f5"/>
<circle cx="137.2" cy="181.6" r="1.30" fill="#6523f5"/>
<circle cx="106.6" cy="209.3" r="1.30" fill="#6523f5"/>
<circle cx="128.2" cy="190.0" r="1.30" fill="#6523f5"/>
<circle cx="133.5" cy="187.2" r="1.30" fill="#6523f5"/>
<circle cx="118.7" cy="196.3" r="1.30" fill="#6523f5"/>
<circle cx="111.7" cy="203.2" r="1.30" fill="#6523f5"/>
<circle cx="100.9" cy="217.6" r="1.30" fill="#6423f5"/>
<circle cx="87.5" cy="230.9" r="1.30" fill="#6423f5"/>
<circle cx="93.6" cy="222.8" r="1.30" fill="#6423f5"/>
<circle cx="117.2" cy="200.3" r="1.30" fill="#6423f5"/>
<circle cx="105.9" cy="208.4" r="1.30" fill="#6423f5"/>
<circle cx="122.6" cy="193.5" r="1.30" fill="#6423f5"/>
<circle cx="111.9" cy="203.5" r="1.30" fill="#6423f5"/>
<circle cx="103.9" cy="212.5" r="1.30" fill="#6423f5"/>
<circle cx="106.9" cy="208.4" r="1.30" fill="#6423f5"/>
<circle cx="116.5" cy="200.8" r="1.30" fill="#6423f5"/>
<circle cx="131.2" cy="186.4" r="1.30" fill="#6423f5"/>
<circle cx="89.3" cy="228.8" r="1.30" fill="#6423f5"/>
<circle cx="139.3" cy="180.2" r="1.30" fill="#6423f5"/>
<circle cx="114.9" cy="204.2" r="1.30" fill="#6323f5"/>
<circle cx="109.0" cy="205.7" r="1.30" fill="#6323f5"/>
<circle cx="114.2" cy="202.7" r="1.30" fill="#6323f5"/>
<circle cx="148.7" cy="172.5" r="1.30" fill="#6323f5"/>
<circle cx="108.2" cy="210.0" r="1.30" fill="#6323f5"/>
<circle cx="105.1" cy="211.6" r="1.30" fill="#6323f5"/>
<circle cx="138.7" cy="180.7" r="1.30" fill="#6323f5"/>
<circle cx="114.9" cy="202.4" r="1.30" fill="#6323f5"/>
<circle cx="102.2" cy="215.5" r="1.30" fill="#6223f5"/>
<circle cx="113.6" cy="205.3" r="1.30" fill="#6223f5"/>
<circle cx="143.1" cy="177.7" r="1.30" fill="#6223f5"/>
<circle cx="84.8" cy="233.0" r="1.30" fill="#6223f5"/>
<circle cx="146.3" cy="173.9" r="1.30" fill="#6223f5"/>
<circle cx="105.9" cy="208.4" r="1.30" fill="#6223f5"/>
<circle cx="86.8" cy="228.0" r="1.30" fill="#6223f5"/>
<circle cx="104.3" cy="212.9" r="1.30" fill="#6224f5"/>
<circle cx="141.1" cy="176.9" r="1.30" fill="#6224f5"/>
<circle cx="121.7" cy="194.5" r="1.30" fill="#6124f5"/>
<circle cx="127.5" cy="191.2" r="1.30" fill="#6124f5"/>
<circle cx="138.9" cy="184.1" r="1.30" fill="#6124f5"/>
<circle cx="95.3" cy="223.7" r="1.30" fill="#6124f5"/>
<circle cx="104.6" cy="210.4" r="1.30" fill="#6124f5"/>
<circle cx="93.7" cy="223.9" r="1.30" fill="#6124f5"/>
<circle cx="88.3" cy="226.6" r="1.30" fill="#6124f5"/>
<circle cx="104.4" cy="213.0" r="1.30" fill="#6124f5"/>
<circle cx="88.6" cy="226.1" r="1.30" fill="#6024f5"/>
<circle cx="86.1" cy="229.3" r="1.30" fill="#6024f5"/>
<circle cx="90.5" cy="227.7" r="1.30" fill="#5f24f5"/>
<circle cx="133.4" cy="186.0" r="1.30" fill="#5f24f5"/>
<circle cx="134.4" cy="182.4" r="1.30" fill="#5f24f5"/>
<circle cx="134.9" cy="184.2" r="1.30" fill="#5f24f5"/>
<circle cx="122.0" cy="195.4" r="1.30" fill="#5f24f5"/>
<circle cx="119.6" cy="198.1" r="1.30" fill="#5f24f5"/>
<circle cx="105.0" cy="210.7" r="1.30" fill="#5e24f5"/>
<circle cx="101.0" cy="214.0" r="1.30" fill="#5e24f5"/>
<circle cx="129.6" cy="187.3" r="1.30" fill="#5e24f5"/>
<circle cx="125.7" cy="191.3" r="1.30" fill="#5e24f5"/>
<circle cx="123.9" cy="191.1" r="1.30" fill="#5e24f5"/>
<circle cx="102.2" cy="213.2" r="1.30" fill="#5e24f5"/>
<circle cx="118.4" cy="199.5" r="1.30" fill="#5e24f5"/>
<circle cx="118.8" cy="197.5" r="1.30" fill="#5e24f5"/>
<circle cx="150.0" cy="171.8" r="1.30" fill="#5d24f5"/>
<circle cx="105.7" cy="212.6" r="1.30" fill="#5d25f5"/>
<circle cx="129.7" cy="189.4" r="1.30" fill="#5d25f5"/>
<circle cx="108.1" cy="208.2" r="1.30" fill="#5d25f5"/>
<circle cx="145.5" cy="176.8" r="1.30" fill="#5d25f5"/>
<circle cx="94.2" cy="220.6" r="1.30" fill="#5d25f5"/>
<circle cx="90.6" cy="227.1" r="1.30" fill="#5d25f5"/>
<circle cx="113.3" cy="202.7" r="1.30" fill="#5d25f5"/>
<circle cx="96.9" cy="218.5" r="1.30" fill="#5d25f5"/>
<circle cx="127.6" cy="189.2" r="1.30" fill="#5c25f5"/>
<circle cx="115.3" cy="199.5" r="1.30" fill="#5c25f5"/>
<circle cx="122.6" cy="194.7" r="1.30" fill="#5c25f5"/>
<circle cx="138.1" cy="181.0" r="1.30" fill="#5c25f5"/>
<circle cx="119.3" cy="198.0" r="1.30" fill="#5c25f5"/>
<circle cx="97.2" cy="217.6" r="1.30" fill="#5c25f5"/>
<circle cx="108.5" cy="208.2" r="1.30" fill="#5c25f5"/>
<circle cx="92.4" cy="225.8" r="1.30" fill="#5c25f5"/>
<circle cx="150.4" cy="173.2" r="1.30" fill="#5c25f5"/>
<circle cx="104.1" cy="210.2" r="1.30" fill="#5c25f5"/>
<circle cx="101.7" cy="214.5" r="1.30" fill="#5c25f5"/>
<circle cx="118.4" cy="199.2" r="1.30" fill="#5c25f5"/>
<circle cx="108.1" cy="206.4" r="1.30" fill="#5b25f5"/>
<circle cx="123.1" cy="194.1" r="1.30" fill="#5b25f5"/>
<circle cx="136.0" cy="181.9" r="1.30" fill="#5b25f5"/>
<circle cx="126.3" cy="192.2" r="1.30" fill="#5b25f5"/>
<circle cx="107.0" cy="209.7" r="1.30" fill="#5b25f5"/>
<circle cx="118.3" cy="197.8" r="1.30" fill="#5b25f5"/>
<circle cx="96.9" cy="219.0" r="1.30" fill="#5b25f5"/>
<circle cx="85.3" cy="229.6" r="1.30" fill="#5b25f5"/>
<circle cx="122.4" cy="196.0" r="1.30" fill="#5b25f5"/>
<circle cx="94.6" cy="220.7" r="1.30" fill="#5b25f5"/>
<circle cx="110.6" cy="204.4" r="1.30" fill="#5a25f5"/>
<circle cx="98.7" cy="217.2" r="1.30" fill="#5a25f5"/>
<circle cx="95.7" cy="222.7" r="1.30" fill="#5a25f5"/>
<circle cx="125.2" cy="189.8" r="1.30" fill="#5a25f5"/>
<circle cx="123.1" cy="195.7" r="1.30" fill="#5a25f5"/>
<circle cx="125.9" cy="193.8" r="1.30" fill="#5a25f5"/>
<circle cx="105.9" cy="212.5" r="1.30" fill="#5a25f5"/>
<circle cx="82.4" cy="232.7" r="1.30" fill="#5a25f5"/>
<circle cx="139.0" cy="182.1" r="1.30" fill="#5a25f5"/>
<circle cx="116.3" cy="200.2" r="1.30" fill="#5925f5"/>
<circle cx="115.9" cy="198.9" r="1.30" fill="#5925f5"/>
<circle cx="104.3" cy="212.0" r="1.30" fill="#5925f5"/>
<circle cx="116.0" cy="200.8" r="1.30" fill="#5925f5"/>
<circle cx="105.4" cy="212.7" r="1.30" fill="#5925f5"/>
<circle cx="140.3" cy="179.4" r="1.30" fill="#5925f5"/>
<circle cx="104.0" cy="211.3" r="1.30" fill="#5925f5"/>
<circle cx="104.5" cy="213.6" r="1.30" fill="#5926f5"/>
<circle cx="95.2" cy="223.0" r="1.30" fill="#5826f5"/>
<circle cx="145.6" cy="174.5" r="1.30" fill="#5826f5"/>
<circle cx="108.9" cy="206.7" r="1.30" fill="#5826f5"/>
<circle cx="105.0" cy="209.9" r="1.30" fill="#5826f5"/>
<circle cx="83.6" cy="233.6" r="1.30" fill="#5826f5"/>
<circle cx="118.4" cy="197.8" r="1.30" fill="#5826f5"/>
<circle cx="103.9" cy="210.9" r="1.30" fill="#5826f5"/>
<circle cx="101.0" cy="216.4" r="1.30" fill="#5826f5"/>
<circle cx="105.3" cy="211.0" r="1.30" fill="#5826f5"/>
<circle cx="131.0" cy="188.5" r="1.30" fill="#5826f5"/>
<circle cx="112.3" cy="206.3" r="1.30" fill="#5826f5"/>
<circle cx="82.9" cy="232.6" r="1.30" fill="#5826f5"/>
<circle cx="126.4" cy="191.7" r="1.30" fill="#5826f5"/>
<circle cx="120.0" cy="196.1" r="1.30" fill="#5726f5"/>
<circle cx="140.9" cy="178.3" r="1.30" fill="#5726f5"/>
<circle cx="99.7" cy="216.6" r="1.30" fill="#5726f5"/>
<circle cx="111.9" cy="203.7" r="1.30" fill="#5726f5"/>
<circle cx="143.8" cy="175.7" r="1.30" fill="#5726f5"/>
<circle cx="122.1" cy="196.1" r="1.30" fill="#5726f5"/>
<circle cx="100.1" cy="215.9" r="1.30" fill="#5726f5"/>
<circle cx="88.9" cy="228.1" r="1.30" fill="#5726f5"/>
<circle cx="100.6" cy="214.8" r="1.30" fill="#5726f5"/>
<circle cx="116.1" cy="199.5" r="1.30" fill="#5626f5"/>
<circle cx="116.6" cy="202.1" r="1.30" fill="#5626f5"/>
<circle cx="108.4" cy="209.6" r="1.30" fill="#5626f5"/>
<circle cx="96.4" cy="221.1" r="1.30" fill="#5626f5"/>
<circle cx="118.5" cy="198.1" r="1.30" fill="#5626f5"/>
<circle cx="135.7" cy="184.3" r="1.30" fill="#5626f5"/>
<circle cx="89.0" cy="229.5" r="1.30" fill="#5626f5"/>
<circle cx="116.5" cy="199.9" r="1.30" fill="#5526f5"/>
<circle cx="96.4" cy="222.0" r="1.30" fill="#5526f5"/>
<circle cx="110.5" cy="204.9" r="1.30" fill="#5526f5"/>
<circle cx="130.0" cy="189.1" r="1.30" fill="#5526f5"/>
<circle cx="89.6" cy="226.4" r="1.30" fill="#5526f5"/>
<circle cx="95.8" cy="221.8" r="1.30" fill="#5526f5"/>
<circle cx="130.5" cy="188.1" r="1.30" fill="#5526f5"/>
<circle cx="93.3" cy="222.4" r="1.30" fill="#5426f5"/>
<circle cx="118.3" cy="197.6" r="1.30" fill="#5427f5"/>
<circle cx="99.1" cy="216.2" r="1.30" fill="#5427f5"/>
<circle cx="88.5" cy="228.4" r="1.30" fill="#5427f5"/>
<circle cx="132.2" cy="185.8" r="1.30" fill="#5427f5"/>
<circle cx="105.3" cy="212.4" r="1.30" fill="#5427f5"/>
<circle cx="104.8" cy="211.6" r="1.30" fill="#5327f5"/>
<circle cx="114.1" cy="202.0" r="1.30" fill="#5327f5"/>
<circle cx="121.9" cy="195.6" r="1.30" fill="#5327f5"/>
<circle cx="101.2" cy="212.5" r="1.30" fill="#5327f5"/>
<circle cx="111.2" cy="204.0" r="1.30" fill="#5327f5"/>
<circle cx="106.1" cy="211.4" r="1.30" fill="#5327f5"/>
<circle cx="92.8" cy="225.3" r="1.30" fill="#5227f5"/>
<circle cx="101.0" cy="217.2" r="1.30" fill="#5227f5"/>
<circle cx="148.8" cy="172.4" r="1.30" fill="#5227f5"/>
<circle cx="95.6" cy="221.4" r="1.30" fill="#5227f5"/>
<circle cx="91.8" cy="226.0" r="1.30" fill="#5227f5"/>
<circle cx="86.0" cy="229.5" r="1.30" fill="#5227f5"/>
<circle cx="131.9" cy="186.2" r="1.30" fill="#5227f5"/>
<circle cx="115.9" cy="199.0" r="1.30" fill="#5227f5"/>
<circle cx="90.0" cy="228.6" r="1.30" fill="#5127f5"/>
<circle cx="86.4" cy="228.6" r="1.30" fill="#5127f5"/>
<circle cx="113.9" cy="205.1" r="1.30" fill="#5127f5"/>
<circle cx="120.8" cy="194.4" r="1.30" fill="#5127f5"/>
<circle cx="130.0" cy="188.6" r="1.30" fill="#5127f5"/>
<circle cx="104.1" cy="213.7" r="1.30" fill="#5127f5"/>
<circle cx="130.2" cy="188.9" r="1.30" fill="#5127f5"/>
<circle cx="109.6" cy="206.5" r="1.30" fill="#5127f5"/>
<circle cx="135.9" cy="182.2" r="1.30" fill="#5127f5"/>
<circle cx="98.7" cy="217.7" r="1.30" fill="#5127f5"/>
<circle cx="85.9" cy="230.4" r="1.30" fill="#5127f5"/>
<circle cx="102.7" cy="215.6" r="1.30" fill="#5127f5"/>
<circle cx="127.0" cy="190.3" r="1.30" fill="#5127f5"/>
<circle cx="110.1" cy="206.0" r="1.30" fill="#5127f5"/>
<circle cx="105.7" cy="211.6" r="1.30" fill="#5127f5"/>
<circle cx="112.5" cy="202.3" r="1.30" fill="#5027f5"/>
<circle cx="114.3" cy="204.5" r="1.30" fill="#5027f5"/>
<circle cx="95.0" cy="220.7" r="1.30" fill="#5027f5"/>
<circle cx="91.4" cy="223.9" r="1.30" fill="#5027f5"/>
<circle cx="123.9" cy="191.5" r="1.30" fill="#5027f5"/>
<circle cx="116.6" cy="200.9" r="1.30" fill="#5027f5"/>
<circle cx="125.6" cy="192.0" r="1.30" fill="#5027f5"/>
<circle cx="126.2" cy="192.5" r="1.30" fill="#5027f5"/>
<circle cx="98.5" cy="219.2" r="1.30" fill="#5028f5"/>
<circle cx="139.1" cy="181.9" r="1.30" fill="#5028f5"/>
<circle cx="119.0" cy="196.7" r="1.30" fill="#4f28f5"/>
<circle cx="121.9" cy="194.5" r="1.30" fill="#4f28f5"/>
<circle cx="87.0" cy="231.2" r="1.30" fill="#4f28f5"/>
<circle cx="132.2" cy="187.3" r="1.30" fill="#4f28f5"/>
<circle cx="99.9" cy="217.0" r="1.30" fill="#4f28f5"/>
<circle cx="124.3" cy="191.1" r="1.30" fill="#4f28f5"/>
<circle cx="102.3" cy="212.8" r="1.30" fill="#4f28f5"/>
<circle cx="97.2" cy="218.0" r="1.30" fill="#4e28f5"/>
<circle cx="101.3" cy="213.6" r="1.30" fill="#4e28f5"/>
<circle cx="113.6" cy="204.7" r="1.30" fill="#4e28f5"/>
<circle cx="138.0" cy="183.1" r="1.30" fill="#4e28f5"/>
<circle cx="117.0" cy="199.1" r="1.30" fill="#4e28f5"/>
<circle cx="117.7" cy="198.6" r="1.30" fill="#4e28f5"/>
<circle cx="141.3" cy="177.9" r="1.30" fill="#4e28f5"/>
<circle cx="89.5" cy="227.9" r="1.30" fill="#4e28f5"/>
<circle cx="124.9" cy="191.9" r="1.30" fill="#4e28f5"/>
<circle cx="106.7" cy="211.3" r="1.30" fill="#4e28f5"/>
<circle cx="96.4" cy="221.9" r="1.30" fill="#4d28f5"/>
<circle cx="102.7" cy="212.7" r="1.30" fill="#4d28f5"/>
<circle cx="134.4" cy="183.0" r="1.30" fill="#4d28f5"/>
<circle cx="120.9" cy="198.4" r="1.30" fill="#4d28f5"/>
<circle cx="90.0" cy="226.0" r="1.30" fill="#4d28f5"/>
<circle cx="89.1" cy="226.2" r="1.30" fill="#4d28f5"/>
<circle cx="114.2" cy="202.0" r="1.30" fill="#4d28f5"/>
<circle cx="108.2" cy="207.3" r="1.30" fill="#4d28f5"/>
<circle cx="88.0" cy="227.6" r="1.30" fill="#4d28f5"/>
<circle cx="98.4" cy="219.9" r="1.30" fill="#4d28f5"/>
<circle cx="86.0" cy="232.9" r="1.30" fill="#4d28f5"/>
<circle cx="128.0" cy="190.3" r="1.30" fill="#4d28f5"/>
<circle cx="101.1" cy="214.3" r="1.30" fill="#4d28f5"/>
<circle cx="123.2" cy="193.6" r="1.30" fill="#4c28f5"/>
<circle cx="128.9" cy="188.6" r="1.30" fill="#4c28f5"/>
<circle cx="97.7" cy="220.1" r="1.30" fill="#4c28f5"/>
<circle cx="126.8" cy="190.0" r="1.30" fill="#4c28f5"/>
<circle cx="123.6" cy="194.7" r="1.30" fill="#4c28f5"/>
<circle cx="87.1" cy="228.7" r="1.30" fill="#4c28f5"/>
<circle cx="111.1" cy="204.9" r="1.30" fill="#4b28f5"/>
<circle cx="93.1" cy="225.3" r="1.30" fill="#4b28f5"/>
<circle cx="115.5" cy="202.5" r="1.30" fill="#4b28f5"/>
<circle cx="105.0" cy="212.7" r="1.30" fill="#4b29f5"/>
<circle cx="101.7" cy="216.6" r="1.30" fill="#4b29f5"/>
<circle cx="115.9" cy="200.9" r="1.30" fill="#4b29f5"/>
<circle cx="93.5" cy="222.8" r="1.30" fill="#4b29f5"/>
<circle cx="98.7" cy="217.9" r="1.30" fill="#4b29f5"/>
<circle cx="105.3" cy="210.5" r="1.30" fill="#4b29f5"/>
<circle cx="141.3" cy="176.7" r="1.30" fill="#4b29f5"/>
<circle cx="144.1" cy="175.4" r="1.30" fill="#4b29f5"/>
<circle cx="91.5" cy="223.6" r="1.30" fill="#4a29f5"/>
<circle cx="87.9" cy="230.4" r="1.30" fill="#4a29f5"/>
<circle cx="122.4" cy="192.9" r="1.30" fill="#4a29f5"/>
<circle cx="132.5" cy="186.9" r="1.30" fill="#4a29f5"/>
<circle cx="83.8" cy="232.0" r="1.30" fill="#4929f5"/>
<circle cx="136.9" cy="182.5" r="1.30" fill="#4929f5"/>
<circle cx="103.2" cy="212.9" r="1.30" fill="#4929f5"/>
<circle cx="82.7" cy="233.2" r="1.30" fill="#4929f5"/>
<circle cx="93.6" cy="220.9" r="1.30" fill="#4929f5"/>
<circle cx="108.2" cy="207.7" r="1.30" fill="#4929f5"/>
<circle cx="96.2" cy="219.4" r="1.30" fill="#4929f5"/>
<circle cx="123.0" cy="194.7" r="1.30" fill="#4929f5"/>
<circle cx="100.5" cy="216.5" r="1.30" fill="#4929f5"/>
<circle cx="122.6" cy="193.7" r="1.30" fill="#4929f5"/>
<circle cx="124.1" cy="194.3" r="1.30" fill="#4929f5"/>
<circle cx="111.9" cy="204.1" r="1.30" fill="#4829f5"/>
<circle cx="119.7" cy="198.6" r="1.30" fill="#4829f5"/>
<circle cx="92.0" cy="223.1" r="1.30" fill="#4829f5"/>
<circle cx="90.2" cy="228.0" r="1.30" fill="#4829f5"/>
<circle cx="120.1" cy="195.9" r="1.30" fill="#4829f5"/>
<circle cx="85.9" cy="230.9" r="1.30" fill="#4829f5"/>
<circle cx="83.9" cy="232.5" r="1.30" fill="#4829f5"/>
<circle cx="106.8" cy="210.4" r="1.30" fill="#4829f5"/>
<circle cx="116.5" cy="200.7" r="1.30" fill="#4829f5"/>
<circle cx="118.4" cy="198.1" r="1.30" fill="#4729f5"/>
<circle cx="109.0" cy="209.1" r="1.30" fill="#4729f5"/>
<circle cx="88.3" cy="229.7" r="1.30" fill="#472af5"/>
<circle cx="115.0" cy="203.8" r="1.30" fill="#472af5"/>
<circle cx="118.3" cy="197.8" r="1.30" fill="#462af5"/>
<circle cx="85.8" cy="232.7" r="1.30" fill="#462af5"/>
<circle cx="118.2" cy="197.2" r="1.30" fill="#462af5"/>
<circle cx="143.2" cy="176.3" r="1.30" fill="#462af5"/>
<circle cx="105.9" cy="210.9" r="1.30" fill="#462af5"/>
<circle cx="106.5" cy="210.5" r="1.30" fill="#462af5"/>
<circle cx="110.9" cy="204.1" r="1.30" fill="#462af5"/>
<circle cx="102.1" cy="214.4" r="1.30" fill="#462af5"/>
<circle cx="94.3" cy="221.1" r="1.30" fill="#462af5"/>
<circle cx="87.8" cy="228.7" r="1.30" fill="#452af5"/>
<circle cx="82.8" cy="233.6" r="1.30" fill="#452af5"/>
<circle cx="111.4" cy="207.1" r="1.30" fill="#452af5"/>
<circle cx="121.1" cy="197.2" r="1.30" fill="#452af5"/>
<circle cx="120.1" cy="197.3" r="1.30" fill="#452af5"/>
<circle cx="116.8" cy="198.2" r="1.30" fill="#452af5"/>
<circle cx="109.5" cy="208.7" r="1.30" fill="#452af5"/>
<circle cx="103.0" cy="212.3" r="1.30" fill="#452af5"/>
<circle cx="118.9" cy="196.6" r="1.30" fill="#452af5"/>
<circle cx="95.0" cy="220.8" r="1.30" fill="#452af5"/>
<circle cx="112.6" cy="203.7" r="1.30" fill="#452af5"/>
<circle cx="111.2" cy="206.2" r="1.30" fill="#442af5"/>
<circle cx="112.3" cy="205.6" r="1.30" fill="#442af5"/>
<circle cx="132.5" cy="185.4" r="1.30" fill="#442af5"/>
<circle cx="120.1" cy="197.6" r="1.30" fill="#442af5"/>
<circle cx="91.6" cy="225.7" r="1.30" fill="#442af5"/>
<circle cx="102.5" cy="213.7" r="1.30" fill="#442af5"/>
<circle cx="83.2" cy="233.9" r="1.30" fill="#442af5"/>
<circle cx="92.6" cy="223.2" r="1.30" fill="#442af5"/>
<circle cx="111.0" cy="204.6" r="1.30" fill="#442af5"/>
<circle cx="104.6" cy="213.0" r="1.30" fill="#442af5"/>
<circle cx="95.3" cy="220.9" r="1.30" fill="#442af5"/>
<circle cx="95.5" cy="221.1" r="1.30" fill="#442af5"/>
<circle cx="90.4" cy="224.7" r="1.30" fill="#432af5"/>
<circle cx="113.4" cy="205.4" r="1.30" fill="#432af5"/>
<circle cx="132.2" cy="187.2" r="1.30" fill="#432af5"/>
<circle cx="94.0" cy="222.6" r="1.30" fill="#432af5"/>
<circle cx="121.0" cy="195.7" r="1.30" fill="#432af5"/>
<circle cx="106.7" cy="208.9" r="1.30" fill="#432af5"/>
<circle cx="83.2" cy="233.9" r="1.30" fill="#432af5"/>
<circle cx="112.8" cy="203.9" r="1.30" fill="#432af5"/>
<circle cx="111.2" cy="204.4" r="1.30" fill="#432af5"/>
<circle cx="106.5" cy="210.7" r="1.30" fill="#422af5"/>
<circle cx="119.9" cy="199.2" r="1.30" fill="#422bf5"/>
<circle cx="104.9" cy="212.8" r="1.30" fill="#422bf5"/>
<circle cx="128.9" cy="190.9" r="1.30" fill="#422bf5"/>
<circle cx="112.5" cy="204.7" r="1.30" fill="#422bf5"/>
<circle cx="99.7" cy="218.5" r="1.30" fill="#422bf5"/>
<circle cx="111.5" cy="205.4" r="1.30" fill="#422bf5"/>
<circle cx="119.8" cy="196.2" r="1.30" fill="#422bf5"/>
<circle cx="139.2" cy="180.3" r="1.30" fill="#422bf5"/>
<circle cx="116.4" cy="198.9" r="1.30" fill="#412bf5"/>
<circle cx="117.6" cy="198.9" r="1.30" fill="#412bf5"/>
<circle cx="115.5" cy="202.3" r="1.30" fill="#412bf5"/>
<circle cx="126.4" cy="189.8" r="1.30" fill="#412bf5"/>
<circle cx="133.1" cy="186.6" r="1.30" fill="#412bf5"/>
<circle cx="101.6" cy="213.6" r="1.30" fill="#412bf5"/>
<circle cx="87.5" cy="230.6" r="1.30" fill="#412bf5"/>
<circle cx="132.9" cy="184.0" r="1.30" fill="#412bf5"/>
<circle cx="137.7" cy="181.6" r="1.30" fill="#402bf5"/>
<circle cx="118.8" cy="198.7" r="1.30" fill="#402bf5"/>
<circle cx="121.5" cy="193.9" r="1.30" fill="#402bf5"/>
<circle cx="99.7" cy="218.6" r="1.30" fill="#402bf5"/>
<circle cx="98.9" cy="216.8" r="1.30" fill="#402bf5"/>
<circle cx="113.3" cy="204.0" r="1.30" fill="#402bf5"/>
<circle cx="132.3" cy="187.1" r="1.30" fill="#402bf5"/>
<circle cx="132.7" cy="186.7" r="1.30" fill="#3f2bf5"/>
<circle cx="94.3" cy="222.9" r="1.30" fill="#3f2bf5"/>
<circle cx="120.4" cy="197.3" r="1.30" fill="#3f2bf5"/>
<circle cx="129.4" cy="190.5" r="1.30" fill="#3f2bf5"/>
<circle cx="134.5" cy="184.4" r="1.30" fill="#3f2bf5"/>
<circle cx="90.2" cy="226.3" r="1.30" fill="#3e2bf5"/>
<circle cx="89.9" cy="227.0" r="1.30" fill="#3e2bf5"/>
<circle cx="102.2" cy="214.0" r="1.30" fill="#3e2bf5"/>
<circle cx="95.6" cy="219.9" r="1.30" fill="#3e2bf5"/>
<circle cx="130.1" cy="188.4" r="1.30" fill="#3e2bf5"/>
<circle cx="99.3" cy="216.5" r="1.30" fill="#3e2bf5"/>
<circle cx="103.7" cy="214.4" r="1.30" fill="#3e2bf5"/>
<circle cx="93.2" cy="225.1" r="1.30" fill="#3e2bf5"/>
<circle cx="82.7" cy="233.0" r="1.30" fill="#3e2bf5"/>
<circle cx="112.2" cy="204.0" r="1.30" fill="#3e2bf5"/>
<circle cx="100.1" cy="217.9" r="1.30" fill="#3e2cf5"/>
<circle cx="113.1" cy="203.3" r="1.30" fill="#3e2cf5"/>
<circle cx="85.6" cy="231.7" r="1.30" fill="#3e2cf5"/>
<circle cx="89.7" cy="226.6" r="1.30" fill="#3e2cf5"/>
<circle cx="103.7" cy="214.5" r="1.30" fill="#3d2cf5"/>
<circle cx="88.4" cy="229.1" r="1.30" fill="#3d2cf5"/>
<circle cx="104.4" cy="213.0" r="1.30" fill="#3d2cf5"/>
<circle cx="93.5" cy="221.7" r="1.30" fill="#3d2cf5"/>
<circle cx="95.0" cy="220.2" r="1.30" fill="#3d2cf5"/>
<circle cx="97.3" cy="218.8" r="1.30" fill="#3d2cf5"/>
<circle cx="103.5" cy="211.7" r="1.30" fill="#3d2cf5"/>
<circle cx="121.3" cy="196.1" r="1.30" fill="#3d2cf5"/>
<circle cx="99.2" cy="218.9" r="1.30" fill="#3c2cf5"/>
<circle cx="84.0" cy="233.7" r="1.30" fill="#3c2cf5"/>
<circle cx="113.3" cy="201.5" r="1.30" fill="#3c2cf5"/>
<circle cx="109.1" cy="207.0" r="1.30" fill="#3c2cf5"/>
<circle cx="92.6" cy="226.3" r="1.30" fill="#3c2cf5"/>
<circle cx="94.3" cy="220.8" r="1.30" fill="#3c2cf5"/>
<circle cx="91.2" cy="224.2" r="1.30" fill="#3c2cf5"/>
<circle cx="110.7" cy="207.8" r="1.30" fill="#3c2cf5"/>
<circle cx="83.6" cy="231.8" r="1.30" fill="#3c2cf5"/>
<circle cx="132.6" cy="186.9" r="1.30" fill="#3c2cf5"/>
<circle cx="109.5" cy="206.9" r="1.30" fill="#3b2cf5"/>
<circle cx="87.7" cy="230.6" r="1.30" fill="#3b2cf5"/>
<circle cx="119.8" cy="195.8" r="1.30" fill="#3b2cf5"/>
<circle cx="94.6" cy="223.5" r="1.30" fill="#3b2cf5"/>
<circle cx="105.0" cy="213.5" r="1.30" fill="#3b2cf5"/>
<circle cx="115.3" cy="202.0" r="1.30" fill="#3b2cf5"/>
<circle cx="88.6" cy="228.0" r="1.30" fill="#3b2cf5"/>
<circle cx="107.2" cy="207.2" r="1.30" fill="#3a2cf5"/>
<circle cx="103.8" cy="212.8" r="1.30" fill="#3a2cf5"/>
<circle cx="113.1" cy="202.9" r="1.30" fill="#3a2cf5"/>
<circle cx="87.6" cy="228.2" r="1.30" fill="#3a2cf5"/>
<circle cx="143.0" cy="176.4" r="1.30" fill="#3a2cf5"/>
<circle cx="95.6" cy="220.4" r="1.30" fill="#3a2cf5"/>
<circle cx="110.6" cy="205.6" r="1.30" fill="#392cf5"/>
<circle cx="122.4" cy="194.0" r="1.30" fill="#392cf5"/>
<circle cx="100.5" cy="213.5" r="1.30" fill="#392df5"/>
<circle cx="89.4" cy="226.3" r="1.30" fill="#392df5"/>
<circle cx="121.3" cy="195.6" r="1.30" fill="#392df5"/>
<circle cx="113.8" cy="201.1" r="1.30" fill="#392df5"/>
<circle cx="101.5" cy="214.2" r="1.30" fill="#392df5"/>
<circle cx="123.8" cy="194.3" r="1.30" fill="#392df5"/>
<circle cx="86.5" cy="230.6" r="1.30" fill="#392df5"/>
<circle cx="85.3" cy="233.0" r="1.30" fill="#392df5"/>
<circle cx="93.4" cy="221.9" r="1.30" fill="#392df5"/>
<circle cx="90.0" cy="226.1" r="1.30" fill="#382df5"/>
<circle cx="90.9" cy="227.4" r="1.30" fill="#382df5"/>
<circle cx="103.9" cy="211.0" r="1.30" fill="#382df5"/>
<circle cx="93.1" cy="222.9" r="1.30" fill="#382df5"/>
<circle cx="112.9" cy="203.8" r="1.30" fill="#382df5"/>
<circle cx="121.1" cy="196.0" r="1.30" fill="#382df5"/>
<circle cx="113.4" cy="204.4" r="1.30" fill="#382df5"/>
<circle cx="93.2" cy="225.1" r="1.30" fill="#382df5"/>
<circle cx="103.5" cy="212.6" r="1.30" fill="#372df5"/>
<circle cx="118.3" cy="197.6" r="1.30" fill="#372df5"/>
<circle cx="104.9" cy="210.9" r="1.30" fill="#372df5"/>
<circle cx="115.1" cy="202.2" r="1.30" fill="#372df5"/>
<circle cx="83.2" cy="234.1" r="1.30" fill="#372df5"/>
<circle cx="105.9" cy="210.4" r="1.30" fill="#372df5"/>
<circle cx="105.6" cy="210.4" r="1.30" fill="#372df5"/>
<circle cx="119.7" cy="196.8" r="1.30" fill="#372df5"/>
<circle cx="86.6" cy="229.8" r="1.30" fill="#372df5"/>
<circle cx="126.7" cy="189.5" r="1.30" fill="#372ef5"/>
<circle cx="119.7" cy="196.4" r="1.30" fill="#372ef5"/>
<circle cx="128.4" cy="191.4" r="1.30" fill="#372ef5"/>
<circle cx="140.9" cy="178.3" r="1.30" fill="#372ef5"/>
<circle cx="94.8" cy="221.2" r="1.30" fill="#372ef5"/>
<circle cx="120.4" cy="195.3" r="1.30" fill="#372ef5"/>
<circle cx="139.8" cy="179.2" r="1.30" fill="#372ef5"/>
<circle cx="123.9" cy="192.7" r="1.30" fill="#372ef5"/>
<circle cx="93.5" cy="224.7" r="1.30" fill="#372ff5"/>
<circle cx="114.1" cy="202.0" r="1.30" fill="#372ff5"/>
<circle cx="97.4" cy="219.6" r="1.30" fill="#372ff5"/>
<circle cx="119.0" cy="200.3" r="1.30" fill="#372ff5"/>
<circle cx="84.0" cy="234.4" r="1.30" fill="#372ff5"/>
<circle cx="112.3" cy="203.8" r="1.30" fill="#372ff5"/>
<circle cx="92.8" cy="225.9" r="1.30" fill="#362ff5"/>
<circle cx="100.8" cy="217.0" r="1.30" fill="#3630f5"/>
<circle cx="120.6" cy="194.6" r="1.30" fill="#3630f5"/>
<circle cx="100.4" cy="217.6" r="1.30" fill="#3630f5"/>
<circle cx="92.6" cy="222.6" r="1.30" fill="#3630f5"/>
<circle cx="102.6" cy="215.4" r="1.30" fill="#3630f5"/>
<circle cx="123.0" cy="193.1" r="1.30" fill="#3630f5"/>
<circle cx="91.8" cy="226.2" r="1.30" fill="#3630f5"/>
<circle cx="113.7" cy="202.6" r="1.30" fill="#3630f5"/>
<circle cx="133.1" cy="186.4" r="1.30" fill="#3630f5"/>
<circle cx="103.2" cy="214.5" r="1.30" fill="#3630f5"/>
<circle cx="114.6" cy="204.3" r="1.30" fill="#3631f5"/>
<circle cx="118.6" cy="196.6" r="1.30" fill="#3631f5"/>
<circle cx="91.8" cy="225.0" r="1.30" fill="#3631f5"/>
<circle cx="83.5" cy="232.9" r="1.30" fill="#3631f5"/>
<circle cx="95.8" cy="220.3" r="1.30" fill="#3631f5"/>
<circle cx="135.7" cy="183.6" r="1.30" fill="#3631f5"/>
<circle cx="138.0" cy="180.9" r="1.30" fill="#3631f5"/>
<circle cx="99.3" cy="217.7" r="1.30" fill="#3631f5"/>
<circle cx="100.3" cy="217.0" r="1.30" fill="#3631f5"/>
<circle cx="121.5" cy="195.7" r="1.30" fill="#3631f5"/>
<circle cx="122.2" cy="193.4" r="1.30" fill="#3632f5"/>
<circle cx="132.6" cy="184.8" r="1.30" fill="#3632f5"/>
<circle cx="96.5" cy="219.4" r="1.30" fill="#3632f5"/>
<circle cx="102.6" cy="212.4" r="1.30" fill="#3632f5"/>
<circle cx="88.5" cy="228.0" r="1.30" fill="#3632f5"/>
<circle cx="122.5" cy="195.6" r="1.30" fill="#3632f5"/>
<circle cx="133.7" cy="184.6" r="1.30" fill="#3632f5"/>
<circle cx="94.0" cy="224.9" r="1.30" fill="#3632f5"/>
<circle cx="126.9" cy="188.4" r="1.30" fill="#3632f5"/>
<circle cx="128.4" cy="189.0" r="1.30" fill="#3632f5"/>
<circle cx="111.0" cy="206.5" r="1.30" fill="#3632f5"/>
<circle cx="91.9" cy="224.3" r="1.30" fill="#3632f5"/>
<circle cx="124.5" cy="193.6" r="1.30" fill="#3633f5"/>
<circle cx="84.1" cy="232.5" r="1.30" fill="#3633f5"/>
<circle cx="101.3" cy="214.4" r="1.30" fill="#3633f5"/>
<circle cx="94.0" cy="221.9" r="1.30" fill="#3633f5"/>
<circle cx="110.8" cy="207.9" r="1.30" fill="#3633f5"/>
<circle cx="91.3" cy="226.9" r="1.30" fill="#3633f5"/>
<circle cx="106.8" cy="209.9" r="1.30" fill="#3534f6"/>
<circle cx="95.4" cy="220.4" r="1.30" fill="#3534f6"/>
<circle cx="112.6" cy="205.4" r="1.30" fill="#3534f6"/>
<circle cx="102.8" cy="215.0" r="1.30" fill="#3534f6"/>
<circle cx="114.4" cy="203.2" r="1.30" fill="#3534f6"/>
<circle cx="88.5" cy="226.5" r="1.30" fill="#3534f6"/>
<circle cx="102.4" cy="215.9" r="1.30" fill="#3535f6"/>
<circle cx="103.6" cy="213.5" r="1.30" fill="#3535f6"/>
<circle cx="101.8" cy="213.9" r="1.30" fill="#3535f6"/>
<circle cx="116.4" cy="198.6" r="1.30" fill="#3535f6"/>
<circle cx="101.3" cy="216.0" r="1.30" fill="#3535f6"/>
<circle cx="84.4" cy="232.9" r="1.30" fill="#3535f6"/>
<circle cx="101.1" cy="215.3" r="1.30" fill="#3536f6"/>
<circle cx="109.4" cy="209.2" r="1.30" fill="#3536f6"/>
<circle cx="110.4" cy="206.5" r="1.30" fill="#3536f6"/>
<circle cx="116.5" cy="199.9" r="1.30" fill="#3536f6"/>
<circle cx="125.1" cy="192.9" r="1.30" fill="#3536f6"/>
<circle cx="88.6" cy="228.4" r="1.30" fill="#3536f6"/>
<circle cx="85.8" cy="229.2" r="1.30" fill="#3536f6"/>
<circle cx="98.6" cy="218.6" r="1.30" fill="#3536f6"/>
<circle cx="88.5" cy="229.6" r="1.30" fill="#3537f6"/>
<circle cx="110.3" cy="205.1" r="1.30" fill="#3537f6"/>
<circle cx="100.8" cy="215.5" r="1.30" fill="#3537f6"/>
<circle cx="114.6" cy="203.4" r="1.30" fill="#3537f6"/>
<circle cx="112.7" cy="204.8" r="1.30" fill="#3537f6"/>
<circle cx="127.8" cy="189.9" r="1.30" fill="#3537f6"/>
<circle cx="115.5" cy="203.1" r="1.30" fill="#3537f6"/>
<circle cx="98.1" cy="220.5" r="1.30" fill="#3538f6"/>
<circle cx="91.3" cy="226.3" r="1.30" fill="#3538f6"/>
<circle cx="122.1" cy="193.0" r="1.30" fill="#3538f6"/>
<circle cx="97.0" cy="221.5" r="1.30" fill="#3438f6"/>
<circle cx="115.5" cy="200.9" r="1.30" fill="#3438f6"/>
<circle cx="87.1" cy="229.5" r="1.30" fill="#3438f6"/>
<circle cx="121.5" cy="195.8" r="1.30" fill="#3438f6"/>
<circle cx="118.6" cy="197.2" r="1.30" fill="#3438f6"/>
<circle cx="90.4" cy="225.4" r="1.30" fill="#3439f6"/>
<circle cx="100.8" cy="216.2" r="1.30" fill="#3439f6"/>
<circle cx="100.8" cy="214.7" r="1.30" fill="#3439f6"/>
<circle cx="111.7" cy="203.6" r="1.30" fill="#3439f6"/>
<circle cx="98.6" cy="218.9" r="1.30" fill="#3439f6"/>
<circle cx="122.3" cy="195.3" r="1.30" fill="#3439f6"/>
<circle cx="113.6" cy="203.1" r="1.30" fill="#3439f6"/>
<circle cx="118.6" cy="198.6" r="1.30" fill="#343af6"/>
<circle cx="116.4" cy="198.5" r="1.30" fill="#343af6"/>
<circle cx="89.2" cy="226.5" r="1.30" fill="#343af6"/>
<circle cx="104.3" cy="213.7" r="1.30" fill="#343af6"/>
<circle cx="111.6" cy="205.2" r="1.30" fill="#343af6"/>
<circle cx="97.8" cy="217.9" r="1.30" fill="#343af6"/>
<circle cx="105.9" cy="210.0" r="1.30" fill="#343af6"/>
<circle cx="110.0" cy="208.6" r="1.30" fill="#343af6"/>
<circle cx="103.3" cy="211.4" r="1.30" fill="#343af6"/>
<circle cx="93.6" cy="222.1" r="1.30" fill="#343bf6"/>
<circle cx="108.2" cy="207.3" r="1.30" fill="#343bf6"/>
<circle cx="87.9" cy="226.9" r="1.30" fill="#343bf6"/>
<circle cx="103.7" cy="214.2" r="1.30" fill="#343bf6"/>
<circle cx="125.1" cy="191.6" r="1.30" fill="#343bf6"/>
<circle cx="103.0" cy="214.5" r="1.30" fill="#343bf6"/>
<circle cx="111.8" cy="203.9" r="1.30" fill="#343bf6"/>
<circle cx="100.0" cy="217.3" r="1.30" fill="#343cf6"/>
<circle cx="121.2" cy="195.1" r="1.30" fill="#343cf6"/>
<circle cx="128.4" cy="189.7" r="1.30" fill="#343cf6"/>
<circle cx="118.3" cy="199.0" r="1.30" fill="#343cf6"/>
<circle cx="84.1" cy="233.6" r="1.30" fill="#343cf6"/>
<circle cx="115.3" cy="201.2" r="1.30" fill="#333cf6"/>
<circle cx="86.8" cy="231.9" r="1.30" fill="#333cf6"/>
<circle cx="84.5" cy="231.7" r="1.30" fill="#333df6"/>
<circle cx="103.0" cy="211.9" r="1.30" fill="#333df6"/>
<circle cx="89.2" cy="226.0" r="1.30" fill="#333df6"/>
<circle cx="91.3" cy="224.0" r="1.30" fill="#333df6"/>
<circle cx="88.4" cy="228.3" r="1.30" fill="#333df6"/>
<circle cx="95.2" cy="223.1" r="1.30" fill="#333df6"/>
<circle cx="87.0" cy="229.9" r="1.30" fill="#333df6"/>
<circle cx="109.2" cy="207.7" r="1.30" fill="#333df6"/>
<circle cx="102.0" cy="213.9" r="1.30" fill="#333ef6"/>
<circle cx="99.2" cy="216.1" r="1.30" fill="#333ef6"/>
<circle cx="97.2" cy="220.9" r="1.30" fill="#333ef6"/>
<circle cx="89.7" cy="228.5" r="1.30" fill="#333ef6"/>
<circle cx="120.8" cy="196.8" r="1.30" fill="#333ef6"/>
<circle cx="124.3" cy="193.7" r="1.30" fill="#333ef6"/>
<circle cx="83.0" cy="232.4" r="1.30" fill="#333ff6"/>
<circle cx="90.6" cy="225.2" r="1.30" fill="#333ff6"/>
<circle cx="108.1" cy="207.3" r="1.30" fill="#333ff6"/>
<circle cx="119.2" cy="197.3" r="1.30" fill="#333ff6"/>
<circle cx="102.7" cy="213.3" r="1.30" fill="#333ff6"/>
<circle cx="109.2" cy="207.4" r="1.30" fill="#333ff6"/>
<circle cx="108.4" cy="207.3" r="1.30" fill="#333ff6"/>
<circle cx="101.3" cy="214.2" r="1.30" fill="#333ff6"/>
<circle cx="116.7" cy="199.0" r="1.30" fill="#333ff6"/>
<circle cx="83.5" cy="232.2" r="1.30" fill="#333ff6"/>
<circle cx="84.5" cy="234.2" r="1.30" fill="#333ff6"/>
<circle cx="87.5" cy="229.0" r="1.30" fill="#3340f6"/>
<circle cx="122.3" cy="194.8" r="1.30" fill="#3340f6"/>
<circle cx="115.2" cy="201.1" r="1.30" fill="#3340f6"/>
<circle cx="85.6" cy="231.0" r="1.30" fill="#3241f7"/>
<circle cx="87.3" cy="229.0" r="1.30" fill="#3241f7"/>
<circle cx="103.3" cy="213.1" r="1.30" fill="#3241f7"/>
<circle cx="116.9" cy="199.6" r="1.30" fill="#3241f7"/>
<circle cx="125.3" cy="192.1" r="1.30" fill="#3241f7"/>
<circle cx="99.9" cy="217.5" r="1.30" fill="#3241f7"/>
<circle cx="122.7" cy="195.6" r="1.30" fill="#3241f7"/>
<circle cx="99.0" cy="216.4" r="1.30" fill="#3242f7"/>
<circle cx="87.1" cy="230.8" r="1.30" fill="#3242f7"/>
<circle cx="85.7" cy="229.8" r="1.30" fill="#3242f7"/>
<circle cx="127.5" cy="190.7" r="1.30" fill="#3242f7"/>
<circle cx="89.2" cy="225.6" r="1.30" fill="#3242f7"/>
<circle cx="113.7" cy="204.1" r="1.30" fill="#3243f7"/>
<circle cx="98.0" cy="218.6" r="1.30" fill="#3243f7"/>
<circle cx="94.5" cy="222.5" r="1.30" fill="#3243f7"/>
<circle cx="107.8" cy="209.4" r="1.30" fill="#3244f7"/>
<circle cx="89.5" cy="226.9" r="1.30" fill="#3244f7"/>
<circle cx="85.8" cy="231.6" r="1.30" fill="#3244f7"/>
<circle cx="104.9" cy="214.2" r="1.30" fill="#3244f7"/>
<circle cx="109.7" cy="208.4" r="1.30" fill="#3244f7"/>
<circle cx="103.0" cy="212.8" r="1.30" fill="#3244f7"/>
<circle cx="99.8" cy="217.8" r="1.30" fill="#3244f7"/>
<circle cx="83.2" cy="233.4" r="1.30" fill="#3244f7"/>
<circle cx="84.8" cy="230.9" r="1.30" fill="#3145f7"/>
<circle cx="88.7" cy="229.3" r="1.30" fill="#3145f7"/>
<circle cx="113.7" cy="202.8" r="1.30" fill="#3145f7"/>
<circle cx="99.4" cy="218.6" r="1.30" fill="#3145f7"/>
<circle cx="120.4" cy="197.3" r="1.30" fill="#3146f7"/>
<circle cx="101.5" cy="215.9" r="1.30" fill="#3146f7"/>
<circle cx="98.1" cy="218.5" r="1.30" fill="#3146f7"/>
<circle cx="85.9" cy="232.1" r="1.30" fill="#3146f7"/>
<circle cx="107.3" cy="207.9" r="1.30" fill="#3146f7"/>
<circle cx="147.1" cy="174.2" r="1.30" fill="#3146f7"/>
<circle cx="99.6" cy="216.8" r="1.30" fill="#3146f7"/>
<circle cx="114.0" cy="202.6" r="1.30" fill="#3146f7"/>
<circle cx="95.9" cy="222.0" r="1.30" fill="#3147f7"/>
<circle cx="116.8" cy="199.7" r="1.30" fill="#3147f7"/>
<circle cx="91.0" cy="223.5" r="1.30" fill="#3147f7"/>
<circle cx="92.3" cy="226.6" r="1.30" fill="#3147f7"/>
<circle cx="98.8" cy="218.3" r="1.30" fill="#3147f7"/>
<circle cx="103.0" cy="211.7" r="1.30" fill="#3147f7"/>
<circle cx="87.0" cy="228.4" r="1.30" fill="#3148f7"/>
<circle cx="89.5" cy="228.4" r="1.30" fill="#3148f7"/>
<circle cx="95.8" cy="219.7" r="1.30" fill="#3148f7"/>
<circle cx="107.4" cy="208.5" r="1.30" fill="#3148f7"/>
<circle cx="118.2" cy="199.3" r="1.30" fill="#3148f7"/>
<circle cx="113.9" cy="200.9" r="1.30" fill="#3149f7"/>
<circle cx="122.7" cy="196.0" r="1.30" fill="#3149f7"/>
<circle cx="98.2" cy="218.6" r="1.30" fill="#3149f7"/>
<circle cx="116.8" cy="198.9" r="1.30" fill="#3149f7"/>
<circle cx="89.3" cy="230.0" r="1.30" fill="#3149f7"/>
<circle cx="84.6" cy="230.9" r="1.30" fill="#3149f7"/>
<circle cx="107.5" cy="209.5" r="1.30" fill="#3149f7"/>
<circle cx="116.8" cy="198.9" r="1.30" fill="#3149f7"/>
<circle cx="111.5" cy="205.4" r="1.30" fill="#304af7"/>
<circle cx="99.1" cy="218.5" r="1.30" fill="#304af7"/>
<circle cx="84.8" cy="230.8" r="1.30" fill="#304af7"/>
<circle cx="114.0" cy="202.7" r="1.30" fill="#304af7"/>
<circle cx="95.8" cy="220.3" r="1.30" fill="#304bf7"/>
<circle cx="112.3" cy="205.2" r="1.30" fill="#304bf7"/>
<circle cx="110.3" cy="205.6" r="1.30" fill="#304bf7"/>
<circle cx="109.3" cy="206.6" r="1.30" fill="#304bf7"/>
<circle cx="90.8" cy="226.8" r="1.30" fill="#304bf7"/>
<circle cx="116.4" cy="200.4" r="1.30" fill="#304bf7"/>
<circle cx="120.7" cy="195.5" r="1.30" fill="#304cf7"/>
<circle cx="108.3" cy="208.7" r="1.30" fill="#304cf7"/>
<circle cx="95.0" cy="220.3" r="1.30" fill="#304cf7"/>
<circle cx="83.4" cy="234.0" r="1.30" fill="#304cf7"/>
<circle cx="124.8" cy="191.9" r="1.30" fill="#304cf7"/>
<circle cx="85.9" cy="230.3" r="1.30" fill="#304cf7"/>
<circle cx="109.4" cy="207.6" r="1.30" fill="#304cf7"/>
<circle cx="121.3" cy="195.7" r="1.30" fill="#304cf7"/>
<circle cx="110.0" cy="205.9" r="1.30" fill="#304df7"/>
<circle cx="105.0" cy="212.0" r="1.30" fill="#304df7"/>
<circle cx="87.5" cy="229.8" r="1.30" fill="#304df7"/>
<circle cx="110.2" cy="206.9" r="1.30" fill="#304df7"/>
<circle cx="91.7" cy="227.1" r="1.30" fill="#2f4ef8"/>
<circle cx="98.3" cy="220.0" r="1.30" fill="#2f4ef8"/>
<circle cx="124.4" cy="191.2" r="1.30" fill="#2f4ef8"/>
<circle cx="122.9" cy="194.3" r="1.30" fill="#2f4ef8"/>
<circle cx="86.2" cy="232.0" r="1.30" fill="#2f4ef8"/>
<circle cx="103.5" cy="211.2" r="1.30" fill="#2f4ff8"/>
<circle cx="88.7" cy="228.2" r="1.30" fill="#2f4ff8"/>
<circle cx="103.5" cy="214.4" r="1.30" fill="#2f4ff8"/>
<circle cx="89.5" cy="228.2" r="1.30" fill="#2f4ff8"/>
<circle cx="130.2" cy="188.4" r="1.30" fill="#2f4ff8"/>
<circle cx="106.9" cy="210.5" r="1.30" fill="#2f4ff8"/>
<circle cx="87.8" cy="229.4" r="1.30" fill="#2f4ff8"/>
<circle cx="103.3" cy="214.8" r="1.30" fill="#2f4ff8"/>
<circle cx="105.0" cy="209.7" r="1.30" fill="#2f4ff8"/>
<circle cx="104.7" cy="212.3" r="1.30" fill="#2f50f8"/>
<circle cx="121.4" cy="196.8" r="1.30" fill="#2f50f8"/>
<circle cx="93.2" cy="225.9" r="1.30" fill="#2f50f8"/>
<circle cx="98.9" cy="217.8" r="1.30" fill="#2f50f8"/>
<circle cx="96.1" cy="219.2" r="1.30" fill="#2f50f8"/>
<circle cx="113.5" cy="202.8" r="1.30" fill="#2f50f8"/>
<circle cx="98.8" cy="216.6" r="1.30" fill="#2f50f8"/>
<circle cx="88.2" cy="226.4" r="1.30" fill="#2f51f8"/>
<circle cx="114.7" cy="201.8" r="1.30" fill="#2f51f8"/>
<circle cx="92.5" cy="225.1" r="1.30" fill="#2f51f8"/>
<circle cx="96.6" cy="220.3" r="1.30" fill="#2f51f8"/>
<circle cx="85.7" cy="231.4" r="1.30" fill="#2f51f8"/>
<circle cx="120.7" cy="195.6" r="1.30" fill="#2f51f8"/>
<circle cx="94.3" cy="223.2" r="1.30" fill="#2f51f8"/>
<circle cx="112.0" cy="203.4" r="1.30" fill="#2f51f8"/>
<circle cx="102.7" cy="214.0" r="1.30" fill="#2f51f8"/>
<circle cx="94.7" cy="222.5" r="1.30" fill="#2f52f8"/>
<circle cx="84.4" cy="232.8" r="1.30" fill="#2e52f8"/>
<circle cx="123.4" cy="192.0" r="1.30" fill="#2e52f8"/>
<circle cx="87.1" cy="231.3" r="1.30" fill="#2e52f8"/>
<circle cx="103.1" cy="214.4" r="1.30" fill="#2e53f8"/>
<circle cx="85.5" cy="230.1" r="1.30" fill="#2e53f8"/>
<circle cx="109.3" cy="208.0" r="1.30" fill="#2e53f8"/>
<circle cx="83.4" cy="233.0" r="1.30" fill="#2e53f8"/>
<circle cx="87.2" cy="230.6" r="1.30" fill="#2e54f8"/>
<circle cx="96.8" cy="221.4" r="1.30" fill="#2e54f8"/>
<circle cx="114.6" cy="203.0" r="1.30" fill="#2e54f8"/>
<circle cx="103.4" cy="212.3" r="1.30" fill="#2e54f8"/>
<circle cx="117.8" cy="197.6" r="1.30" fill="#2e54f8"/>
<circle cx="96.6" cy="219.3" r="1.30" fill="#2e54f8"/>
<circle cx="124.1" cy="193.9" r="1.30" fill="#2e54f8"/>
<circle cx="91.0" cy="224.5" r="1.30" fill="#2e54f8"/>
<circle cx="108.6" cy="209.0" r="1.30" fill="#2e54f8"/>
<circle cx="84.0" cy="232.3" r="1.30" fill="#2e55f8"/>
<circle cx="114.3" cy="203.6" r="1.30" fill="#2e55f8"/>
<circle cx="110.6" cy="206.9" r="1.30" fill="#2e55f8"/>
<circle cx="123.2" cy="194.6" r="1.30" fill="#2e55f8"/>
<circle cx="88.9" cy="227.8" r="1.30" fill="#2e56f8"/>
<circle cx="114.8" cy="201.0" r="1.30" fill="#2e56f8"/>
<circle cx="106.1" cy="211.0" r="1.30" fill="#2e56f8"/>
<circle cx="84.9" cy="232.8" r="1.30" fill="#2e56f8"/>
<circle cx="87.4" cy="227.2" r="1.30" fill="#2d56f8"/>
<circle cx="108.4" cy="206.1" r="1.30" fill="#2d56f8"/>
<circle cx="102.7" cy="213.8" r="1.30" fill="#2d56f8"/>
<circle cx="86.6" cy="231.8" r="1.30" fill="#2d57f8"/>
<circle cx="111.5" cy="207.0" r="1.30" fill="#2d57f8"/>
<circle cx="85.6" cy="233.1" r="1.30" fill="#2d57f8"/>
<circle cx="89.2" cy="228.7" r="1.30" fill="#2d57f8"/>
<circle cx="84.7" cy="233.9" r="1.30" fill="#2d57f8"/>
<circle cx="94.3" cy="224.7" r="1.30" fill="#2d58f8"/>
<circle cx="94.5" cy="221.8" r="1.30" fill="#2d58f8"/>
<circle cx="109.6" cy="207.1" r="1.30" fill="#2d58f8"/>
<circle cx="101.9" cy="215.9" r="1.30" fill="#2d58f8"/>
<circle cx="115.3" cy="201.6" r="1.30" fill="#2d58f8"/>
<circle cx="85.6" cy="231.4" r="1.30" fill="#2d58f8"/>
<circle cx="112.5" cy="204.3" r="1.30" fill="#2d58f8"/>
<circle cx="85.1" cy="230.6" r="1.30" fill="#2d58f8"/>
<circle cx="86.9" cy="231.0" r="1.30" fill="#2d58f8"/>
<circle cx="85.5" cy="232.3" r="1.30" fill="#2d59f8"/>
<circle cx="123.5" cy="192.0" r="1.30" fill="#2d59f8"/>
<circle cx="93.0" cy="224.7" r="1.30" fill="#2d59f8"/>
<circle cx="93.5" cy="222.5" r="1.30" fill="#2d59f8"/>
<circle cx="91.9" cy="225.5" r="1.30" fill="#2d5af8"/>
<circle cx="116.1" cy="202.5" r="1.30" fill="#2d5af8"/>
<circle cx="98.6" cy="218.2" r="1.30" fill="#2d5af8"/>
<circle cx="91.2" cy="225.0" r="1.30" fill="#2d5af8"/>
<circle cx="107.9" cy="209.7" r="1.30" fill="#2d5af8"/>
<circle cx="104.3" cy="211.8" r="1.30" fill="#2d5af8"/>
<circle cx="130.0" cy="188.4" r="1.30" fill="#2d5af8"/>
<circle cx="85.3" cy="230.6" r="1.30" fill="#2d5af8"/>
<circle cx="94.4" cy="223.6" r="1.30" fill="#2d5af8"/>
<circle cx="104.7" cy="211.7" r="1.30" fill="#2d5af8"/>
<circle cx="96.8" cy="219.3" r="1.30" fill="#2c5bf9"/>
<circle cx="90.3" cy="227.0" r="1.30" fill="#2c5bf9"/>
<circle cx="104.8" cy="210.0" r="1.30" fill="#2c5bf9"/>
<circle cx="123.1" cy="194.8" r="1.30" fill="#2c5bf9"/>
<circle cx="89.9" cy="225.5" r="1.30" fill="#2c5bf9"/>
<circle cx="91.6" cy="223.5" r="1.30" fill="#2c5bf9"/>
<circle cx="108.1" cy="209.1" r="1.30" fill="#2c5cf9"/>
<circle cx="89.0" cy="228.4" r="1.30" fill="#2c5cf9"/>
<circle cx="96.0" cy="222.3" r="1.30" fill="#2c5cf9"/>
<circle cx="100.9" cy="216.5" r="1.30" fill="#2c5df9"/>
<circle cx="99.7" cy="215.7" r="1.30" fill="#2c5df9"/>
<circle cx="96.7" cy="220.1" r="1.30" fill="#2c5df9"/>
<circle cx="108.3" cy="209.0" r="1.30" fill="#2c5df9"/>
<circle cx="114.6" cy="203.1" r="1.30" fill="#2c5df9"/>
<circle cx="117.2" cy="200.0" r="1.30" fill="#2c5df9"/>
<circle cx="110.9" cy="204.1" r="1.30" fill="#2c5df9"/>
<circle cx="119.7" cy="197.7" r="1.30" fill="#2c5df9"/>
<circle cx="116.8" cy="200.3" r="1.30" fill="#2c5df9"/>
<circle cx="108.5" cy="208.2" r="1.30" fill="#2c5df9"/>
<circle cx="92.4" cy="223.0" r="1.30" fill="#2c5ef9"/>
<circle cx="118.8" cy="197.4" r="1.30" fill="#2c5ef9"/>
<circle cx="111.0" cy="204.5" r="1.30" fill="#2c5ef9"/>
<circle cx="102.5" cy="212.3" r="1.30" fill="#2c5ef9"/>
<circle cx="91.7" cy="224.9" r="1.30" fill="#2c5ef9"/>
<circle cx="106.0" cy="212.0" r="1.30" fill="#2b5ff9"/>
<circle cx="99.5" cy="217.2" r="1.30" fill="#2b5ff9"/>
<circle cx="120.1" cy="196.1" r="1.30" fill="#2b5ff9"/>
<circle cx="88.8" cy="227.7" r="1.30" fill="#2b60f9"/>
<circle cx="103.8" cy="213.0" r="1.30" fill="#2b60f9"/>
<circle cx="85.9" cy="231.1" r="1.30" fill="#2b60f9"/>
<circle cx="105.0" cy="209.9" r="1.30" fill="#2b60f9"/>
<circle cx="89.3" cy="228.4" r="1.30" fill="#2b60f9"/>
<circle cx="126.6" cy="191.5" r="1.30" fill="#2b60f9"/>
<circle cx="99.8" cy="216.9" r="1.30" fill="#2b61f9"/>
<circle cx="100.3" cy="216.7" r="1.30" fill="#2b61f9"/>
<circle cx="107.5" cy="208.6" r="1.30" fill="#2b61f9"/>
<circle cx="85.2" cy="232.5" r="1.30" fill="#2b61f9"/>
<circle cx="94.1" cy="221.4" r="1.30" fill="#2b61f9"/>
<circle cx="114.6" cy="200.3" r="1.30" fill="#2b62f9"/>
<circle cx="110.7" cy="206.2" r="1.30" fill="#2b62f9"/>
<circle cx="114.6" cy="203.2" r="1.30" fill="#2b62f9"/>
<circle cx="105.7" cy="210.8" r="1.30" fill="#2b63f9"/>
<circle cx="102.3" cy="215.4" r="1.30" fill="#2a63f9"/>
<circle cx="109.5" cy="207.3" r="1.30" fill="#2a64f9"/>
<circle cx="108.1" cy="208.7" r="1.30" fill="#2a64f9"/>
<circle cx="107.4" cy="207.9" r="1.30" fill="#2a64f9"/>
<circle cx="109.5" cy="209.2" r="1.30" fill="#2a64f9"/>
<circle cx="102.9" cy="213.3" r="1.30" fill="#2a64f9"/>
<circle cx="121.6" cy="194.4" r="1.30" fill="#2a64f9"/>
<circle cx="108.8" cy="206.6" r="1.30" fill="#2a64f9"/>
<circle cx="127.7" cy="189.8" r="1.30" fill="#2a65f9"/>
<circle cx="89.3" cy="226.6" r="1.30" fill="#2a65f9"/>
<circle cx="114.9" cy="201.2" r="1.30" fill="#2a65f9"/>
<circle cx="99.2" cy="218.4" r="1.30" fill="#2a65f9"/>
<circle cx="97.3" cy="220.9" r="1.30" fill="#2a65f9"/>
<circle cx="106.9" cy="209.5" r="1.30" fill="#2a65f9"/>
<circle cx="87.9" cy="230.1" r="1.30" fill="#2a65f9"/>
<circle cx="98.2" cy="219.7" r="1.30" fill="#2a66f9"/>
<circle cx="99.4" cy="218.4" r="1.30" fill="#2a66f9"/>
<circle cx="96.8" cy="218.4" r="1.30" fill="#2a66f9"/>
<circle cx="95.9" cy="220.4" r="1.30" fill="#2a66f9"/>
<circle cx="103.0" cy="211.7" r="1.30" fill="#2a67f9"/>
<circle cx="118.7" cy="199.4" r="1.30" fill="#2a67f9"/>
<circle cx="102.4" cy="215.0" r="1.30" fill="#2a67f9"/>
<circle cx="123.2" cy="193.4" r="1.30" fill="#2a67f9"/>
<circle cx="85.2" cy="229.8" r="1.30" fill="#2a67f9"/>
<circle cx="104.1" cy="213.6" r="1.30" fill="#2a67f9"/>
<circle cx="90.3" cy="225.4" r="1.30" fill="#2a67f9"/>
<circle cx="87.5" cy="229.3" r="1.30" fill="#2968fa"/>
<circle cx="112.1" cy="203.7" r="1.30" fill="#2968fa"/>
<circle cx="96.7" cy="219.6" r="1.30" fill="#2968fa"/>
<circle cx="120.0" cy="197.8" r="1.30" fill="#2968fa"/>
<circle cx="96.7" cy="219.1" r="1.30" fill="#2969fa"/>
<circle cx="101.7" cy="215.8" r="1.30" fill="#2969fa"/>
<circle cx="98.0" cy="219.0" r="1.30" fill="#2969fa"/>
<circle cx="107.8" cy="209.0" r="1.30" fill="#2969fa"/>
<circle cx="96.2" cy="221.0" r="1.30" fill="#2969fa"/>
<circle cx="90.5" cy="225.7" r="1.30" fill="#2969fa"/>
<circle cx="107.6" cy="209.3" r="1.30" fill="#296afa"/>
<circle cx="98.6" cy="219.3" r="1.30" fill="#296afa"/>
<circle cx="100.8" cy="216.0" r="1.30" fill="#296afa"/>
<circle cx="87.0" cy="229.2" r="1.30" fill="#296afa"/>
<circle cx="94.8" cy="223.0" r="1.30" fill="#296afa"/>
<circle cx="103.8" cy="212.1" r="1.30" fill="#296bfa"/>
<circle cx="85.6" cy="229.4" r="1.30" fill="#296bfa"/>
<circle cx="111.1" cy="205.8" r="1.30" fill="#296bfa"/>
<circle cx="96.2" cy="221.2" r="1.30" fill="#296bfa"/>
<circle cx="84.2" cy="232.9" r="1.30" fill="#296bfa"/>
<circle cx="101.0" cy="214.6" r="1.30" fill="#296bfa"/>
<circle cx="97.5" cy="218.9" r="1.30" fill="#296bfa"/>
<circle cx="97.6" cy="220.6" r="1.30" fill="#296bfa"/>
<circle cx="88.8" cy="227.6" r="1.30" fill="#296bfa"/>
<circle cx="88.0" cy="229.4" r="1.30" fill="#296bfa"/>
<circle cx="117.5" cy="198.4" r="1.30" fill="#296cfa"/>
<circle cx="100.6" cy="215.0" r="1.30" fill="#296cfa"/>
<circle cx="83.1" cy="233.5" r="1.30" fill="#286cfa"/>
<circle cx="101.7" cy="214.7" r="1.30" fill="#286cfa"/>
<circle cx="121.2" cy="195.8" r="1.30" fill="#286cfa"/>
<circle cx="83.5" cy="233.1" r="1.30" fill="#286dfa"/>
<circle cx="83.5" cy="233.2" r="1.30" fill="#286dfa"/>
<circle cx="114.5" cy="201.9" r="1.30" fill="#286dfa"/>
<circle cx="89.2" cy="229.9" r="1.30" fill="#286dfa"/>
<circle cx="107.9" cy="207.9" r="1.30" fill="#286efa"/>
<circle cx="106.8" cy="209.9" r="1.30" fill="#286efa"/>
<circle cx="86.3" cy="232.3" r="1.30" fill="#286efa"/>
<circle cx="87.6" cy="230.7" r="1.30" fill="#286efa"/>
<circle cx="98.1" cy="218.2" r="1.30" fill="#286efa"/>
<circle cx="87.1" cy="228.7" r="1.30" fill="#286ffa"/>
<circle cx="84.7" cy="231.3" r="1.30" fill="#286ffa"/>
<circle cx="95.0" cy="221.3" r="1.30" fill="#2870fa"/>
<circle cx="137.6" cy="181.5" r="1.30" fill="#2870fa"/>
<circle cx="92.8" cy="223.2" r="1.30" fill="#2870fa"/>
<circle cx="89.2" cy="228.2" r="1.30" fill="#2870fa"/>
<circle cx="92.4" cy="224.5" r="1.30" fill="#2871fa"/>
<circle cx="117.5" cy="198.7" r="1.30" fill="#2871fa"/>
<circle cx="120.8" cy="196.0" r="1.30" fill="#2871fa"/>
<circle cx="100.3" cy="215.6" r="1.30" fill="#2871fa"/>
<circle cx="114.8" cy="202.9" r="1.30" fill="#2871fa"/>
<circle cx="109.5" cy="208.0" r="1.30" fill="#2871fa"/>
<circle cx="86.0" cy="229.9" r="1.30" fill="#2871fa"/>
<circle cx="88.3" cy="227.8" r="1.30" fill="#2872fa"/>
<circle cx="89.9" cy="225.7" r="1.30" fill="#2873fa"/>
<circle cx="83.6" cy="233.3" r="1.30" fill="#2973fa"/>
<circle cx="111.6" cy="204.0" r="1.30" fill="#2973fa"/>
<circle cx="87.2" cy="229.6" r="1.30" fill="#2973fa"/>
<circle cx="88.0" cy="228.2" r="1.30" fill="#2973fa"/>
<circle cx="104.3" cy="212.2" r="1.30" fill="#2974fa"/>
<circle cx="83.8" cy="232.3" r="1.30" fill="#2975fa"/>
<circle cx="96.5" cy="220.3" r="1.30" fill="#2975fa"/>
<circle cx="97.9" cy="221.1" r="1.30" fill="#2975fa"/>
<circle cx="87.6" cy="227.3" r="1.30" fill="#2975fa"/>
<circle cx="98.9" cy="217.2" r="1.30" fill="#2976fa"/>
<circle cx="109.4" cy="206.1" r="1.30" fill="#2976fa"/>
<circle cx="89.1" cy="226.9" r="1.30" fill="#2976fa"/>
<circle cx="102.3" cy="214.6" r="1.30" fill="#2976fa"/>
<circle cx="96.6" cy="221.1" r="1.30" fill="#2976fa"/>
<circle cx="108.5" cy="208.5" r="1.30" fill="#2976fa"/>
<circle cx="91.4" cy="224.6" r="1.30" fill="#2976fa"/>
<circle cx="101.1" cy="214.6" r="1.30" fill="#2976fa"/>
<circle cx="93.6" cy="224.0" r="1.30" fill="#2976fa"/>
<circle cx="94.8" cy="222.7" r="1.30" fill="#2976fa"/>
<circle cx="98.1" cy="217.8" r="1.30" fill="#2977fa"/>
<circle cx="119.7" cy="199.5" r="1.30" fill="#2977fa"/>
<circle cx="109.8" cy="205.5" r="1.30" fill="#2978fa"/>
<circle cx="94.1" cy="223.4" r="1.30" fill="#2978fa"/>
<circle cx="110.4" cy="208.2" r="1.30" fill="#2978fa"/>
<circle cx="87.2" cy="227.4" r="1.30" fill="#2978fa"/>
<circle cx="98.0" cy="218.2" r="1.30" fill="#2978fa"/>
<circle cx="83.5" cy="232.6" r="1.30" fill="#2978fa"/>
<circle cx="109.4" cy="209.1" r="1.30" fill="#2979fa"/>
<circle cx="95.8" cy="221.9" r="1.30" fill="#2979fa"/>
<circle cx="88.1" cy="230.3" r="1.30" fill="#2979fa"/>
<circle cx="97.9" cy="218.1" r="1.30" fill="#2979fa"/>
<circle cx="83.7" cy="234.0" r="1.30" fill="#297afa"/>
<circle cx="92.8" cy="223.4" r="1.30" fill="#297afa"/>
<circle cx="88.6" cy="227.2" r="1.30" fill="#297bfa"/>
<circle cx="93.4" cy="224.1" r="1.30" fill="#297bfa"/>
<circle cx="114.1" cy="204.6" r="1.30" fill="#297cfa"/>
<circle cx="96.5" cy="219.9" r="1.30" fill="#297cfa"/>
<circle cx="85.9" cy="230.6" r="1.30" fill="#297cfa"/>
<circle cx="89.4" cy="227.1" r="1.30" fill="#297dfa"/>
<circle cx="98.3" cy="219.1" r="1.30" fill="#297dfa"/>
<circle cx="90.9" cy="226.2" r="1.30" fill="#2a7dfa"/>
<circle cx="97.0" cy="220.2" r="1.30" fill="#2a7efa"/>
<circle cx="109.6" cy="207.3" r="1.30" fill="#2a7efa"/>
<circle cx="93.5" cy="222.3" r="1.30" fill="#2a7efa"/>
<circle cx="109.8" cy="207.4" r="1.30" fill="#2a7ffa"/>
<circle cx="96.9" cy="218.3" r="1.30" fill="#2a7ffa"/>
<circle cx="111.3" cy="205.5" r="1.30" fill="#2a7ffa"/>
<circle cx="95.7" cy="219.8" r="1.30" fill="#2a7ffa"/>
<circle cx="102.0" cy="214.1" r="1.30" fill="#2a7ffa"/>
<circle cx="113.4" cy="204.9" r="1.30" fill="#2a80fa"/>
<circle cx="85.0" cy="231.7" r="1.30" fill="#2a80fa"/>
<circle cx="86.1" cy="232.4" r="1.30" fill="#2a80fa"/>
<circle cx="116.7" cy="199.2" r="1.30" fill="#2a80fa"/>
<circle cx="118.1" cy="197.8" r="1.30" fill="#2a81fa"/>
<circle cx="89.1" cy="225.9" r="1.30" fill="#2a81fa"/>
<circle cx="87.4" cy="228.1" r="1.30" fill="#2a81fa"/>
<circle cx="89.8" cy="226.9" r="1.30" fill="#2a81fa"/>
<circle cx="97.2" cy="219.5" r="1.30" fill="#2a82fa"/>
<circle cx="96.6" cy="220.1" r="1.30" fill="#2a82fa"/>
<circle cx="121.3" cy="196.2" r="1.30" fill="#2a82fa"/>
<circle cx="85.6" cy="231.9" r="1.30" fill="#2a83fa"/>
<circle cx="97.6" cy="217.8" r="1.30" fill="#2a84fa"/>
<circle cx="120.3" cy="195.4" r="1.30" fill="#2a84fa"/>
<circle cx="109.8" cy="207.5" r="1.30" fill="#2a84fa"/>
<circle cx="113.0" cy="204.8" r="1.30" fill="#2a84fa"/>
<circle cx="105.3" cy="211.4" r="1.30" fill="#2a84fa"/>
<circle cx="110.8" cy="207.9" r="1.30" fill="#2a85fa"/>
<circle cx="93.5" cy="223.6" r="1.30" fill="#2a85fa"/>
<circle cx="88.0" cy="228.4" r="1.30" fill="#2a85fa"/>
<circle cx="108.8" cy="208.2" r="1.30" fill="#2a85fa"/>
<circle cx="85.2" cy="231.6" r="1.30" fill="#2a85fa"/>
<circle cx="94.0" cy="223.2" r="1.30" fill="#2a85fa"/>
<circle cx="87.3" cy="228.7" r="1.30" fill="#2a86fa"/>
<circle cx="88.7" cy="227.3" r="1.30" fill="#2a86fa"/>
<circle cx="89.5" cy="227.4" r="1.30" fill="#2a87fa"/>
<circle cx="108.6" cy="207.7" r="1.30" fill="#2a87fa"/>
<circle cx="96.2" cy="220.6" r="1.30" fill="#2b88fa"/>
<circle cx="92.7" cy="224.4" r="1.30" fill="#2b88fa"/>
<circle cx="87.5" cy="229.5" r="1.30" fill="#2b88fa"/>
<circle cx="120.6" cy="194.7" r="1.30" fill="#2b88fa"/>
<circle cx="87.6" cy="230.2" r="1.30" fill="#2b88fa"/>
<circle cx="96.8" cy="218.3" r="1.30" fill="#2b89fa"/>
<circle cx="95.8" cy="222.5" r="1.30" fill="#2b89fa"/>
<circle cx="106.9" cy="211.0" r="1.30" fill="#2b8afa"/>
<circle cx="100.6" cy="216.7" r="1.30" fill="#2b8afa"/>
<circle cx="86.5" cy="231.0" r="1.30" fill="#2b8afa"/>
<circle cx="122.9" cy="193.2" r="1.30" fill="#2b8afa"/>
<circle cx="98.7" cy="216.7" r="1.30" fill="#2b8afa"/>
<circle cx="90.2" cy="226.1" r="1.30" fill="#2b8bfa"/>
<circle cx="110.8" cy="206.0" r="1.30" fill="#2b8bfa"/>
<circle cx="86.8" cy="230.7" r="1.30" fill="#2b8bfa"/>
<circle cx="97.2" cy="219.7" r="1.30" fill="#2b8cfa"/>
<circle cx="108.2" cy="209.3" r="1.30" fill="#2b8cfa"/>
<circle cx="109.6" cy="209.1" r="1.30" fill="#2b8cfa"/>
<circle cx="86.6" cy="229.1" r="1.30" fill="#2b8dfa"/>
<circle cx="91.7" cy="224.9" r="1.30" fill="#2b8dfa"/>
<circle cx="91.4" cy="223.8" r="1.30" fill="#2b8efa"/>
<circle cx="103.7" cy="213.2" r="1.30" fill="#2b8efa"/>
<circle cx="117.2" cy="198.9" r="1.30" fill="#2b8efa"/>
<circle cx="85.7" cy="230.1" r="1.30" fill="#2b8efa"/>
<circle cx="108.6" cy="207.7" r="1.30" fill="#2b8ffa"/>
<circle cx="107.6" cy="208.8" r="1.30" fill="#2b8ffa"/>
<circle cx="89.8" cy="226.4" r="1.30" fill="#2b90fa"/>
<circle cx="92.7" cy="222.8" r="1.30" fill="#2b91fa"/>
<circle cx="115.4" cy="200.8" r="1.30" fill="#2b91fa"/>
<circle cx="101.5" cy="215.1" r="1.30" fill="#2b91fa"/>
<circle cx="99.0" cy="216.5" r="1.30" fill="#2c91fa"/>
<circle cx="91.6" cy="223.7" r="1.30" fill="#2c91fa"/>
<circle cx="86.6" cy="231.9" r="1.30" fill="#2c91fa"/>
<circle cx="85.3" cy="232.7" r="1.30" fill="#2c92fa"/>
<circle cx="121.3" cy="195.7" r="1.30" fill="#2c92fa"/>
<circle cx="85.0" cy="231.9" r="1.30" fill="#2c92fa"/>
<circle cx="97.7" cy="218.5" r="1.30" fill="#2c93fa"/>
<circle cx="108.5" cy="208.6" r="1.30" fill="#2c93fa"/>
<circle cx="84.5" cy="233.3" r="1.30" fill="#2c94fa"/>
<circle cx="87.1" cy="228.9" r="1.30" fill="#2c94fa"/>
<circle cx="108.3" cy="208.7" r="1.30" fill="#2c94fa"/>
<circle cx="102.6" cy="214.4" r="1.30" fill="#2c94fa"/>
<circle cx="100.4" cy="217.2" r="1.30" fill="#2c94fa"/>
<circle cx="96.7" cy="221.6" r="1.30" fill="#2c94fa"/>
<circle cx="108.8" cy="208.6" r="1.30" fill="#2c94fa"/>
<circle cx="84.5" cy="231.7" r="1.30" fill="#2c95fa"/>
<circle cx="83.6" cy="232.5" r="1.30" fill="#2c95fa"/>
<circle cx="109.9" cy="206.0" r="1.30" fill="#2c95fa"/>
<circle cx="122.1" cy="194.3" r="1.30" fill="#2c95fa"/>
<circle cx="91.7" cy="224.7" r="1.30" fill="#2c95fa"/>
<circle cx="90.3" cy="226.1" r="1.30" fill="#2c96fa"/>
<circle cx="86.2" cy="232.2" r="1.30" fill="#2c96fa"/>
<circle cx="95.2" cy="222.2" r="1.30" fill="#2c96fa"/>
<circle cx="101.4" cy="215.6" r="1.30" fill="#2c96fa"/>
<circle cx="85.8" cy="229.6" r="1.30" fill="#2c96fa"/>
<circle cx="87.4" cy="230.0" r="1.30" fill="#2c97fa"/>
<circle cx="110.1" cy="206.7" r="1.30" fill="#2c97fa"/>
<circle cx="110.6" cy="206.7" r="1.30" fill="#2c97fa"/>
<circle cx="100.7" cy="215.3" r="1.30" fill="#2c98fa"/>
<circle cx="108.1" cy="207.8" r="1.30" fill="#2c99fa"/>
<circle cx="98.3" cy="218.9" r="1.30" fill="#2c99fa"/>
<circle cx="85.0" cy="233.5" r="1.30" fill="#2c9afa"/>
<circle cx="117.8" cy="198.5" r="1.30" fill="#2c9afa"/>
<circle cx="108.1" cy="208.6" r="1.30" fill="#2c9afa"/>
<circle cx="85.4" cy="232.4" r="1.30" fill="#2c9afa"/>
<circle cx="110.2" cy="205.7" r="1.30" fill="#2c9afa"/>
<circle cx="86.9" cy="230.0" r="1.30" fill="#2c9bfa"/>
<circle cx="106.5" cy="210.0" r="1.30" fill="#2d9bfa"/>
<circle cx="93.9" cy="222.4" r="1.30" fill="#2d9cfa"/>
<circle cx="102.8" cy="213.1" r="1.30" fill="#2d9dfa"/>
<circle cx="111.9" cy="206.0" r="1.30" fill="#2d9dfa"/>
<circle cx="98.9" cy="218.2" r="1.30" fill="#2d9dfa"/>
<circle cx="85.7" cy="230.6" r="1.30" fill="#2d9dfa"/>
<circle cx="98.3" cy="219.6" r="1.30" fill="#2d9efa"/>
<circle cx="93.1" cy="222.8" r="1.30" fill="#2d9efa"/>
<circle cx="93.9" cy="221.9" r="1.30" fill="#2d9efa"/>
<circle cx="112.8" cy="205.1" r="1.30" fill="#2d9efa"/>
<circle cx="131.2" cy="187.9" r="1.30" fill="#2d9efa"/>
<circle cx="107.5" cy="209.8" r="1.30" fill="#2d9ffa"/>
<circle cx="118.7" cy="197.8" r="1.30" fill="#2da0fa"/>
<circle cx="91.7" cy="225.8" r="1.30" fill="#2da0fa"/>
<circle cx="103.8" cy="213.2" r="1.30" fill="#2da0fa"/>
<circle cx="105.0" cy="211.7" r="1.30" fill="#2da0fa"/>
<circle cx="108.6" cy="208.9" r="1.30" fill="#2da0fa"/>
<circle cx="116.1" cy="199.6" r="1.30" fill="#2da1fa"/>
<circle cx="109.3" cy="207.1" r="1.30" fill="#2da1fa"/>
<circle cx="96.2" cy="220.2" r="1.30" fill="#2da1fa"/>
<circle cx="103.6" cy="213.5" r="1.30" fill="#2da1fa"/>
<circle cx="103.2" cy="214.6" r="1.30" fill="#2da2fa"/>
<circle cx="118.3" cy="199.1" r="1.30" fill="#2da2fa"/>
<circle cx="96.4" cy="220.7" r="1.30" fill="#2da2fa"/>
<circle cx="91.2" cy="224.5" r="1.30" fill="#2da2fa"/>
<circle cx="90.3" cy="226.0" r="1.30" fill="#2da2fa"/>
<circle cx="114.0" cy="202.1" r="1.30" fill="#2da3fa"/>
<circle cx="87.3" cy="229.9" r="1.30" fill="#2da3fa"/>
<circle cx="88.0" cy="230.0" r="1.30" fill="#2ea6fa"/>
<circle cx="105.8" cy="211.1" r="1.30" fill="#2ea6fa"/>
<circle cx="102.0" cy="214.9" r="1.30" fill="#2ea6fa"/>
<circle cx="122.1" cy="194.3" r="1.30" fill="#2ea7fa"/>
<circle cx="99.2" cy="218.5" r="1.30" fill="#2ea8fa"/>
<circle cx="102.2" cy="214.4" r="1.30" fill="#2ea8fa"/>
<circle cx="109.5" cy="206.9" r="1.30" fill="#2ea8fa"/>
<circle cx="119.1" cy="199.1" r="1.30" fill="#2ea8fa"/>
<circle cx="117.3" cy="198.0" r="1.30" fill="#2ea8fa"/>
<circle cx="96.5" cy="219.8" r="1.30" fill="#2ea8fa"/>
<circle cx="125.9" cy="191.5" r="1.30" fill="#2ea9fa"/>
<circle cx="99.2" cy="217.7" r="1.30" fill="#2ea9fa"/>
<circle cx="98.0" cy="219.9" r="1.30" fill="#2ea9fa"/>
<circle cx="99.2" cy="218.3" r="1.30" fill="#2eaafa"/>
<circle cx="111.3" cy="204.4" r="1.30" fill="#2eaafa"/>
<circle cx="114.9" cy="201.3" r="1.30" fill="#2eaafa"/>
<circle cx="114.3" cy="203.3" r="1.30" fill="#2eaafa"/>
<circle cx="107.7" cy="209.8" r="1.30" fill="#2eabfa"/>
<circle cx="97.4" cy="218.6" r="1.30" fill="#2eabfa"/>
<circle cx="96.8" cy="219.9" r="1.30" fill="#2eabfa"/>
<circle cx="86.0" cy="230.0" r="1.30" fill="#2eabfa"/>
<circle cx="101.3" cy="216.3" r="1.30" fill="#2eacfa"/>
<circle cx="115.0" cy="202.8" r="1.30" fill="#2eacfa"/>
<circle cx="96.2" cy="221.5" r="1.30" fill="#2eacfa"/>
<circle cx="93.0" cy="222.6" r="1.30" fill="#2eacfa"/>
<circle cx="97.2" cy="220.7" r="1.30" fill="#2eadfa"/>
<circle cx="82.9" cy="233.7" r="1.30" fill="#2eadfa"/>
<circle cx="92.7" cy="224.7" r="1.30" fill="#2eaefa"/>
<circle cx="126.4" cy="191.8" r="1.30" fill="#2eaefa"/>
<circle cx="101.2" cy="214.4" r="1.30" fill="#2eaefa"/>
<circle cx="108.8" cy="207.1" r="1.30" fill="#2eaefa"/>
<circle cx="92.9" cy="224.0" r="1.30" fill="#2eaefa"/>
<circle cx="112.8" cy="205.5" r="1.30" fill="#2eaffa"/>
<circle cx="95.0" cy="221.5" r="1.30" fill="#2eaffa"/>
<circle cx="123.0" cy="193.5" r="1.30" fill="#2eaffa"/>
<circle cx="109.0" cy="208.1" r="1.30" fill="#2faffa"/>
<circle cx="114.8" cy="201.7" r="1.30" fill="#2faffa"/>
<circle cx="96.1" cy="220.4" r="1.30" fill="#2fb1fa"/>
<circle cx="87.7" cy="227.0" r="1.30" fill="#2fb2fa"/>
<circle cx="85.4" cy="231.1" r="1.30" fill="#2fb3fa"/>
<circle cx="91.7" cy="225.2" r="1.30" fill="#2fb3fa"/>
<circle cx="95.0" cy="222.5" r="1.30" fill="#2fb4fa"/>
<circle cx="111.9" cy="203.5" r="1.30" fill="#2fb4fa"/>
<circle cx="109.9" cy="207.5" r="1.30" fill="#2fb4fa"/>
<circle cx="87.6" cy="229.4" r="1.30" fill="#2fb5fa"/>
<circle cx="95.3" cy="219.8" r="1.30" fill="#2fb6fa"/>
<circle cx="85.3" cy="231.3" r="1.30" fill="#2fb6fa"/>
<circle cx="111.3" cy="204.9" r="1.30" fill="#2fb6fa"/>
<circle cx="108.3" cy="208.2" r="1.30" fill="#2fb6fa"/>
<circle cx="95.3" cy="221.2" r="1.30" fill="#2fb7fa"/>
<circle cx="104.0" cy="212.0" r="1.30" fill="#2fb8fa"/>
<circle cx="87.2" cy="229.5" r="1.30" fill="#2fb8fa"/>
<circle cx="88.2" cy="227.8" r="1.30" fill="#2fb8fa"/>
<circle cx="92.3" cy="223.4" r="1.30" fill="#2fb9fa"/>
<circle cx="88.0" cy="228.1" r="1.30" fill="#2fb9fa"/>
<circle cx="125.9" cy="190.9" r="1.30" fill="#30bafa"/>
<circle cx="85.1" cy="233.4" r="1.30" fill="#30bbfa"/>
<circle cx="96.1" cy="220.1" r="1.30" fill="#30bbfa"/>
<circle cx="96.0" cy="219.2" r="1.30" fill="#30bbfa"/>
<circle cx="103.8" cy="213.0" r="1.30" fill="#30bcfa"/>
<circle cx="109.1" cy="206.4" r="1.30" fill="#30bcfa"/>
<circle cx="92.4" cy="224.2" r="1.30" fill="#30bdfa"/>
<circle cx="103.0" cy="212.3" r="1.30" fill="#30bdfa"/>
<circle cx="115.8" cy="202.1" r="1.30" fill="#30bdfa"/>
<circle cx="97.0" cy="220.3" r="1.30" fill="#30befa"/>
<circle cx="106.6" cy="209.7" r="1.30" fill="#30befa"/>
<circle cx="113.8" cy="203.1" r="1.30" fill="#30bffa"/>
<circle cx="97.6" cy="218.2" r="1.30" fill="#30bffa"/>
<circle cx="97.7" cy="220.3" r="1.30" fill="#30c0fa"/>
<circle cx="106.6" cy="210.7" r="1.30" fill="#30c0fa"/>
<circle cx="107.7" cy="208.9" r="1.30" fill="#30c1fa"/>
<circle cx="97.3" cy="218.3" r="1.30" fill="#30c1fa"/>
<circle cx="87.8" cy="229.6" r="1.30" fill="#30c2fa"/>
<circle cx="86.7" cy="230.0" r="1.30" fill="#30c2fa"/>
<circle cx="116.5" cy="200.0" r="1.30" fill="#30c2fa"/>
<circle cx="118.6" cy="197.7" r="1.30" fill="#30c3fa"/>
<circle cx="115.9" cy="199.7" r="1.30" fill="#31c3fa"/>
<circle cx="93.8" cy="223.0" r="1.30" fill="#31c3fa"/>
<circle cx="112.7" cy="204.1" r="1.30" fill="#31c4fa"/>
<circle cx="87.5" cy="229.9" r="1.30" fill="#31c4fa"/>
<circle cx="121.3" cy="195.8" r="1.30" fill="#31c5fa"/>
<circle cx="93.4" cy="223.0" r="1.30" fill="#31c5fa"/>
<circle cx="106.8" cy="209.4" r="1.30" fill="#31c5fa"/>
<circle cx="88.0" cy="227.4" r="1.30" fill="#31c6fa"/>
<circle cx="99.7" cy="216.7" r="1.30" fill="#31c6fa"/>
<circle cx="109.8" cy="207.6" r="1.30" fill="#31c6fa"/>
<circle cx="86.5" cy="231.9" r="1.30" fill="#31c7fa"/>
<circle cx="89.5" cy="227.3" r="1.30" fill="#31c7fa"/>
<circle cx="97.5" cy="218.2" r="1.30" fill="#31c8fa"/>
<circle cx="104.6" cy="212.4" r="1.30" fill="#31c9fa"/>
<circle cx="98.8" cy="217.5" r="1.30" fill="#31c9fa"/>
<circle cx="100.8" cy="215.1" r="1.30" fill="#31cafa"/>
<circle cx="93.7" cy="223.6" r="1.30" fill="#31ccfa"/>
<circle cx="100.3" cy="216.0" r="1.30" fill="#31ccfa"/>
<circle cx="87.1" cy="229.0" r="1.30" fill="#32cefa"/>
<circle cx="108.0" cy="208.5" r="1.30" fill="#32cefa"/>
<circle cx="102.1" cy="214.4" r="1.30" fill="#32cefa"/>
<circle cx="102.0" cy="213.0" r="1.30" fill="#32cffa"/>
<circle cx="116.4" cy="202.1" r="1.30" fill="#32cffa"/>
<circle cx="93.9" cy="222.0" r="1.30" fill="#32d0fa"/>
<circle cx="103.5" cy="213.5" r="1.30" fill="#32d2fa"/>
<circle cx="94.6" cy="222.4" r="1.30" fill="#32d2f9"/>
<circle cx="86.4" cy="232.3" r="1.30" fill="#32d2f9"/>
<circle cx="88.3" cy="228.7" r="1.30" fill="#33d3f8"/>
<circle cx="83.4" cy="233.9" r="1.30" fill="#33d3f7"/>
<circle cx="85.1" cy="230.6" r="1.30" fill="#33d3f7"/>
<circle cx="102.6" cy="214.9" r="1.30" fill="#33d3f6"/>
<circle cx="89.0" cy="227.6" r="1.30" fill="#34d4f5"/>
<circle cx="96.8" cy="219.9" r="1.30" fill="#34d4f5"/>
<circle cx="92.9" cy="224.5" r="1.30" fill="#34d4f5"/>
<circle cx="130.3" cy="188.4" r="1.30" fill="#34d4f4"/>
<circle cx="102.3" cy="214.2" r="1.30" fill="#34d4f4"/>
<circle cx="112.1" cy="203.8" r="1.30" fill="#34d4f4"/>
<circle cx="97.8" cy="219.5" r="1.30" fill="#34d5f4"/>
<circle cx="100.3" cy="215.6" r="1.30" fill="#34d5f3"/>
<circle cx="111.4" cy="205.4" r="1.30" fill="#34d5f3"/>
<circle cx="84.7" cy="233.1" r="1.30" fill="#34d5f3"/>
<circle cx="129.3" cy="188.5" r="1.30" fill="#35d5f2"/>
<circle cx="104.8" cy="211.2" r="1.30" fill="#35d5f2"/>
<circle cx="102.4" cy="213.0" r="1.30" fill="#35d5f1"/>
<circle cx="89.4" cy="228.3" r="1.30" fill="#35d5f1"/>
<circle cx="97.0" cy="220.5" r="1.30" fill="#35d6f0"/>
<circle cx="85.0" cy="233.6" r="1.30" fill="#35d6f0"/>
<circle cx="84.4" cy="232.0" r="1.30" fill="#35d6f0"/>
<circle cx="112.7" cy="204.0" r="1.30" fill="#36d6ef"/>
<circle cx="104.3" cy="212.5" r="1.30" fill="#36d6ee"/>
<circle cx="88.0" cy="228.5" r="1.30" fill="#36d7ee"/>
<circle cx="85.9" cy="231.8" r="1.30" fill="#36d7ed"/>
<circle cx="95.2" cy="221.9" r="1.30" fill="#36d7ed"/>
<circle cx="85.2" cy="230.8" r="1.30" fill="#36d7ed"/>
<circle cx="97.6" cy="218.8" r="1.30" fill="#37d8ec"/>
<circle cx="107.7" cy="209.7" r="1.30" fill="#37d8eb"/>
<circle cx="91.7" cy="225.7" r="1.30" fill="#37d8eb"/>
<circle cx="103.4" cy="212.6" r="1.30" fill="#37d8ea"/>
<circle cx="100.2" cy="216.6" r="1.30" fill="#37d8ea"/>
<circle cx="96.4" cy="221.4" r="1.30" fill="#37d8ea"/>
<circle cx="107.4" cy="210.0" r="1.30" fill="#38d9e9"/>
<circle cx="93.3" cy="223.0" r="1.30" fill="#38d9e8"/>
<circle cx="101.9" cy="216.7" r="1.30" fill="#38d9e8"/>
<circle cx="103.5" cy="213.3" r="1.30" fill="#38d9e8"/>
<circle cx="82.7" cy="233.8" r="1.30" fill="#38d9e7"/>
<circle cx="84.0" cy="232.8" r="1.30" fill="#38dae7"/>
<circle cx="91.4" cy="224.8" r="1.30" fill="#39dae6"/>
<circle cx="84.4" cy="232.0" r="1.30" fill="#39dae5"/>
<circle cx="114.0" cy="202.3" r="1.30" fill="#39dae5"/>
<circle cx="92.9" cy="223.2" r="1.30" fill="#39dae5"/>
<circle cx="84.4" cy="232.5" r="1.30" fill="#39dae5"/>
<circle cx="87.7" cy="228.7" r="1.30" fill="#39dae5"/>
<circle cx="93.2" cy="224.3" r="1.30" fill="#39dae5"/>
<circle cx="102.2" cy="214.5" r="1.30" fill="#39dae4"/>
<circle cx="95.6" cy="221.0" r="1.30" fill="#39dbe4"/>
<circle cx="101.0" cy="215.4" r="1.30" fill="#39dbe4"/>
<circle cx="92.7" cy="224.6" r="1.30" fill="#3adbe3"/>
<circle cx="84.7" cy="231.6" r="1.30" fill="#3adbe2"/>
<circle cx="105.0" cy="212.9" r="1.30" fill="#3adbe2"/>
<circle cx="94.4" cy="222.4" r="1.30" fill="#3adbe2"/>
<circle cx="103.2" cy="213.8" r="1.30" fill="#3adbe2"/>
<circle cx="97.6" cy="220.2" r="1.30" fill="#3adce2"/>
<circle cx="84.4" cy="232.5" r="1.30" fill="#3adce1"/>
<circle cx="121.8" cy="195.4" r="1.30" fill="#3bdce0"/>
<circle cx="85.9" cy="229.7" r="1.30" fill="#3bdcdf"/>
<circle cx="92.5" cy="224.8" r="1.30" fill="#3bdcdf"/>
<circle cx="106.7" cy="210.2" r="1.30" fill="#3bdcdf"/>
<circle cx="92.5" cy="223.7" r="1.30" fill="#3bdcdf"/>
<circle cx="107.1" cy="209.6" r="1.30" fill="#3bdddf"/>
<circle cx="86.0" cy="230.2" r="1.30" fill="#3bdddf"/>
<circle cx="119.5" cy="198.0" r="1.30" fill="#3bddde"/>
<circle cx="99.4" cy="217.9" r="1.30" fill="#3bddde"/>
<circle cx="84.1" cy="231.9" r="1.30" fill="#3bddde"/>
<circle cx="88.5" cy="229.3" r="1.30" fill="#3cdddd"/>
<circle cx="92.0" cy="225.1" r="1.30" fill="#3cdddd"/>
<circle cx="109.4" cy="207.0" r="1.30" fill="#3cdedc"/>
<circle cx="92.4" cy="224.1" r="1.30" fill="#3cdedc"/>
<circle cx="89.2" cy="226.6" r="1.30" fill="#3cdedc"/>
<circle cx="104.5" cy="213.5" r="1.30" fill="#3ddfda"/>
<circle cx="98.5" cy="218.1" r="1.30" fill="#3ddfd9"/>
<circle cx="95.3" cy="222.4" r="1.30" fill="#3ddfd9"/>
<circle cx="89.6" cy="228.1" r="1.30" fill="#3ddfd8"/>
<circle cx="85.6" cy="231.2" r="1.30" fill="#3ddfd8"/>
<circle cx="98.1" cy="219.0" r="1.30" fill="#3ddfd8"/>
<circle cx="103.2" cy="211.5" r="1.30" fill="#3edfd7"/>
<circle cx="92.8" cy="224.9" r="1.30" fill="#3ee0d7"/>
<circle cx="97.5" cy="219.8" r="1.30" fill="#3ee0d6"/>
<circle cx="101.3" cy="215.7" r="1.30" fill="#3ee0d6"/>
<circle cx="107.5" cy="208.8" r="1.30" fill="#3ee0d5"/>
<circle cx="110.5" cy="206.8" r="1.30" fill="#3ee0d5"/>
<circle cx="88.8" cy="228.7" r="1.30" fill="#3fe1d4"/>
<circle cx="111.2" cy="206.1" r="1.30" fill="#3fe1d4"/>
<circle cx="89.3" cy="226.8" r="1.30" fill="#3fe1d4"/>
<circle cx="92.6" cy="223.8" r="1.30" fill="#3fe1d3"/>
<circle cx="88.2" cy="227.6" r="1.30" fill="#3fe1d3"/>
<circle cx="92.2" cy="224.9" r="1.30" fill="#3fe2d2"/>
<circle cx="90.9" cy="225.4" r="1.30" fill="#40e2d1"/>
<circle cx="105.9" cy="210.8" r="1.30" fill="#40e2d0"/>
<circle cx="108.0" cy="209.0" r="1.30" fill="#40e2d0"/>
<circle cx="88.7" cy="227.3" r="1.30" fill="#40e2d0"/>
<circle cx="102.1" cy="215.6" r="1.30" fill="#40e3cf"/>
<circle cx="83.7" cy="232.3" r="1.30" fill="#40e3cf"/>
<circle cx="95.9" cy="220.6" r="1.30" fill="#41e3ce"/>
<circle cx="118.5" cy="198.9" r="1.30" fill="#41e3cd"/>
<circle cx="107.2" cy="209.1" r="1.30" fill="#41e4cd"/>
<circle cx="83.2" cy="233.0" r="1.30" fill="#41e4cc"/>
<circle cx="89.3" cy="227.1" r="1.30" fill="#42e5c9"/>
<circle cx="104.8" cy="212.2" r="1.30" fill="#42e5c9"/>
<circle cx="87.2" cy="230.1" r="1.30" fill="#43e5c8"/>
<circle cx="87.3" cy="230.4" r="1.30" fill="#43e6c7"/>
<circle cx="85.6" cy="230.6" r="1.30" fill="#43e6c7"/>
<circle cx="96.9" cy="220.2" r="1.30" fill="#43e6c7"/>
<circle cx="85.7" cy="232.9" r="1.30" fill="#43e6c6"/>
<circle cx="109.4" cy="207.9" r="1.30" fill="#43e6c6"/>
<circle cx="91.5" cy="224.8" r="1.30" fill="#43e6c6"/>
<circle cx="92.9" cy="224.1" r="1.30" fill="#44e7c4"/>
<circle cx="94.8" cy="222.7" r="1.30" fill="#44e7c4"/>
<circle cx="84.8" cy="231.4" r="1.30" fill="#44e7c4"/>
<circle cx="89.3" cy="228.0" r="1.30" fill="#44e7c3"/>
<circle cx="102.7" cy="214.3" r="1.30" fill="#44e7c3"/>
<circle cx="94.9" cy="221.9" r="1.30" fill="#45e8c2"/>
<circle cx="107.6" cy="209.7" r="1.30" fill="#45e8c2"/>
<circle cx="92.1" cy="224.4" r="1.30" fill="#46e9bf"/>
<circle cx="87.5" cy="230.0" r="1.30" fill="#46e9bf"/>
<circle cx="85.8" cy="230.8" r="1.30" fill="#46e9bf"/>
<circle cx="95.0" cy="222.7" r="1.30" fill="#46e9be"/>
<circle cx="88.2" cy="227.8" r="1.30" fill="#47eabc"/>
<circle cx="92.8" cy="224.6" r="1.30" fill="#47eabc"/>
<circle cx="99.1" cy="216.4" r="1.30" fill="#47eabc"/>
<circle cx="86.4" cy="230.8" r="1.30" fill="#47eabb"/>
<circle cx="84.4" cy="232.9" r="1.30" fill="#47ebbb"/>
<circle cx="86.2" cy="230.5" r="1.30" fill="#47ebba"/>
<circle cx="104.5" cy="211.6" r="1.30" fill="#47ebba"/>
<circle cx="91.5" cy="224.4" r="1.30" fill="#47ebba"/>
<circle cx="92.9" cy="224.7" r="1.30" fill="#48ebb9"/>
<circle cx="99.3" cy="217.6" r="1.30" fill="#48ebb9"/>
<circle cx="98.5" cy="219.0" r="1.30" fill="#48ebb9"/>
<circle cx="109.1" cy="206.7" r="1.30" fill="#48ecb8"/>
<circle cx="92.8" cy="224.5" r="1.30" fill="#48ecb7"/>
<circle cx="97.1" cy="218.7" r="1.30" fill="#49ecb6"/>
<circle cx="103.6" cy="213.4" r="1.30" fill="#49edb5"/>
<circle cx="105.7" cy="211.2" r="1.30" fill="#49edb4"/>
<circle cx="83.9" cy="233.7" r="1.30" fill="#49edb4"/>
<circle cx="91.2" cy="224.4" r="1.30" fill="#49edb4"/>
<circle cx="94.3" cy="222.0" r="1.30" fill="#49edb4"/>
<circle cx="97.7" cy="218.4" r="1.30" fill="#4aedb3"/>
<circle cx="84.5" cy="232.4" r="1.30" fill="#4aeeb3"/>
<circle cx="120.6" cy="196.0" r="1.30" fill="#4aeeb3"/>
<circle cx="95.1" cy="221.8" r="1.30" fill="#4aeeb1"/>
<circle cx="115.8" cy="200.5" r="1.30" fill="#4aeeb1"/>
<circle cx="86.5" cy="230.8" r="1.30" fill="#4aefb1"/>
<circle cx="94.6" cy="222.3" r="1.30" fill="#4befaf"/>
<circle cx="92.9" cy="223.9" r="1.30" fill="#4befaf"/>
<circle cx="85.2" cy="232.6" r="1.30" fill="#4bf0ae"/>
<circle cx="87.3" cy="230.2" r="1.30" fill="#4cf0ad"/>
<circle cx="83.6" cy="232.5" r="1.30" fill="#4cf0ad"/>
<circle cx="118.0" cy="198.2" r="1.30" fill="#4cf1ac"/>
<circle cx="97.1" cy="219.1" r="1.30" fill="#4cf1ab"/>
<circle cx="119.4" cy="198.0" r="1.30" fill="#4df1aa"/>
<circle cx="104.4" cy="211.5" r="1.30" fill="#4df1aa"/>
<circle cx="92.4" cy="222.9" r="1.30" fill="#4df1a9"/>
<circle cx="108.6" cy="207.8" r="1.30" fill="#4df2a9"/>
<circle cx="101.7" cy="215.2" r="1.30" fill="#4df2a9"/>
<circle cx="89.6" cy="226.7" r="1.30" fill="#4df2a8"/>
<circle cx="103.6" cy="213.3" r="1.30" fill="#4df2a8"/>
<circle cx="85.0" cy="231.5" r="1.30" fill="#4ef2a7"/>
<circle cx="108.1" cy="208.4" r="1.30" fill="#4ef2a7"/>
<circle cx="97.3" cy="220.0" r="1.30" fill="#4ef2a7"/>
<circle cx="97.8" cy="219.5" r="1.30" fill="#4ef2a6"/>
<circle cx="105.2" cy="211.5" r="1.30" fill="#4ef2a6"/>
<circle cx="85.0" cy="231.8" r="1.30" fill="#4ef3a6"/>
<circle cx="99.6" cy="216.6" r="1.30" fill="#4ef3a6"/>
<circle cx="104.2" cy="211.9" r="1.30" fill="#4ef3a6"/>
<circle cx="107.1" cy="209.8" r="1.30" fill="#4ef3a5"/>
<circle cx="91.9" cy="223.4" r="1.30" fill="#4ef3a5"/>
<circle cx="90.2" cy="225.5" r="1.30" fill="#4ff3a4"/>
<circle cx="90.2" cy="225.6" r="1.30" fill="#4ff4a4"/>
<circle cx="92.0" cy="223.5" r="1.30" fill="#4ff4a4"/>
<circle cx="101.4" cy="214.5" r="1.30" fill="#4ff4a3"/>
<circle cx="95.2" cy="222.9" r="1.30" fill="#4ff4a2"/>
<circle cx="107.0" cy="209.8" r="1.30" fill="#50f5a1"/>
<circle cx="86.9" cy="230.6" r="1.30" fill="#50f5a1"/>
<circle cx="92.5" cy="223.8" r="1.30" fill="#50f5a0"/>
<circle cx="93.6" cy="222.0" r="1.30" fill="#50f59f"/>
<circle cx="108.1" cy="208.3" r="1.30" fill="#51f59e"/>
<circle cx="98.4" cy="219.5" r="1.30" fill="#51f59e"/>
<circle cx="86.0" cy="230.8" r="1.30" fill="#51f59d"/>
<circle cx="104.3" cy="212.6" r="1.30" fill="#52f59d"/>
<circle cx="98.3" cy="219.0" r="1.30" fill="#52f59d"/>
<circle cx="96.5" cy="220.0" r="1.30" fill="#53f59b"/>
<circle cx="107.4" cy="209.3" r="1.30" fill="#53f59a"/>
<circle cx="93.5" cy="223.3" r="1.30" fill="#53f59a"/>
<circle cx="96.4" cy="219.0" r="1.30" fill="#54f59a"/>
<circle cx="98.2" cy="218.6" r="1.30" fill="#54f599"/>
<circle cx="95.4" cy="222.4" r="1.30" fill="#54f599"/>
<circle cx="92.9" cy="224.2" r="1.30" fill="#54f598"/>
<circle cx="111.7" cy="204.5" r="1.30" fill="#55f598"/>
<circle cx="92.6" cy="224.1" r="1.30" fill="#58f592"/>
<circle cx="90.2" cy="226.8" r="1.30" fill="#58f592"/>
<circle cx="105.9" cy="210.8" r="1.30" fill="#58f592"/>
<circle cx="89.0" cy="228.7" r="1.30" fill="#58f591"/>
<circle cx="93.3" cy="223.4" r="1.30" fill="#59f590"/>
<circle cx="90.0" cy="225.6" r="1.30" fill="#5af58d"/>
<circle cx="102.7" cy="213.3" r="1.30" fill="#5bf58d"/>
<circle cx="96.0" cy="219.7" r="1.30" fill="#5bf58d"/>
<circle cx="93.0" cy="223.4" r="1.30" fill="#5bf58d"/>
<circle cx="101.1" cy="215.8" r="1.30" fill="#5cf58b"/>
<circle cx="96.3" cy="221.0" r="1.30" fill="#5df589"/>
<circle cx="92.0" cy="225.0" r="1.30" fill="#5df589"/>
<circle cx="92.9" cy="224.1" r="1.30" fill="#5df589"/>
<circle cx="87.5" cy="229.8" r="1.30" fill="#5df588"/>
<circle cx="98.4" cy="218.7" r="1.30" fill="#5df588"/>
<circle cx="96.7" cy="219.8" r="1.30" fill="#5ef588"/>
<circle cx="88.3" cy="229.2" r="1.30" fill="#5ff586"/>
<circle cx="89.0" cy="227.6" r="1.30" fill="#5ff584"/>
<circle cx="91.7" cy="223.6" r="1.30" fill="#61f581"/>
<circle cx="83.5" cy="233.1" r="1.30" fill="#62f580"/>
<circle cx="99.9" cy="217.5" r="1.30" fill="#62f57f"/>
<circle cx="87.6" cy="230.8" r="1.30" fill="#62f57f"/>
<circle cx="91.8" cy="224.0" r="1.30" fill="#63f57e"/>
<circle cx="104.1" cy="212.7" r="1.30" fill="#63f57d"/>
<circle cx="84.2" cy="233.6" r="1.30" fill="#64f57c"/>
<circle cx="88.8" cy="227.2" r="1.30" fill="#65f57b"/>
<circle cx="92.0" cy="224.2" r="1.30" fill="#65f57a"/>
<circle cx="97.7" cy="218.9" r="1.30" fill="#65f57a"/>
<circle cx="94.3" cy="223.3" r="1.30" fill="#65f57a"/>
<circle cx="97.7" cy="219.7" r="1.30" fill="#65f57a"/>
<circle cx="98.0" cy="217.8" r="1.30" fill="#66f579"/>
<circle cx="92.4" cy="223.8" r="1.30" fill="#66f579"/>
<circle cx="99.1" cy="217.0" r="1.30" fill="#66f579"/>
<circle cx="92.5" cy="224.4" r="1.30" fill="#66f578"/>
<circle cx="113.8" cy="202.9" r="1.30" fill="#66f578"/>
<circle cx="105.8" cy="212.1" r="1.30" fill="#67f576"/>
<circle cx="87.3" cy="230.1" r="1.30" fill="#68f576"/>
<circle cx="91.0" cy="224.8" r="1.30" fill="#68f575"/>
<circle cx="95.9" cy="221.3" r="1.30" fill="#68f575"/>
<circle cx="87.4" cy="230.2" r="1.30" fill="#6af571"/>
<circle cx="112.9" cy="204.0" r="1.30" fill="#6bf570"/>
<circle cx="97.0" cy="219.7" r="1.30" fill="#6bf570"/>
<circle cx="83.5" cy="233.8" r="1.30" fill="#6cf56d"/>
<circle cx="94.8" cy="222.1" r="1.30" fill="#6df56d"/>
<circle cx="101.6" cy="215.3" r="1.30" fill="#6df56b"/>
<circle cx="118.7" cy="197.7" r="1.30" fill="#71f565"/>
<circle cx="91.5" cy="224.9" r="1.30" fill="#71f565"/>
<circle cx="96.8" cy="220.7" r="1.30" fill="#71f564"/>
<circle cx="86.4" cy="229.2" r="1.30" fill="#72f562"/>
<circle cx="94.9" cy="222.2" r="1.30" fill="#73f561"/>
<circle cx="111.3" cy="205.5" r="1.30" fill="#74f55e"/>
<circle cx="92.4" cy="224.1" r="1.30" fill="#75f55e"/>
<circle cx="104.4" cy="212.6" r="1.30" fill="#75f55e"/>
<circle cx="88.3" cy="227.9" r="1.30" fill="#75f55e"/>
<circle cx="108.9" cy="208.1" r="1.30" fill="#75f55d"/>
<circle cx="87.0" cy="229.8" r="1.30" fill="#75f55d"/>
<circle cx="86.7" cy="231.2" r="1.30" fill="#76f55c"/>
<circle cx="102.1" cy="214.7" r="1.30" fill="#76f55c"/>
<circle cx="91.8" cy="224.7" r="1.30" fill="#77f55a"/>
<circle cx="85.2" cy="231.2" r="1.30" fill="#78f558"/>
<circle cx="92.3" cy="224.8" r="1.30" fill="#79f557"/>
<circle cx="96.6" cy="219.0" r="1.30" fill="#79f556"/>
<circle cx="93.9" cy="222.8" r="1.30" fill="#7af555"/>
<circle cx="88.6" cy="228.8" r="1.30" fill="#7af555"/>
<circle cx="98.5" cy="218.6" r="1.30" fill="#7af555"/>
<circle cx="93.7" cy="222.0" r="1.30" fill="#7af554"/>
<circle cx="104.4" cy="212.2" r="1.30" fill="#7cf551"/>
<circle cx="94.6" cy="220.7" r="1.30" fill="#7df54f"/>
<circle cx="92.4" cy="223.8" r="1.30" fill="#7df54e"/>
<circle cx="92.4" cy="224.2" r="1.30" fill="#7df54e"/>
<circle cx="87.0" cy="229.4" r="1.30" fill="#7ff54c"/>
<circle cx="93.8" cy="223.7" r="1.30" fill="#7ff54c"/>
<circle cx="109.6" cy="207.8" r="1.30" fill="#7ff54b"/>
<circle cx="85.2" cy="232.3" r="1.30" fill="#81f548"/>
<circle cx="120.0" cy="197.4" r="1.30" fill="#82f547"/>
<circle cx="92.6" cy="224.4" r="1.30" fill="#82f546"/>
<circle cx="85.9" cy="231.8" r="1.30" fill="#84f546"/>
<circle cx="92.0" cy="224.4" r="1.30" fill="#85f546"/>
<circle cx="86.1" cy="232.4" r="1.30" fill="#87f545"/>
<circle cx="92.8" cy="224.0" r="1.30" fill="#87f545"/>
<circle cx="105.1" cy="210.9" r="1.30" fill="#88f545"/>
<circle cx="89.2" cy="227.8" r="1.30" fill="#88f545"/>
<circle cx="86.4" cy="231.1" r="1.30" fill="#8af545"/>
<circle cx="85.9" cy="231.4" r="1.30" fill="#8bf545"/>
<circle cx="108.3" cy="209.1" r="1.30" fill="#8bf545"/>
<circle cx="87.0" cy="230.6" r="1.30" fill="#8cf545"/>
<circle cx="89.6" cy="228.0" r="1.30" fill="#90f544"/>
<circle cx="103.4" cy="213.6" r="1.30" fill="#91f544"/>
<circle cx="101.9" cy="215.6" r="1.30" fill="#93f544"/>
<circle cx="91.5" cy="224.8" r="1.30" fill="#94f544"/>
<circle cx="90.8" cy="224.4" r="1.30" fill="#9bf543"/>
<circle cx="94.1" cy="223.0" r="1.30" fill="#9ef543"/>
<circle cx="92.5" cy="224.2" r="1.30" fill="#9ff543"/>
<circle cx="91.9" cy="224.7" r="1.30" fill="#a0f543"/>
<circle cx="92.6" cy="224.9" r="1.30" fill="#a0f543"/>
<circle cx="97.1" cy="220.1" r="1.30" fill="#a1f543"/>
<circle cx="86.4" cy="230.4" r="1.30" fill="#a2f542"/>
<circle cx="96.8" cy="219.9" r="1.30" fill="#a3f542"/>
<circle cx="91.1" cy="225.2" r="1.30" fill="#a4f542"/>
<circle cx="85.6" cy="232.1" r="1.30" fill="#a6f542"/>
<circle cx="85.4" cy="231.3" r="1.30" fill="#abf541"/>
<circle cx="93.3" cy="223.5" r="1.30" fill="#acf541"/>
<circle cx="107.3" cy="209.4" r="1.30" fill="#aff541"/>
<circle cx="94.8" cy="221.9" r="1.30" fill="#aff541"/>
<circle cx="94.0" cy="222.9" r="1.30" fill="#b5f540"/>
<circle cx="89.5" cy="227.2" r="1.30" fill="#b5f540"/>
<circle cx="101.1" cy="214.6" r="1.30" fill="#b7f540"/>
<circle cx="92.3" cy="223.9" r="1.30" fill="#b9f540"/>
<circle cx="95.5" cy="222.0" r="1.30" fill="#b9f540"/>
<circle cx="104.8" cy="211.9" r="1.30" fill="#b9f540"/>
<circle cx="104.5" cy="212.6" r="1.30" fill="#bcf540"/>
<circle cx="97.9" cy="217.8" r="1.30" fill="#bef53f"/>
<circle cx="101.0" cy="215.9" r="1.30" fill="#c0f53f"/>
<circle cx="108.8" cy="206.8" r="1.30" fill="#c4f53f"/>
<circle cx="92.8" cy="223.4" r="1.30" fill="#c6f53e"/>
<circle cx="92.8" cy="224.8" r="1.30" fill="#c6f53e"/>
<circle cx="89.3" cy="228.1" r="1.30" fill="#c6f53e"/>
<circle cx="92.4" cy="224.0" r="1.30" fill="#c6f53e"/>
<circle cx="92.4" cy="224.3" r="1.30" fill="#c6f53e"/>
<circle cx="93.3" cy="223.9" r="1.30" fill="#c6f53e"/>
<circle cx="88.2" cy="229.2" r="1.30" fill="#c6f53e"/>
<circle cx="92.8" cy="224.0" r="1.30" fill="#c6f53e"/>
<circle cx="87.9" cy="229.4" r="1.30" fill="#c6f53e"/>
<circle cx="96.7" cy="220.6" r="1.30" fill="#c6f53e"/>
<circle cx="93.7" cy="223.2" r="1.30" fill="#c6f53e"/>
<circle cx="86.7" cy="229.7" r="1.30" fill="#c6f53e"/>
<circle cx="107.4" cy="209.3" r="1.30" fill="#c6f53e"/>
<circle cx="102.2" cy="214.8" r="1.30" fill="#c6f53e"/>
<circle cx="93.7" cy="223.2" r="1.30" fill="#c6f53e"/>
<circle cx="86.2" cy="230.2" r="1.30" fill="#c6f53e"/>
<circle cx="98.1" cy="219.4" r="1.30" fill="#c6f53e"/>
<circle cx="92.4" cy="224.4" r="1.30" fill="#c6f53e"/>
<circle cx="84.4" cy="233.3" r="1.30" fill="#c6f53e"/>
<circle cx="87.9" cy="229.5" r="1.30" fill="#c6f53e"/>
<circle cx="94.2" cy="222.8" r="1.30" fill="#c6f53e"/>
<circle cx="92.0" cy="224.8" r="1.30" fill="#c6f53e"/>
<circle cx="97.5" cy="219.6" r="1.30" fill="#c6f53e"/>
<circle cx="109.1" cy="207.9" r="1.30" fill="#c6f53e"/>
<circle cx="85.7" cy="230.9" r="1.30" fill="#c6f53e"/>
<circle cx="94.5" cy="223.0" r="1.30" fill="#c6f53e"/>
<circle cx="107.8" cy="209.1" r="1.30" fill="#c6f53e"/>
<circle cx="104.2" cy="212.8" r="1.30" fill="#c6f53e"/>
<circle cx="102.1" cy="214.8" r="1.30" fill="#c6f53e"/>
<circle cx="102.4" cy="214.6" r="1.30" fill="#c6f53e"/>
<circle cx="100.5" cy="215.4" r="1.30" fill="#c6f53e"/>
<circle cx="92.7" cy="224.1" r="1.30" fill="#c6f53e"/>
<circle cx="93.0" cy="223.7" r="1.30" fill="#c6f53e"/>
<circle cx="93.2" cy="224.1" r="1.30" fill="#f0663f"/>
<circle cx="92.4" cy="223.8" r="1.30" fill="#f05a42"/>
<circle cx="92.3" cy="224.2" r="1.30" fill="#ed4546"/>
<circle cx="92.6" cy="223.9" r="1.30" fill="#e84346"/>
<circle cx="93.4" cy="223.4" r="1.30" fill="#e44146"/>
</g>
<line x1="39.80" y1="279.30" x2="300.30" y2="10.40" stroke="#7c7c7c" stroke-width="1.15"/>
<path d="M39.5 10.5H300.5V279.0" fill="none" stroke="#111" stroke-width="1.05"/>
<path d="M39.5 10.0V279.6" fill="none" stroke="#111" stroke-width="1.5"/>
<path d="M38.8 279.2H300.5" fill="none" stroke="#111" stroke-width="1.4"/>
<text x="39.5" y="292.3" text-anchor="middle">40</text>
<text x="35.3" y="282.6" text-anchor="end">40</text>
<line x1="82.9" y1="279.0" x2="82.9" y2="275.0" stroke="#111" stroke-width="1.3"/>
<line x1="39.5" y1="234.2" x2="43.5" y2="234.2" stroke="#111" stroke-width="1.3"/>
<text x="82.9" y="292.3" text-anchor="middle">60</text>
<text x="35.3" y="237.8" text-anchor="end">60</text>
<line x1="126.3" y1="279.0" x2="126.3" y2="275.0" stroke="#111" stroke-width="1.3"/>
<line x1="39.5" y1="189.3" x2="43.5" y2="189.3" stroke="#111" stroke-width="1.3"/>
<text x="126.3" y="292.3" text-anchor="middle">80</text>
<text x="35.3" y="193.0" text-anchor="end">80</text>
<line x1="169.8" y1="279.0" x2="169.8" y2="275.0" stroke="#111" stroke-width="1.3"/>
<line x1="39.5" y1="144.5" x2="43.5" y2="144.5" stroke="#111" stroke-width="1.3"/>
<text x="169.8" y="292.3" text-anchor="middle">100</text>
<text x="35.3" y="148.2" text-anchor="end">100</text>
<line x1="213.2" y1="279.0" x2="213.2" y2="275.0" stroke="#111" stroke-width="1.3"/>
<line x1="39.5" y1="99.7" x2="43.5" y2="99.7" stroke="#111" stroke-width="1.3"/>
<text x="213.2" y="292.3" text-anchor="middle">120</text>
<text x="35.3" y="103.3" text-anchor="end">120</text>
<line x1="256.6" y1="279.0" x2="256.6" y2="275.0" stroke="#111" stroke-width="1.3"/>
<line x1="39.5" y1="54.8" x2="43.5" y2="54.8" stroke="#111" stroke-width="1.3"/>
<text x="256.6" y="292.3" text-anchor="middle">140</text>
<text x="35.3" y="58.5" text-anchor="end">140</text>
<text x="300.0" y="292.3" text-anchor="middle">160</text>
<text x="35.3" y="13.7" text-anchor="end">160</text>
<text x="169.8" y="310.5" text-anchor="middle">BCG from fiber optic sensor (bpm)</text>
<text transform="translate(11.9,144.2) rotate(-90)" text-anchor="middle">Reference ECG (bpm)</text>
<text class="b" x="61.5" y="35.7">R = 0.98</text>
<text class="b" x="61.5" y="51.8">RMSE = 1.86</text>
<text class="b" x="61.5" y="67.5">MAE = 1.11</text>
<text class="b" x="0.3" y="6.7">a</text>
<rect x="310.5" y="10" width="9.4" height="268.6" fill="url(#cg)" stroke="#111" stroke-width="1"/>
<text x="326.8" y="282.5">0.0</text>
<text x="326.8" y="228.7">0.2</text>
<text x="326.8" y="174.9">0.4</text>
<text x="326.8" y="121.1">0.6</text>
<text x="326.8" y="67.3">0.8</text>
<text x="326.8" y="13.5">1.0</text>
<text transform="translate(347,144.2) rotate(-90)" text-anchor="middle">Density</text>
<text class="b" x="361" y="9.8">b</text>
<g class="r" fill="#808080" stroke="#2a2a2a" stroke-width="0.6">
<circle cx="483.5" cy="148.4" r="1.0"/>
<circle cx="469.2" cy="145.8" r="1.0"/>
<circle cx="512.5" cy="141.9" r="1.0"/>
<circle cx="479.9" cy="150.2" r="1.0"/>
<circle cx="517.6" cy="147.9" r="1.0"/>
<circle cx="500.6" cy="141.9" r="1.0"/>
<circle cx="483.5" cy="147.4" r="1.0"/>
<circle cx="468.5" cy="155.7" r="1.0"/>
<circle cx="498.1" cy="147.2" r="1.0"/>
<circle cx="538.2" cy="130.5" r="1.0"/>
<circle cx="528.4" cy="144.7" r="1.0"/>
<circle cx="550.6" cy="118.6" r="1.0"/>
<circle cx="468.2" cy="144.9" r="1.0"/>
<circle cx="466.6" cy="147.9" r="1.0"/>
<circle cx="467.1" cy="144.3" r="1.0"/>
<circle cx="472.2" cy="149.3" r="1.0"/>
<circle cx="543.7" cy="110.2" r="1.0"/>
<circle cx="507.9" cy="144.9" r="1.0"/>
<circle cx="471.8" cy="147.8" r="1.0"/>
<circle cx="479.0" cy="144.9" r="1.0"/>
<circle cx="558.3" cy="97.6" r="1.0"/>
<circle cx="467.3" cy="147.4" r="1.0"/>
<circle cx="475.4" cy="147.3" r="1.0"/>
<circle cx="467.1" cy="156.1" r="1.0"/>
<circle cx="518.5" cy="129.2" r="1.0"/>
<circle cx="480.2" cy="144.2" r="1.0"/>
<circle cx="505.8" cy="150.0" r="1.0"/>
<circle cx="480.7" cy="149.7" r="1.0"/>
<circle cx="475.0" cy="151.3" r="1.0"/>
<circle cx="484.7" cy="148.0" r="1.0"/>
<circle cx="467.3" cy="149.6" r="1.0"/>
<circle cx="468.4" cy="144.5" r="1.0"/>
<circle cx="520.2" cy="133.2" r="1.0"/>
<circle cx="493.4" cy="150.7" r="1.0"/>
<circle cx="492.3" cy="142.8" r="1.0"/>
<circle cx="477.9" cy="151.0" r="1.0"/>
<circle cx="490.2" cy="144.5" r="1.0"/>
<circle cx="545.8" cy="144.9" r="1.0"/>
<circle cx="472.3" cy="144.3" r="1.0"/>
<circle cx="484.4" cy="145.0" r="1.0"/>
<circle cx="548.2" cy="155.3" r="1.0"/>
<circle cx="491.5" cy="139.6" r="1.0"/>
<circle cx="491.1" cy="151.5" r="1.0"/>
<circle cx="501.0" cy="147.6" r="1.0"/>
<circle cx="542.9" cy="124.8" r="1.0"/>
<circle cx="494.6" cy="148.9" r="1.0"/>
<circle cx="475.7" cy="147.8" r="1.0"/>
<circle cx="492.7" cy="138.1" r="1.0"/>
<circle cx="482.9" cy="150.4" r="1.0"/>
<circle cx="503.1" cy="141.9" r="1.0"/>
<circle cx="546.9" cy="154.8" r="1.0"/>
<circle cx="477.8" cy="146.0" r="1.0"/>
<circle cx="472.4" cy="141.6" r="1.0"/>
<circle cx="468.3" cy="146.6" r="1.0"/>
<circle cx="481.6" cy="147.4" r="1.0"/>
<circle cx="534.7" cy="145.1" r="1.0"/>
<circle cx="484.7" cy="142.9" r="1.0"/>
<circle cx="534.2" cy="139.3" r="1.0"/>
<circle cx="501.8" cy="129.3" r="1.0"/>
<circle cx="496.2" cy="146.3" r="1.0"/>
<circle cx="467.8" cy="144.3" r="1.0"/>
<circle cx="514.9" cy="136.0" r="1.0"/>
<circle cx="548.3" cy="147.1" r="1.0"/>
<circle cx="499.9" cy="156.1" r="1.0"/>
<circle cx="515.2" cy="143.1" r="1.0"/>
<circle cx="508.5" cy="135.5" r="1.0"/>
<circle cx="528.9" cy="125.8" r="1.0"/>
<circle cx="496.0" cy="152.8" r="1.0"/>
<circle cx="506.8" cy="147.3" r="1.0"/>
<circle cx="523.4" cy="140.8" r="1.0"/>
<circle cx="480.3" cy="151.3" r="1.0"/>
<circle cx="494.3" cy="136.9" r="1.0"/>
<circle cx="486.9" cy="141.8" r="1.0"/>
<circle cx="515.4" cy="132.8" r="1.0"/>
<circle cx="526.0" cy="152.0" r="1.0"/>
<circle cx="474.5" cy="139.7" r="1.0"/>
<circle cx="471.3" cy="140.2" r="1.0"/>
<circle cx="486.4" cy="142.9" r="1.0"/>
<circle cx="479.4" cy="143.6" r="1.0"/>
<circle cx="470.3" cy="145.8" r="1.0"/>
<circle cx="519.9" cy="130.9" r="1.0"/>
<circle cx="567.2" cy="76.0" r="1.0"/>
<circle cx="505.0" cy="140.0" r="1.0"/>
<circle cx="511.5" cy="149.0" r="1.0"/>
<circle cx="468.6" cy="143.3" r="1.0"/>
<circle cx="469.6" cy="138.4" r="1.0"/>
<circle cx="470.0" cy="151.3" r="1.0"/>
<circle cx="562.1" cy="98.9" r="1.0"/>
<circle cx="475.2" cy="147.5" r="1.0"/>
<circle cx="478.8" cy="141.2" r="1.0"/>
<circle cx="484.6" cy="146.0" r="1.0"/>
<circle cx="532.0" cy="131.8" r="1.0"/>
<circle cx="485.1" cy="155.9" r="1.0"/>
<circle cx="515.2" cy="141.3" r="1.0"/>
<circle cx="495.7" cy="135.4" r="1.0"/>
<circle cx="466.8" cy="146.1" r="1.0"/>
<circle cx="469.5" cy="152.9" r="1.0"/>
<circle cx="479.4" cy="152.1" r="1.0"/>
<circle cx="514.5" cy="138.4" r="1.0"/>
<circle cx="487.6" cy="137.6" r="1.0"/>
<circle cx="486.0" cy="141.9" r="1.0"/>
<circle cx="506.9" cy="139.8" r="1.0"/>
<circle cx="483.2" cy="148.5" r="1.0"/>
<circle cx="491.5" cy="152.5" r="1.0"/>
<circle cx="515.3" cy="146.4" r="1.0"/>
<circle cx="480.8" cy="152.5" r="1.0"/>
<circle cx="487.4" cy="139.6" r="1.0"/>
<circle cx="530.5" cy="117.4" r="1.0"/>
<circle cx="475.5" cy="147.8" r="1.0"/>
<circle cx="581.1" cy="91.3" r="1.0"/>
<circle cx="553.2" cy="115.0" r="1.0"/>
<circle cx="481.7" cy="144.9" r="1.0"/>
<circle cx="535.9" cy="134.5" r="1.0"/>
<circle cx="474.8" cy="146.4" r="1.0"/>
<circle cx="528.3" cy="128.5" r="1.0"/>
<circle cx="486.1" cy="145.2" r="1.0"/>
<circle cx="469.8" cy="144.5" r="1.0"/>
<circle cx="475.4" cy="151.9" r="1.0"/>
<circle cx="468.9" cy="147.1" r="1.0"/>
<circle cx="521.2" cy="127.3" r="1.0"/>
<circle cx="477.1" cy="149.7" r="1.0"/>
<circle cx="542.6" cy="147.7" r="1.0"/>
<circle cx="518.1" cy="135.0" r="1.0"/>
<circle cx="513.5" cy="134.8" r="1.0"/>
<circle cx="475.2" cy="153.2" r="1.0"/>
<circle cx="484.7" cy="141.9" r="1.0"/>
<circle cx="506.2" cy="142.3" r="1.0"/>
<circle cx="534.4" cy="137.1" r="1.0"/>
<circle cx="493.9" cy="130.6" r="1.0"/>
<circle cx="547.4" cy="107.7" r="1.0"/>
<circle cx="472.7" cy="148.8" r="1.0"/>
<circle cx="512.3" cy="136.9" r="1.0"/>
<circle cx="475.9" cy="144.3" r="1.0"/>
<circle cx="558.5" cy="164.4" r="1.0"/>
<circle cx="466.6" cy="145.9" r="1.0"/>
<circle cx="474.7" cy="147.1" r="1.0"/>
<circle cx="468.8" cy="145.2" r="1.0"/>
<circle cx="477.7" cy="140.9" r="1.0"/>
<circle cx="535.2" cy="138.7" r="1.0"/>
<circle cx="493.2" cy="138.9" r="1.0"/>
<circle cx="526.9" cy="128.4" r="1.0"/>
<circle cx="467.3" cy="146.5" r="1.0"/>
<circle cx="530.9" cy="126.1" r="1.0"/>
<circle cx="473.7" cy="150.0" r="1.0"/>
<circle cx="473.2" cy="157.1" r="1.0"/>
<circle cx="466.7" cy="144.6" r="1.0"/>
<circle cx="476.4" cy="147.8" r="1.0"/>
<circle cx="469.3" cy="150.7" r="1.0"/>
<circle cx="484.0" cy="145.0" r="1.0"/>
<circle cx="487.8" cy="142.5" r="1.0"/>
<circle cx="507.9" cy="138.2" r="1.0"/>
<circle cx="488.2" cy="151.8" r="1.0"/>
<circle cx="495.5" cy="140.0" r="1.0"/>
<circle cx="496.3" cy="149.1" r="1.0"/>
<circle cx="506.7" cy="148.8" r="1.0"/>
<circle cx="485.1" cy="142.0" r="1.0"/>
<circle cx="543.1" cy="112.8" r="1.0"/>
<circle cx="550.7" cy="133.3" r="1.0"/>
<circle cx="495.0" cy="145.5" r="1.0"/>
<circle cx="504.5" cy="150.6" r="1.0"/>
<circle cx="466.9" cy="144.9" r="1.0"/>
<circle cx="490.3" cy="145.6" r="1.0"/>
<circle cx="520.5" cy="129.2" r="1.0"/>
<circle cx="475.7" cy="145.4" r="1.0"/>
<circle cx="469.9" cy="150.9" r="1.0"/>
<circle cx="496.8" cy="141.9" r="1.0"/>
<circle cx="485.8" cy="145.0" r="1.0"/>
<circle cx="479.9" cy="149.3" r="1.0"/>
<circle cx="487.7" cy="147.5" r="1.0"/>
<circle cx="481.7" cy="148.6" r="1.0"/>
<circle cx="480.7" cy="149.2" r="1.0"/>
<circle cx="473.5" cy="150.5" r="1.0"/>
<circle cx="477.3" cy="144.9" r="1.0"/>
<circle cx="490.0" cy="143.2" r="1.0"/>
<circle cx="536.1" cy="146.3" r="1.0"/>
<circle cx="501.9" cy="145.0" r="1.0"/>
<circle cx="490.0" cy="143.9" r="1.0"/>
<circle cx="542.0" cy="131.7" r="1.0"/>
<circle cx="506.2" cy="149.7" r="1.0"/>
<circle cx="507.4" cy="141.1" r="1.0"/>
<circle cx="517.6" cy="133.5" r="1.0"/>
<circle cx="522.0" cy="139.5" r="1.0"/>
<circle cx="489.9" cy="145.5" r="1.0"/>
<circle cx="522.2" cy="139.3" r="1.0"/>
<circle cx="492.8" cy="142.1" r="1.0"/>
<circle cx="516.9" cy="139.9" r="1.0"/>
<circle cx="533.9" cy="138.3" r="1.0"/>
<circle cx="489.5" cy="142.2" r="1.0"/>
<circle cx="550.3" cy="182.2" r="1.0"/>
<circle cx="481.2" cy="145.8" r="1.0"/>
<circle cx="576.1" cy="201.4" r="1.0"/>
<circle cx="467.5" cy="145.9" r="1.0"/>
<circle cx="471.3" cy="156.3" r="1.0"/>
<circle cx="469.6" cy="146.1" r="1.0"/>
<circle cx="523.7" cy="142.7" r="1.0"/>
<circle cx="509.6" cy="141.7" r="1.0"/>
<circle cx="477.0" cy="149.9" r="1.0"/>
<circle cx="472.0" cy="153.0" r="1.0"/>
<circle cx="513.5" cy="146.0" r="1.0"/>
<circle cx="519.8" cy="133.5" r="1.0"/>
<circle cx="523.6" cy="137.4" r="1.0"/>
<circle cx="468.7" cy="142.1" r="1.0"/>
<circle cx="516.9" cy="143.4" r="1.0"/>
<circle cx="487.8" cy="146.8" r="1.0"/>
<circle cx="519.2" cy="136.7" r="1.0"/>
<circle cx="500.2" cy="133.9" r="1.0"/>
<circle cx="489.8" cy="146.5" r="1.0"/>
<circle cx="490.5" cy="153.1" r="1.0"/>
<circle cx="484.1" cy="142.3" r="1.0"/>
<circle cx="515.1" cy="136.0" r="1.0"/>
<circle cx="521.0" cy="129.0" r="1.0"/>
<circle cx="551.6" cy="144.1" r="1.0"/>
<circle cx="476.8" cy="153.8" r="1.0"/>
<circle cx="522.5" cy="157.4" r="1.0"/>
<circle cx="475.2" cy="143.6" r="1.0"/>
<circle cx="470.5" cy="143.2" r="1.0"/>
<circle cx="479.3" cy="147.2" r="1.0"/>
<circle cx="508.6" cy="153.7" r="1.0"/>
<circle cx="500.9" cy="138.9" r="1.0"/>
<circle cx="469.6" cy="142.0" r="1.0"/>
<circle cx="469.5" cy="145.8" r="1.0"/>
<circle cx="476.0" cy="148.5" r="1.0"/>
<circle cx="564.0" cy="104.0" r="1.0"/>
<circle cx="507.2" cy="151.5" r="1.0"/>
<circle cx="518.3" cy="134.3" r="1.0"/>
<circle cx="479.5" cy="144.4" r="1.0"/>
<circle cx="495.4" cy="144.3" r="1.0"/>
<circle cx="492.6" cy="147.5" r="1.0"/>
<circle cx="502.7" cy="140.2" r="1.0"/>
<circle cx="482.1" cy="143.4" r="1.0"/>
<circle cx="543.9" cy="138.1" r="1.0"/>
<circle cx="474.5" cy="151.7" r="1.0"/>
<circle cx="525.7" cy="134.5" r="1.0"/>
<circle cx="511.9" cy="127.9" r="1.0"/>
<circle cx="494.7" cy="144.6" r="1.0"/>
<circle cx="488.3" cy="140.6" r="1.0"/>
<circle cx="514.3" cy="146.0" r="1.0"/>
<circle cx="517.3" cy="134.9" r="1.0"/>
<circle cx="501.7" cy="136.1" r="1.0"/>
<circle cx="503.6" cy="137.3" r="1.0"/>
<circle cx="480.2" cy="144.1" r="1.0"/>
<circle cx="477.4" cy="143.1" r="1.0"/>
<circle cx="516.5" cy="135.4" r="1.0"/>
<circle cx="498.4" cy="145.0" r="1.0"/>
<circle cx="551.1" cy="128.3" r="1.0"/>
<circle cx="503.9" cy="140.8" r="1.0"/>
<circle cx="491.9" cy="137.7" r="1.0"/>
<circle cx="476.9" cy="145.0" r="1.0"/>
<circle cx="542.9" cy="122.0" r="1.0"/>
<circle cx="473.4" cy="144.1" r="1.0"/>
<circle cx="513.6" cy="146.5" r="1.0"/>
<circle cx="468.4" cy="148.8" r="1.0"/>
<circle cx="525.2" cy="141.6" r="1.0"/>
<circle cx="527.1" cy="128.1" r="1.0"/>
<circle cx="501.9" cy="141.0" r="1.0"/>
<circle cx="476.3" cy="144.0" r="1.0"/>
<circle cx="469.7" cy="147.0" r="1.0"/>
<circle cx="489.3" cy="153.4" r="1.0"/>
<circle cx="493.0" cy="142.5" r="1.0"/>
<circle cx="484.7" cy="152.0" r="1.0"/>
<circle cx="482.9" cy="139.7" r="1.0"/>
<circle cx="472.9" cy="148.4" r="1.0"/>
<circle cx="525.4" cy="133.2" r="1.0"/>
<circle cx="474.3" cy="146.3" r="1.0"/>
<circle cx="541.9" cy="104.7" r="1.0"/>
<circle cx="474.9" cy="147.5" r="1.0"/>
<circle cx="511.3" cy="154.5" r="1.0"/>
<circle cx="473.0" cy="152.0" r="1.0"/>
<circle cx="477.7" cy="150.7" r="1.0"/>
<circle cx="475.6" cy="148.4" r="1.0"/>
<circle cx="527.9" cy="132.4" r="1.0"/>
<circle cx="487.1" cy="144.3" r="1.0"/>
<circle cx="481.5" cy="146.1" r="1.0"/>
<circle cx="490.4" cy="143.2" r="1.0"/>
<circle cx="521.0" cy="147.1" r="1.0"/>
<circle cx="475.1" cy="151.6" r="1.0"/>
<circle cx="507.8" cy="147.1" r="1.0"/>
<circle cx="518.3" cy="137.9" r="1.0"/>
<circle cx="489.3" cy="144.9" r="1.0"/>
<circle cx="525.5" cy="135.8" r="1.0"/>
<circle cx="483.8" cy="146.7" r="1.0"/>
<circle cx="467.4" cy="140.8" r="1.0"/>
<circle cx="509.9" cy="137.2" r="1.0"/>
<circle cx="488.8" cy="142.6" r="1.0"/>
<circle cx="522.0" cy="135.5" r="1.0"/>
<circle cx="472.8" cy="155.5" r="1.0"/>
<circle cx="472.1" cy="147.6" r="1.0"/>
<circle cx="511.2" cy="162.6" r="1.0"/>
<circle cx="528.2" cy="128.1" r="1.0"/>
<circle cx="510.3" cy="138.8" r="1.0"/>
<circle cx="499.2" cy="134.7" r="1.0"/>
<circle cx="533.0" cy="129.8" r="1.0"/>
<circle cx="474.7" cy="148.0" r="1.0"/>
<circle cx="504.5" cy="147.1" r="1.0"/>
<circle cx="546.4" cy="127.0" r="1.0"/>
<circle cx="488.4" cy="136.2" r="1.0"/>
<circle cx="564.6" cy="102.0" r="1.0"/>
<circle cx="513.9" cy="128.7" r="1.0"/>
<circle cx="484.8" cy="146.5" r="1.0"/>
<circle cx="483.0" cy="138.4" r="1.0"/>
<circle cx="508.5" cy="139.8" r="1.0"/>
<circle cx="499.7" cy="145.2" r="1.0"/>
<circle cx="497.1" cy="144.6" r="1.0"/>
<circle cx="478.2" cy="142.4" r="1.0"/>
<circle cx="515.1" cy="146.5" r="1.0"/>
<circle cx="480.3" cy="142.1" r="1.0"/>
<circle cx="489.7" cy="143.4" r="1.0"/>
<circle cx="521.2" cy="143.5" r="1.0"/>
<circle cx="468.5" cy="141.8" r="1.0"/>
<circle cx="541.4" cy="147.0" r="1.0"/>
<circle cx="479.7" cy="149.0" r="1.0"/>
<circle cx="506.3" cy="146.1" r="1.0"/>
<circle cx="544.3" cy="157.2" r="1.0"/>
<circle cx="476.0" cy="146.7" r="1.0"/>
<circle cx="517.3" cy="127.6" r="1.0"/>
<circle cx="475.0" cy="143.9" r="1.0"/>
<circle cx="574.1" cy="85.0" r="1.0"/>
<circle cx="528.5" cy="124.3" r="1.0"/>
<circle cx="497.2" cy="145.5" r="1.0"/>
<circle cx="506.6" cy="153.3" r="1.0"/>
<circle cx="486.0" cy="141.1" r="1.0"/>
<circle cx="555.9" cy="117.2" r="1.0"/>
<circle cx="485.3" cy="150.0" r="1.0"/>
<circle cx="475.6" cy="146.3" r="1.0"/>
<circle cx="542.9" cy="107.8" r="1.0"/>
<circle cx="495.5" cy="157.6" r="1.0"/>
<circle cx="467.5" cy="149.6" r="1.0"/>
<circle cx="485.5" cy="150.1" r="1.0"/>
<circle cx="477.2" cy="145.5" r="1.0"/>
<circle cx="526.6" cy="144.6" r="1.0"/>
<circle cx="548.3" cy="134.2" r="1.0"/>
<circle cx="471.2" cy="139.1" r="1.0"/>
<circle cx="491.5" cy="149.6" r="1.0"/>
<circle cx="507.0" cy="149.5" r="1.0"/>
<circle cx="585.3" cy="107.7" r="1.0"/>
<circle cx="475.7" cy="145.4" r="1.0"/>
<circle cx="474.4" cy="148.6" r="1.0"/>
<circle cx="472.6" cy="147.7" r="1.0"/>
<circle cx="527.2" cy="138.7" r="1.0"/>
<circle cx="527.1" cy="140.8" r="1.0"/>
<circle cx="519.2" cy="140.1" r="1.0"/>
<circle cx="506.4" cy="150.3" r="1.0"/>
<circle cx="470.9" cy="151.3" r="1.0"/>
<circle cx="522.9" cy="139.2" r="1.0"/>
<circle cx="520.5" cy="140.1" r="1.0"/>
<circle cx="480.9" cy="144.8" r="1.0"/>
<circle cx="513.8" cy="149.3" r="1.0"/>
<circle cx="494.8" cy="144.4" r="1.0"/>
<circle cx="474.6" cy="148.2" r="1.0"/>
<circle cx="466.5" cy="146.5" r="1.0"/>
<circle cx="480.9" cy="155.8" r="1.0"/>
<circle cx="487.0" cy="144.5" r="1.0"/>
<circle cx="483.8" cy="143.1" r="1.0"/>
<circle cx="496.1" cy="146.3" r="1.0"/>
<circle cx="504.5" cy="139.2" r="1.0"/>
<circle cx="496.7" cy="144.9" r="1.0"/>
<circle cx="507.4" cy="151.1" r="1.0"/>
<circle cx="490.3" cy="142.4" r="1.0"/>
<circle cx="472.0" cy="144.0" r="1.0"/>
<circle cx="501.6" cy="147.8" r="1.0"/>
<circle cx="471.4" cy="149.0" r="1.0"/>
<circle cx="484.4" cy="147.2" r="1.0"/>
<circle cx="470.2" cy="145.4" r="1.0"/>
<circle cx="500.1" cy="147.0" r="1.0"/>
<circle cx="486.1" cy="137.1" r="1.0"/>
<circle cx="494.5" cy="142.4" r="1.0"/>
<circle cx="486.9" cy="147.6" r="1.0"/>
<circle cx="501.2" cy="134.4" r="1.0"/>
<circle cx="468.9" cy="149.4" r="1.0"/>
<circle cx="494.2" cy="140.8" r="1.0"/>
<circle cx="468.1" cy="144.7" r="1.0"/>
<circle cx="489.7" cy="136.6" r="1.0"/>
<circle cx="546.0" cy="162.8" r="1.0"/>
<circle cx="477.7" cy="146.3" r="1.0"/>
<circle cx="485.8" cy="148.5" r="1.0"/>
<circle cx="495.1" cy="145.2" r="1.0"/>
<circle cx="484.8" cy="148.2" r="1.0"/>
<circle cx="528.6" cy="146.3" r="1.0"/>
<circle cx="491.5" cy="146.9" r="1.0"/>
<circle cx="484.1" cy="144.9" r="1.0"/>
<circle cx="467.7" cy="147.1" r="1.0"/>
<circle cx="499.1" cy="149.0" r="1.0"/>
<circle cx="482.9" cy="143.9" r="1.0"/>
<circle cx="498.1" cy="133.6" r="1.0"/>
<circle cx="507.1" cy="145.6" r="1.0"/>
<circle cx="528.3" cy="132.3" r="1.0"/>
<circle cx="524.8" cy="128.5" r="1.0"/>
<circle cx="475.4" cy="146.8" r="1.0"/>
<circle cx="468.7" cy="141.6" r="1.0"/>
<circle cx="504.3" cy="147.1" r="1.0"/>
<circle cx="543.4" cy="122.8" r="1.0"/>
<circle cx="478.3" cy="146.9" r="1.0"/>
<circle cx="475.3" cy="144.4" r="1.0"/>
<circle cx="489.0" cy="148.9" r="1.0"/>
<circle cx="507.6" cy="135.1" r="1.0"/>
<circle cx="496.1" cy="151.4" r="1.0"/>
<circle cx="473.6" cy="142.1" r="1.0"/>
<circle cx="488.5" cy="140.8" r="1.0"/>
<circle cx="504.4" cy="130.2" r="1.0"/>
<circle cx="517.1" cy="139.4" r="1.0"/>
<circle cx="506.2" cy="152.7" r="1.0"/>
<circle cx="475.4" cy="145.6" r="1.0"/>
<circle cx="534.9" cy="135.4" r="1.0"/>
<circle cx="553.2" cy="150.7" r="1.0"/>
<circle cx="486.3" cy="155.1" r="1.0"/>
<circle cx="515.4" cy="146.1" r="1.0"/>
<circle cx="479.5" cy="138.7" r="1.0"/>
<circle cx="479.6" cy="149.0" r="1.0"/>
<circle cx="502.6" cy="143.0" r="1.0"/>
<circle cx="480.4" cy="147.1" r="1.0"/>
<circle cx="488.5" cy="143.1" r="1.0"/>
<circle cx="522.8" cy="127.9" r="1.0"/>
<circle cx="521.5" cy="136.5" r="1.0"/>
<circle cx="512.8" cy="137.1" r="1.0"/>
<circle cx="475.7" cy="147.5" r="1.0"/>
<circle cx="469.9" cy="152.5" r="1.0"/>
<circle cx="472.1" cy="147.0" r="1.0"/>
<circle cx="485.4" cy="154.7" r="1.0"/>
<circle cx="486.3" cy="136.3" r="1.0"/>
<circle cx="466.4" cy="148.6" r="1.0"/>
<circle cx="556.9" cy="132.0" r="1.0"/>
<circle cx="481.1" cy="149.4" r="1.0"/>
<circle cx="476.4" cy="149.3" r="1.0"/>
<circle cx="469.7" cy="149.7" r="1.0"/>
<circle cx="491.6" cy="145.8" r="1.0"/>
<circle cx="496.6" cy="151.0" r="1.0"/>
<circle cx="476.7" cy="148.8" r="1.0"/>
<circle cx="500.4" cy="148.6" r="1.0"/>
<circle cx="510.9" cy="137.4" r="1.0"/>
<circle cx="480.4" cy="148.5" r="1.0"/>
<circle cx="548.0" cy="139.0" r="1.0"/>
<circle cx="472.8" cy="144.0" r="1.0"/>
<circle cx="479.1" cy="144.3" r="1.0"/>
<circle cx="544.0" cy="108.0" r="1.0"/>
<circle cx="472.2" cy="141.2" r="1.0"/>
<circle cx="480.5" cy="145.3" r="1.0"/>
<circle cx="495.6" cy="151.4" r="1.0"/>
<circle cx="495.5" cy="150.4" r="1.0"/>
<circle cx="517.1" cy="149.4" r="1.0"/>
<circle cx="542.5" cy="181.3" r="1.0"/>
<circle cx="502.4" cy="146.0" r="1.0"/>
<circle cx="487.6" cy="145.2" r="1.0"/>
<circle cx="498.8" cy="147.7" r="1.0"/>
<circle cx="474.6" cy="150.5" r="1.0"/>
<circle cx="470.0" cy="155.1" r="1.0"/>
<circle cx="534.6" cy="145.5" r="1.0"/>
<circle cx="492.0" cy="143.2" r="1.0"/>
<circle cx="523.1" cy="131.0" r="1.0"/>
<circle cx="472.1" cy="144.0" r="1.0"/>
<circle cx="523.1" cy="146.0" r="1.0"/>
<circle cx="546.5" cy="131.6" r="1.0"/>
<circle cx="504.0" cy="143.9" r="1.0"/>
<circle cx="490.6" cy="147.7" r="1.0"/>
<circle cx="493.3" cy="144.3" r="1.0"/>
<circle cx="504.6" cy="138.5" r="1.0"/>
<circle cx="482.9" cy="153.4" r="1.0"/>
<circle cx="520.9" cy="130.6" r="1.0"/>
<circle cx="536.6" cy="132.4" r="1.0"/>
<circle cx="536.1" cy="126.0" r="1.0"/>
<circle cx="482.3" cy="148.8" r="1.0"/>
<circle cx="489.4" cy="138.6" r="1.0"/>
<circle cx="577.2" cy="185.0" r="1.0"/>
<circle cx="475.6" cy="148.3" r="1.0"/>
<circle cx="477.9" cy="152.0" r="1.0"/>
<circle cx="479.3" cy="145.4" r="1.0"/>
<circle cx="553.9" cy="107.1" r="1.0"/>
<circle cx="484.4" cy="140.3" r="1.0"/>
<circle cx="496.0" cy="152.2" r="1.0"/>
<circle cx="488.2" cy="153.3" r="1.0"/>
<circle cx="485.7" cy="144.4" r="1.0"/>
<circle cx="467.1" cy="148.4" r="1.0"/>
<circle cx="509.1" cy="138.9" r="1.0"/>
<circle cx="510.2" cy="146.0" r="1.0"/>
<circle cx="493.7" cy="147.9" r="1.0"/>
<circle cx="504.6" cy="146.8" r="1.0"/>
<circle cx="526.2" cy="130.4" r="1.0"/>
<circle cx="489.8" cy="158.1" r="1.0"/>
<circle cx="484.5" cy="144.9" r="1.0"/>
<circle cx="488.2" cy="152.1" r="1.0"/>
<circle cx="491.5" cy="138.1" r="1.0"/>
<circle cx="517.6" cy="139.3" r="1.0"/>
<circle cx="532.2" cy="118.6" r="1.0"/>
<circle cx="477.6" cy="146.3" r="1.0"/>
<circle cx="503.9" cy="140.1" r="1.0"/>
<circle cx="547.3" cy="108.6" r="1.0"/>
<circle cx="484.0" cy="138.9" r="1.0"/>
<circle cx="498.4" cy="147.9" r="1.0"/>
<circle cx="498.5" cy="150.7" r="1.0"/>
<circle cx="501.3" cy="141.4" r="1.0"/>
<circle cx="497.2" cy="146.4" r="1.0"/>
<circle cx="508.6" cy="142.0" r="1.0"/>
<circle cx="514.8" cy="136.1" r="1.0"/>
<circle cx="480.2" cy="141.0" r="1.0"/>
<circle cx="521.8" cy="132.1" r="1.0"/>
<circle cx="488.0" cy="141.3" r="1.0"/>
<circle cx="482.5" cy="137.2" r="1.0"/>
<circle cx="471.9" cy="146.3" r="1.0"/>
<circle cx="491.1" cy="151.6" r="1.0"/>
<circle cx="559.9" cy="150.0" r="1.0"/>
<circle cx="485.8" cy="146.5" r="1.0"/>
<circle cx="530.1" cy="113.6" r="1.0"/>
<circle cx="478.2" cy="147.0" r="1.0"/>
<circle cx="510.5" cy="135.1" r="1.0"/>
<circle cx="535.4" cy="129.1" r="1.0"/>
<circle cx="470.1" cy="148.4" r="1.0"/>
<circle cx="535.3" cy="122.2" r="1.0"/>
<circle cx="490.5" cy="143.9" r="1.0"/>
<circle cx="562.1" cy="110.3" r="1.0"/>
<circle cx="471.8" cy="149.9" r="1.0"/>
<circle cx="569.9" cy="122.2" r="1.0"/>
<circle cx="500.8" cy="141.4" r="1.0"/>
<circle cx="469.4" cy="148.5" r="1.0"/>
<circle cx="487.7" cy="143.2" r="1.0"/>
<circle cx="495.4" cy="152.8" r="1.0"/>
<circle cx="543.8" cy="116.3" r="1.0"/>
<circle cx="519.5" cy="140.1" r="1.0"/>
<circle cx="467.0" cy="144.8" r="1.0"/>
<circle cx="527.1" cy="139.8" r="1.0"/>
<circle cx="541.0" cy="128.7" r="1.0"/>
<circle cx="498.1" cy="148.0" r="1.0"/>
<circle cx="499.6" cy="141.1" r="1.0"/>
<circle cx="555.4" cy="141.0" r="1.0"/>
<circle cx="514.5" cy="145.2" r="1.0"/>
<circle cx="470.7" cy="145.0" r="1.0"/>
<circle cx="470.7" cy="146.5" r="1.0"/>
<circle cx="512.1" cy="136.9" r="1.0"/>
<circle cx="480.4" cy="151.2" r="1.0"/>
<circle cx="470.1" cy="144.3" r="1.0"/>
<circle cx="489.6" cy="139.9" r="1.0"/>
<circle cx="581.1" cy="102.3" r="1.0"/>
<circle cx="475.5" cy="145.4" r="1.0"/>
<circle cx="519.9" cy="139.3" r="1.0"/>
<circle cx="492.7" cy="132.8" r="1.0"/>
<circle cx="556.6" cy="148.2" r="1.0"/>
<circle cx="572.6" cy="83.3" r="1.0"/>
<circle cx="486.5" cy="148.1" r="1.0"/>
<circle cx="473.6" cy="148.2" r="1.0"/>
<circle cx="477.9" cy="147.3" r="1.0"/>
<circle cx="470.2" cy="147.0" r="1.0"/>
<circle cx="512.1" cy="141.2" r="1.0"/>
<circle cx="505.0" cy="140.6" r="1.0"/>
<circle cx="517.1" cy="138.5" r="1.0"/>
<circle cx="498.7" cy="149.0" r="1.0"/>
<circle cx="499.0" cy="147.3" r="1.0"/>
<circle cx="487.1" cy="141.9" r="1.0"/>
<circle cx="468.8" cy="142.7" r="1.0"/>
<circle cx="510.8" cy="140.7" r="1.0"/>
<circle cx="499.1" cy="146.1" r="1.0"/>
<circle cx="520.4" cy="137.9" r="1.0"/>
<circle cx="467.3" cy="144.3" r="1.0"/>
<circle cx="477.3" cy="143.7" r="1.0"/>
<circle cx="487.1" cy="148.0" r="1.0"/>
<circle cx="477.9" cy="152.9" r="1.0"/>
<circle cx="524.8" cy="120.7" r="1.0"/>
<circle cx="489.3" cy="146.0" r="1.0"/>
<circle cx="475.2" cy="149.3" r="1.0"/>
<circle cx="491.7" cy="145.7" r="1.0"/>
<circle cx="480.9" cy="152.1" r="1.0"/>
<circle cx="525.0" cy="129.6" r="1.0"/>
<circle cx="502.6" cy="142.4" r="1.0"/>
<circle cx="466.5" cy="150.0" r="1.0"/>
<circle cx="555.6" cy="152.5" r="1.0"/>
<circle cx="525.6" cy="124.0" r="1.0"/>
<circle cx="473.0" cy="150.2" r="1.0"/>
<circle cx="477.5" cy="143.9" r="1.0"/>
<circle cx="478.6" cy="149.1" r="1.0"/>
<circle cx="504.4" cy="149.8" r="1.0"/>
<circle cx="466.9" cy="151.5" r="1.0"/>
<circle cx="510.6" cy="141.5" r="1.0"/>
<circle cx="472.7" cy="136.9" r="1.0"/>
<circle cx="520.6" cy="128.7" r="1.0"/>
<circle cx="508.6" cy="137.7" r="1.0"/>
<circle cx="502.8" cy="132.9" r="1.0"/>
<circle cx="530.9" cy="126.4" r="1.0"/>
<circle cx="505.3" cy="151.8" r="1.0"/>
<circle cx="529.6" cy="131.6" r="1.0"/>
<circle cx="471.8" cy="144.7" r="1.0"/>
<circle cx="489.5" cy="142.7" r="1.0"/>
<circle cx="466.9" cy="144.4" r="1.0"/>
<circle cx="503.6" cy="147.3" r="1.0"/>
<circle cx="491.8" cy="150.7" r="1.0"/>
<circle cx="489.5" cy="143.8" r="1.0"/>
<circle cx="513.7" cy="133.2" r="1.0"/>
<circle cx="478.9" cy="148.2" r="1.0"/>
<circle cx="517.0" cy="133.7" r="1.0"/>
<circle cx="475.0" cy="151.3" r="1.0"/>
<circle cx="527.2" cy="138.7" r="1.0"/>
<circle cx="476.0" cy="151.1" r="1.0"/>
<circle cx="516.3" cy="138.2" r="1.0"/>
<circle cx="488.0" cy="144.7" r="1.0"/>
<circle cx="565.3" cy="69.7" r="1.0"/>
<circle cx="518.1" cy="137.2" r="1.0"/>
<circle cx="505.1" cy="139.5" r="1.0"/>
<circle cx="543.7" cy="113.1" r="1.0"/>
<circle cx="490.6" cy="145.0" r="1.0"/>
<circle cx="472.6" cy="147.1" r="1.0"/>
<circle cx="507.6" cy="130.1" r="1.0"/>
<circle cx="515.2" cy="129.4" r="1.0"/>
<circle cx="481.0" cy="144.3" r="1.0"/>
<circle cx="571.8" cy="51.4" r="1.0"/>
<circle cx="476.1" cy="148.6" r="1.0"/>
<circle cx="484.1" cy="140.6" r="1.0"/>
<circle cx="509.2" cy="143.1" r="1.0"/>
<circle cx="471.3" cy="150.8" r="1.0"/>
<circle cx="537.3" cy="133.4" r="1.0"/>
<circle cx="550.4" cy="141.1" r="1.0"/>
<circle cx="497.4" cy="145.7" r="1.0"/>
<circle cx="554.2" cy="153.1" r="1.0"/>
<circle cx="470.8" cy="145.6" r="1.0"/>
<circle cx="472.9" cy="151.3" r="1.0"/>
<circle cx="470.4" cy="144.8" r="1.0"/>
<circle cx="475.8" cy="146.5" r="1.0"/>
<circle cx="479.5" cy="144.1" r="1.0"/>
<circle cx="468.8" cy="146.4" r="1.0"/>
<circle cx="538.5" cy="147.7" r="1.0"/>
<circle cx="482.4" cy="147.4" r="1.0"/>
<circle cx="483.6" cy="144.8" r="1.0"/>
<circle cx="515.9" cy="125.3" r="1.0"/>
<circle cx="475.7" cy="145.7" r="1.0"/>
<circle cx="469.0" cy="149.7" r="1.0"/>
<circle cx="538.3" cy="102.5" r="1.0"/>
<circle cx="487.6" cy="141.0" r="1.0"/>
<circle cx="508.9" cy="134.2" r="1.0"/>
<circle cx="500.2" cy="143.9" r="1.0"/>
<circle cx="541.7" cy="125.0" r="1.0"/>
<circle cx="536.3" cy="131.6" r="1.0"/>
<circle cx="489.0" cy="145.4" r="1.0"/>
<circle cx="482.4" cy="145.2" r="1.0"/>
<circle cx="491.7" cy="140.5" r="1.0"/>
<circle cx="537.6" cy="142.5" r="1.0"/>
<circle cx="480.7" cy="142.0" r="1.0"/>
<circle cx="522.3" cy="142.3" r="1.0"/>
<circle cx="499.0" cy="145.8" r="1.0"/>
<circle cx="503.6" cy="136.0" r="1.0"/>
<circle cx="513.3" cy="140.9" r="1.0"/>
<circle cx="514.2" cy="141.0" r="1.0"/>
<circle cx="508.3" cy="145.9" r="1.0"/>
<circle cx="498.5" cy="140.9" r="1.0"/>
<circle cx="491.0" cy="136.7" r="1.0"/>
<circle cx="543.4" cy="115.6" r="1.0"/>
<circle cx="479.4" cy="147.3" r="1.0"/>
<circle cx="483.4" cy="137.2" r="1.0"/>
<circle cx="484.4" cy="145.2" r="1.0"/>
<circle cx="477.3" cy="141.4" r="1.0"/>
<circle cx="475.4" cy="144.6" r="1.0"/>
<circle cx="507.8" cy="145.3" r="1.0"/>
<circle cx="561.5" cy="100.2" r="1.0"/>
<circle cx="499.0" cy="154.9" r="1.0"/>
<circle cx="497.3" cy="147.1" r="1.0"/>
<circle cx="474.3" cy="139.9" r="1.0"/>
<circle cx="479.3" cy="141.6" r="1.0"/>
<circle cx="475.2" cy="141.3" r="1.0"/>
<circle cx="541.8" cy="105.7" r="1.0"/>
<circle cx="511.5" cy="142.8" r="1.0"/>
<circle cx="474.8" cy="151.0" r="1.0"/>
<circle cx="478.7" cy="143.0" r="1.0"/>
<circle cx="543.7" cy="124.4" r="1.0"/>
<circle cx="468.5" cy="151.2" r="1.0"/>
<circle cx="530.8" cy="130.7" r="1.0"/>
<circle cx="496.9" cy="137.1" r="1.0"/>
<circle cx="566.3" cy="79.5" r="1.0"/>
<circle cx="522.8" cy="144.4" r="1.0"/>
<circle cx="479.0" cy="150.2" r="1.0"/>
<circle cx="476.6" cy="144.0" r="1.0"/>
<circle cx="491.0" cy="143.8" r="1.0"/>
<circle cx="558.1" cy="155.0" r="1.0"/>
<circle cx="470.6" cy="151.5" r="1.0"/>
<circle cx="475.4" cy="147.2" r="1.0"/>
<circle cx="497.7" cy="145.5" r="1.0"/>
<circle cx="546.0" cy="126.0" r="1.0"/>
<circle cx="470.8" cy="144.9" r="1.0"/>
<circle cx="490.9" cy="143.5" r="1.0"/>
<circle cx="491.7" cy="144.8" r="1.0"/>
<circle cx="512.2" cy="132.7" r="1.0"/>
<circle cx="486.4" cy="137.4" r="1.0"/>
<circle cx="490.6" cy="138.6" r="1.0"/>
<circle cx="502.8" cy="145.9" r="1.0"/>
<circle cx="471.7" cy="149.4" r="1.0"/>
<circle cx="476.2" cy="145.3" r="1.0"/>
<circle cx="493.3" cy="144.2" r="1.0"/>
<circle cx="502.4" cy="144.0" r="1.0"/>
<circle cx="495.8" cy="147.3" r="1.0"/>
<circle cx="477.2" cy="146.2" r="1.0"/>
<circle cx="467.6" cy="144.0" r="1.0"/>
<circle cx="497.6" cy="143.6" r="1.0"/>
<circle cx="479.4" cy="147.8" r="1.0"/>
<circle cx="466.3" cy="148.1" r="1.0"/>
<circle cx="467.1" cy="138.7" r="1.0"/>
<circle cx="469.3" cy="145.0" r="1.0"/>
<circle cx="470.3" cy="150.5" r="1.0"/>
<circle cx="539.1" cy="140.5" r="1.0"/>
<circle cx="543.0" cy="140.8" r="1.0"/>
<circle cx="470.4" cy="147.4" r="1.0"/>
<circle cx="482.0" cy="150.3" r="1.0"/>
<circle cx="519.5" cy="152.0" r="1.0"/>
<circle cx="505.0" cy="145.1" r="1.0"/>
<circle cx="494.5" cy="147.6" r="1.0"/>
<circle cx="516.3" cy="139.9" r="1.0"/>
<circle cx="480.0" cy="144.8" r="1.0"/>
<circle cx="480.7" cy="143.8" r="1.0"/>
<circle cx="480.2" cy="149.1" r="1.0"/>
<circle cx="516.4" cy="147.2" r="1.0"/>
<circle cx="511.8" cy="144.7" r="1.0"/>
<circle cx="484.9" cy="144.4" r="1.0"/>
<circle cx="570.1" cy="145.8" r="1.0"/>
<circle cx="510.3" cy="135.3" r="1.0"/>
<circle cx="508.7" cy="153.9" r="1.0"/>
<circle cx="508.5" cy="143.4" r="1.0"/>
<circle cx="480.7" cy="142.7" r="1.0"/>
<circle cx="505.2" cy="129.6" r="1.0"/>
<circle cx="485.2" cy="151.5" r="1.0"/>
<circle cx="478.7" cy="144.6" r="1.0"/>
<circle cx="484.0" cy="149.4" r="1.0"/>
<circle cx="474.3" cy="145.0" r="1.0"/>
<circle cx="504.0" cy="140.4" r="1.0"/>
<circle cx="472.9" cy="147.0" r="1.0"/>
<circle cx="507.1" cy="141.9" r="1.0"/>
<circle cx="472.2" cy="149.4" r="1.0"/>
<circle cx="496.5" cy="148.3" r="1.0"/>
<circle cx="469.4" cy="150.0" r="1.0"/>
<circle cx="471.7" cy="149.0" r="1.0"/>
<circle cx="471.8" cy="146.7" r="1.0"/>
<circle cx="534.3" cy="126.8" r="1.0"/>
<circle cx="518.5" cy="131.0" r="1.0"/>
<circle cx="495.5" cy="146.9" r="1.0"/>
<circle cx="486.9" cy="152.3" r="1.0"/>
<circle cx="496.8" cy="142.5" r="1.0"/>
<circle cx="490.5" cy="145.7" r="1.0"/>
<circle cx="506.8" cy="145.5" r="1.0"/>
<circle cx="500.6" cy="154.2" r="1.0"/>
<circle cx="493.9" cy="145.4" r="1.0"/>
<circle cx="517.1" cy="139.4" r="1.0"/>
<circle cx="551.6" cy="159.4" r="1.0"/>
<circle cx="477.7" cy="143.0" r="1.0"/>
<circle cx="510.3" cy="139.5" r="1.0"/>
<circle cx="473.3" cy="145.9" r="1.0"/>
<circle cx="506.8" cy="144.0" r="1.0"/>
<circle cx="510.2" cy="139.9" r="1.0"/>
<circle cx="541.8" cy="107.7" r="1.0"/>
<circle cx="510.3" cy="139.7" r="1.0"/>
<circle cx="494.4" cy="143.8" r="1.0"/>
<circle cx="470.2" cy="144.5" r="1.0"/>
<circle cx="478.9" cy="155.7" r="1.0"/>
<circle cx="493.9" cy="141.6" r="1.0"/>
<circle cx="504.1" cy="133.8" r="1.0"/>
<circle cx="482.4" cy="141.6" r="1.0"/>
<circle cx="487.1" cy="151.6" r="1.0"/>
<circle cx="500.0" cy="141.9" r="1.0"/>
<circle cx="482.7" cy="145.1" r="1.0"/>
<circle cx="469.6" cy="154.5" r="1.0"/>
<circle cx="546.0" cy="121.0" r="1.0"/>
<circle cx="475.5" cy="147.3" r="1.0"/>
<circle cx="472.1" cy="143.7" r="1.0"/>
<circle cx="476.2" cy="150.5" r="1.0"/>
<circle cx="519.4" cy="133.2" r="1.0"/>
<circle cx="536.5" cy="138.5" r="1.0"/>
<circle cx="497.9" cy="135.4" r="1.0"/>
<circle cx="488.2" cy="145.1" r="1.0"/>
<circle cx="524.2" cy="137.5" r="1.0"/>
<circle cx="485.1" cy="141.6" r="1.0"/>
<circle cx="508.7" cy="150.3" r="1.0"/>
<circle cx="490.5" cy="139.8" r="1.0"/>
<circle cx="474.3" cy="148.2" r="1.0"/>
<circle cx="504.5" cy="144.0" r="1.0"/>
<circle cx="516.3" cy="142.2" r="1.0"/>
<circle cx="517.0" cy="151.8" r="1.0"/>
<circle cx="559.6" cy="103.3" r="1.0"/>
<circle cx="478.8" cy="147.2" r="1.0"/>
<circle cx="533.8" cy="122.9" r="1.0"/>
<circle cx="513.2" cy="148.4" r="1.0"/>
<circle cx="469.4" cy="143.8" r="1.0"/>
<circle cx="469.7" cy="151.2" r="1.0"/>
<circle cx="500.7" cy="139.8" r="1.0"/>
<circle cx="478.8" cy="143.7" r="1.0"/>
<circle cx="495.0" cy="137.0" r="1.0"/>
<circle cx="528.4" cy="140.2" r="1.0"/>
<circle cx="469.8" cy="150.8" r="1.0"/>
<circle cx="469.0" cy="138.0" r="1.0"/>
<circle cx="481.2" cy="141.4" r="1.0"/>
<circle cx="497.9" cy="141.9" r="1.0"/>
<circle cx="467.7" cy="143.4" r="1.0"/>
<circle cx="520.2" cy="145.3" r="1.0"/>
<circle cx="467.4" cy="148.4" r="1.0"/>
<circle cx="510.4" cy="145.5" r="1.0"/>
<circle cx="480.8" cy="146.2" r="1.0"/>
<circle cx="521.3" cy="132.8" r="1.0"/>
<circle cx="548.0" cy="146.8" r="1.0"/>
<circle cx="480.6" cy="144.9" r="1.0"/>
<circle cx="506.5" cy="145.0" r="1.0"/>
<circle cx="510.4" cy="141.9" r="1.0"/>
<circle cx="470.5" cy="145.2" r="1.0"/>
<circle cx="496.4" cy="137.2" r="1.0"/>
<circle cx="527.5" cy="151.6" r="1.0"/>
<circle cx="481.4" cy="141.8" r="1.0"/>
<circle cx="539.3" cy="121.5" r="1.0"/>
<circle cx="495.5" cy="143.7" r="1.0"/>
<circle cx="471.3" cy="147.8" r="1.0"/>
<circle cx="476.8" cy="157.0" r="1.0"/>
<circle cx="516.4" cy="145.1" r="1.0"/>
<circle cx="546.3" cy="104.6" r="1.0"/>
<circle cx="489.4" cy="151.9" r="1.0"/>
<circle cx="513.2" cy="141.2" r="1.0"/>
<circle cx="475.5" cy="144.7" r="1.0"/>
<circle cx="524.7" cy="126.5" r="1.0"/>
<circle cx="502.6" cy="142.0" r="1.0"/>
<circle cx="497.1" cy="150.0" r="1.0"/>
<circle cx="476.4" cy="147.3" r="1.0"/>
<circle cx="557.7" cy="148.2" r="1.0"/>
<circle cx="472.1" cy="143.5" r="1.0"/>
<circle cx="502.5" cy="143.2" r="1.0"/>
<circle cx="502.8" cy="132.4" r="1.0"/>
<circle cx="510.5" cy="131.1" r="1.0"/>
<circle cx="482.5" cy="143.0" r="1.0"/>
<circle cx="490.0" cy="147.3" r="1.0"/>
<circle cx="487.6" cy="141.0" r="1.0"/>
<circle cx="505.4" cy="149.7" r="1.0"/>
<circle cx="510.7" cy="143.5" r="1.0"/>
<circle cx="500.3" cy="146.8" r="1.0"/>
<circle cx="521.5" cy="147.0" r="1.0"/>
<circle cx="495.2" cy="130.3" r="1.0"/>
<circle cx="480.9" cy="149.3" r="1.0"/>
<circle cx="494.5" cy="146.6" r="1.0"/>
<circle cx="508.0" cy="149.9" r="1.0"/>
<circle cx="476.0" cy="145.2" r="1.0"/>
<circle cx="470.6" cy="149.1" r="1.0"/>
<circle cx="532.1" cy="145.8" r="1.0"/>
<circle cx="468.3" cy="140.4" r="1.0"/>
<circle cx="545.6" cy="113.4" r="1.0"/>
<circle cx="486.2" cy="145.2" r="1.0"/>
<circle cx="486.8" cy="147.4" r="1.0"/>
<circle cx="485.0" cy="140.8" r="1.0"/>
<circle cx="551.6" cy="122.2" r="1.0"/>
<circle cx="490.6" cy="138.3" r="1.0"/>
<circle cx="495.3" cy="136.1" r="1.0"/>
<circle cx="509.0" cy="146.5" r="1.0"/>
<circle cx="493.4" cy="137.6" r="1.0"/>
<circle cx="495.9" cy="144.6" r="1.0"/>
<circle cx="506.1" cy="144.7" r="1.0"/>
<circle cx="556.9" cy="139.8" r="1.0"/>
<circle cx="531.9" cy="161.3" r="1.0"/>
<circle cx="528.9" cy="133.7" r="1.0"/>
<circle cx="520.6" cy="143.7" r="1.0"/>
<circle cx="485.5" cy="147.3" r="1.0"/>
<circle cx="503.8" cy="153.0" r="1.0"/>
<circle cx="496.6" cy="142.0" r="1.0"/>
<circle cx="512.8" cy="142.3" r="1.0"/>
<circle cx="510.9" cy="136.0" r="1.0"/>
<circle cx="472.2" cy="147.5" r="1.0"/>
<circle cx="480.3" cy="140.8" r="1.0"/>
<circle cx="491.7" cy="153.0" r="1.0"/>
<circle cx="536.8" cy="133.3" r="1.0"/>
<circle cx="535.7" cy="124.9" r="1.0"/>
<circle cx="472.9" cy="141.4" r="1.0"/>
<circle cx="479.6" cy="137.5" r="1.0"/>
<circle cx="503.7" cy="145.7" r="1.0"/>
<circle cx="523.2" cy="138.3" r="1.0"/>
<circle cx="478.3" cy="149.8" r="1.0"/>
<circle cx="467.1" cy="152.9" r="1.0"/>
<circle cx="480.1" cy="147.8" r="1.0"/>
<circle cx="479.1" cy="147.5" r="1.0"/>
<circle cx="497.4" cy="136.6" r="1.0"/>
<circle cx="498.3" cy="147.5" r="1.0"/>
<circle cx="482.6" cy="143.7" r="1.0"/>
<circle cx="481.6" cy="140.9" r="1.0"/>
<circle cx="468.4" cy="149.7" r="1.0"/>
<circle cx="498.7" cy="133.5" r="1.0"/>
<circle cx="482.0" cy="143.1" r="1.0"/>
<circle cx="472.2" cy="144.9" r="1.0"/>
<circle cx="529.4" cy="129.7" r="1.0"/>
<circle cx="480.7" cy="144.0" r="1.0"/>
<circle cx="490.1" cy="142.5" r="1.0"/>
<circle cx="506.6" cy="138.7" r="1.0"/>
<circle cx="474.7" cy="148.1" r="1.0"/>
<circle cx="486.1" cy="150.3" r="1.0"/>
<circle cx="506.0" cy="151.0" r="1.0"/>
<circle cx="472.2" cy="143.8" r="1.0"/>
<circle cx="481.2" cy="154.3" r="1.0"/>
<circle cx="560.2" cy="84.1" r="1.0"/>
<circle cx="535.8" cy="138.7" r="1.0"/>
<circle cx="534.6" cy="130.9" r="1.0"/>
<circle cx="492.7" cy="144.0" r="1.0"/>
<circle cx="490.6" cy="151.3" r="1.0"/>
<circle cx="480.2" cy="150.8" r="1.0"/>
<circle cx="495.6" cy="144.3" r="1.0"/>
<circle cx="508.9" cy="149.4" r="1.0"/>
<circle cx="529.8" cy="143.3" r="1.0"/>
<circle cx="476.9" cy="139.7" r="1.0"/>
<circle cx="481.2" cy="146.2" r="1.0"/>
<circle cx="473.1" cy="148.7" r="1.0"/>
<circle cx="466.9" cy="141.6" r="1.0"/>
<circle cx="487.4" cy="145.2" r="1.0"/>
<circle cx="503.3" cy="138.6" r="1.0"/>
<circle cx="477.8" cy="145.0" r="1.0"/>
<circle cx="468.0" cy="148.6" r="1.0"/>
<circle cx="471.8" cy="143.4" r="1.0"/>
<circle cx="495.9" cy="138.9" r="1.0"/>
<circle cx="484.1" cy="158.1" r="1.0"/>
<circle cx="525.5" cy="134.2" r="1.0"/>
<circle cx="500.4" cy="135.5" r="1.0"/>
<circle cx="579.8" cy="106.1" r="1.0"/>
<circle cx="502.3" cy="147.7" r="1.0"/>
<circle cx="503.7" cy="142.4" r="1.0"/>
<circle cx="489.9" cy="144.8" r="1.0"/>
<circle cx="506.2" cy="158.6" r="1.0"/>
<circle cx="485.2" cy="147.4" r="1.0"/>
<circle cx="475.6" cy="151.3" r="1.0"/>
<circle cx="508.9" cy="150.7" r="1.0"/>
<circle cx="527.0" cy="136.4" r="1.0"/>
<circle cx="466.6" cy="145.8" r="1.0"/>
<circle cx="484.6" cy="145.1" r="1.0"/>
<circle cx="553.2" cy="155.7" r="1.0"/>
<circle cx="541.8" cy="106.3" r="1.0"/>
<circle cx="517.9" cy="139.3" r="1.0"/>
<circle cx="484.3" cy="142.3" r="1.0"/>
<circle cx="471.6" cy="146.3" r="1.0"/>
<circle cx="480.7" cy="148.0" r="1.0"/>
<circle cx="524.8" cy="137.6" r="1.0"/>
<circle cx="471.2" cy="139.5" r="1.0"/>
<circle cx="476.2" cy="153.0" r="1.0"/>
<circle cx="510.1" cy="149.5" r="1.0"/>
<circle cx="492.4" cy="147.7" r="1.0"/>
<circle cx="503.5" cy="141.2" r="1.0"/>
<circle cx="540.7" cy="132.0" r="1.0"/>
<circle cx="501.1" cy="156.0" r="1.0"/>
<circle cx="582.7" cy="88.8" r="1.0"/>
<circle cx="502.8" cy="149.6" r="1.0"/>
<circle cx="478.2" cy="149.6" r="1.0"/>
<circle cx="478.4" cy="158.1" r="1.0"/>
<circle cx="468.2" cy="144.3" r="1.0"/>
<circle cx="577.3" cy="100.2" r="1.0"/>
<circle cx="497.6" cy="134.6" r="1.0"/>
<circle cx="494.2" cy="141.5" r="1.0"/>
<circle cx="573.9" cy="64.3" r="1.0"/>
<circle cx="515.8" cy="135.4" r="1.0"/>
<circle cx="532.3" cy="148.0" r="1.0"/>
<circle cx="564.6" cy="89.1" r="1.0"/>
<circle cx="468.8" cy="138.6" r="1.0"/>
<circle cx="469.1" cy="147.5" r="1.0"/>
<circle cx="510.3" cy="161.7" r="1.0"/>
<circle cx="519.4" cy="166.4" r="1.0"/>
<circle cx="516.5" cy="138.2" r="1.0"/>
<circle cx="487.3" cy="157.5" r="1.0"/>
<circle cx="467.5" cy="145.5" r="1.0"/>
<circle cx="520.8" cy="140.6" r="1.0"/>
<circle cx="517.1" cy="141.4" r="1.0"/>
<circle cx="534.2" cy="126.1" r="1.0"/>
<circle cx="483.6" cy="143.5" r="1.0"/>
<circle cx="475.4" cy="140.1" r="1.0"/>
<circle cx="542.5" cy="117.4" r="1.0"/>
<circle cx="488.2" cy="147.6" r="1.0"/>
<circle cx="507.6" cy="134.6" r="1.0"/>
<circle cx="496.2" cy="147.9" r="1.0"/>
<circle cx="481.0" cy="147.4" r="1.0"/>
<circle cx="513.6" cy="134.2" r="1.0"/>
<circle cx="475.8" cy="144.2" r="1.0"/>
<circle cx="510.8" cy="142.6" r="1.0"/>
<circle cx="529.6" cy="122.4" r="1.0"/>
<circle cx="479.8" cy="141.9" r="1.0"/>
<circle cx="542.5" cy="108.0" r="1.0"/>
<circle cx="484.3" cy="154.9" r="1.0"/>
<circle cx="527.6" cy="128.8" r="1.0"/>
<circle cx="481.4" cy="138.7" r="1.0"/>
<circle cx="491.1" cy="142.6" r="1.0"/>
<circle cx="490.5" cy="147.9" r="1.0"/>
<circle cx="553.7" cy="143.6" r="1.0"/>
<circle cx="530.3" cy="131.9" r="1.0"/>
<circle cx="486.4" cy="143.7" r="1.0"/>
<circle cx="493.4" cy="143.9" r="1.0"/>
<circle cx="479.5" cy="149.8" r="1.0"/>
<circle cx="490.3" cy="143.8" r="1.0"/>
<circle cx="497.0" cy="143.5" r="1.0"/>
<circle cx="505.9" cy="143.6" r="1.0"/>
<circle cx="557.0" cy="151.2" r="1.0"/>
<circle cx="486.3" cy="148.9" r="1.0"/>
<circle cx="475.4" cy="144.6" r="1.0"/>
<circle cx="486.4" cy="150.6" r="1.0"/>
<circle cx="536.2" cy="123.6" r="1.0"/>
<circle cx="474.2" cy="143.2" r="1.0"/>
<circle cx="500.0" cy="140.8" r="1.0"/>
<circle cx="503.0" cy="141.2" r="1.0"/>
<circle cx="503.6" cy="145.9" r="1.0"/>
<circle cx="489.1" cy="136.4" r="1.0"/>
<circle cx="504.1" cy="136.6" r="1.0"/>
<circle cx="538.3" cy="132.7" r="1.0"/>
<circle cx="556.1" cy="152.2" r="1.0"/>
<circle cx="470.5" cy="141.7" r="1.0"/>
<circle cx="473.0" cy="149.1" r="1.0"/>
<circle cx="539.2" cy="134.9" r="1.0"/>
<circle cx="538.5" cy="142.6" r="1.0"/>
<circle cx="510.0" cy="132.5" r="1.0"/>
<circle cx="562.5" cy="93.2" r="1.0"/>
<circle cx="528.1" cy="133.8" r="1.0"/>
<circle cx="539.0" cy="115.1" r="1.0"/>
<circle cx="469.2" cy="152.2" r="1.0"/>
<circle cx="490.4" cy="146.6" r="1.0"/>
<circle cx="494.4" cy="136.2" r="1.0"/>
<circle cx="483.4" cy="145.2" r="1.0"/>
<circle cx="490.9" cy="145.9" r="1.0"/>
<circle cx="510.6" cy="139.3" r="1.0"/>
<circle cx="483.4" cy="142.7" r="1.0"/>
<circle cx="530.5" cy="157.8" r="1.0"/>
<circle cx="492.5" cy="146.7" r="1.0"/>
<circle cx="544.7" cy="173.1" r="1.0"/>
<circle cx="501.5" cy="146.3" r="1.0"/>
<circle cx="487.9" cy="144.5" r="1.0"/>
<circle cx="532.8" cy="132.3" r="1.0"/>
<circle cx="485.6" cy="148.3" r="1.0"/>
<circle cx="521.9" cy="142.7" r="1.0"/>
<circle cx="480.1" cy="142.2" r="1.0"/>
<circle cx="486.8" cy="145.7" r="1.0"/>
<circle cx="508.1" cy="147.0" r="1.0"/>
<circle cx="539.2" cy="115.7" r="1.0"/>
<circle cx="568.7" cy="143.1" r="1.0"/>
<circle cx="470.9" cy="142.9" r="1.0"/>
<circle cx="466.6" cy="142.3" r="1.0"/>
<circle cx="480.2" cy="136.5" r="1.0"/>
<circle cx="470.2" cy="142.1" r="1.0"/>
<circle cx="516.5" cy="138.9" r="1.0"/>
<circle cx="511.1" cy="133.2" r="1.0"/>
<circle cx="489.3" cy="142.5" r="1.0"/>
<circle cx="486.5" cy="142.3" r="1.0"/>
<circle cx="471.5" cy="149.0" r="1.0"/>
<circle cx="492.9" cy="153.1" r="1.0"/>
<circle cx="479.0" cy="146.8" r="1.0"/>
<circle cx="557.7" cy="105.2" r="1.0"/>
<circle cx="526.3" cy="161.4" r="1.0"/>
<circle cx="505.5" cy="146.6" r="1.0"/>
<circle cx="466.7" cy="152.5" r="1.0"/>
<circle cx="488.2" cy="143.7" r="1.0"/>
<circle cx="527.2" cy="144.0" r="1.0"/>
<circle cx="567.5" cy="67.0" r="1.0"/>
<circle cx="472.3" cy="144.8" r="1.0"/>
<circle cx="508.2" cy="150.5" r="1.0"/>
<circle cx="493.0" cy="143.6" r="1.0"/>
<circle cx="527.7" cy="164.2" r="1.0"/>
<circle cx="510.7" cy="142.7" r="1.0"/>
<circle cx="511.0" cy="137.6" r="1.0"/>
<circle cx="535.6" cy="132.1" r="1.0"/>
<circle cx="476.1" cy="147.5" r="1.0"/>
<circle cx="513.3" cy="152.8" r="1.0"/>
<circle cx="496.3" cy="145.9" r="1.0"/>
<circle cx="519.1" cy="143.9" r="1.0"/>
<circle cx="473.2" cy="145.2" r="1.0"/>
<circle cx="474.6" cy="146.4" r="1.0"/>
<circle cx="508.2" cy="150.4" r="1.0"/>
<circle cx="493.7" cy="139.9" r="1.0"/>
<circle cx="517.4" cy="135.3" r="1.0"/>
<circle cx="499.8" cy="140.9" r="1.0"/>
<circle cx="501.8" cy="146.2" r="1.0"/>
<circle cx="480.8" cy="145.0" r="1.0"/>
<circle cx="478.0" cy="141.5" r="1.0"/>
<circle cx="495.6" cy="145.6" r="1.0"/>
<circle cx="473.1" cy="152.4" r="1.0"/>
<circle cx="481.4" cy="143.0" r="1.0"/>
<circle cx="488.2" cy="145.4" r="1.0"/>
<circle cx="574.4" cy="79.2" r="1.0"/>
<circle cx="467.5" cy="142.1" r="1.0"/>
<circle cx="489.1" cy="138.0" r="1.0"/>
<circle cx="500.6" cy="145.7" r="1.0"/>
<circle cx="538.9" cy="129.1" r="1.0"/>
<circle cx="510.5" cy="145.2" r="1.0"/>
<circle cx="495.3" cy="151.4" r="1.0"/>
<circle cx="472.9" cy="146.5" r="1.0"/>
<circle cx="489.7" cy="144.5" r="1.0"/>
<circle cx="490.2" cy="154.4" r="1.0"/>
<circle cx="472.7" cy="153.3" r="1.0"/>
<circle cx="475.2" cy="147.8" r="1.0"/>
<circle cx="470.5" cy="148.7" r="1.0"/>
<circle cx="521.9" cy="130.5" r="1.0"/>
<circle cx="542.4" cy="134.8" r="1.0"/>
<circle cx="506.8" cy="142.8" r="1.0"/>
<circle cx="506.7" cy="146.5" r="1.0"/>
<circle cx="472.7" cy="155.8" r="1.0"/>
<circle cx="466.6" cy="150.5" r="1.0"/>
<circle cx="518.0" cy="138.4" r="1.0"/>
<circle cx="467.1" cy="151.0" r="1.0"/>
<circle cx="486.8" cy="144.4" r="1.0"/>
<circle cx="523.1" cy="135.4" r="1.0"/>
<circle cx="478.3" cy="148.2" r="1.0"/>
<circle cx="511.7" cy="142.9" r="1.0"/>
<circle cx="471.3" cy="141.4" r="1.0"/>
<circle cx="494.6" cy="144.6" r="1.0"/>
<circle cx="517.3" cy="128.9" r="1.0"/>
<circle cx="557.0" cy="140.8" r="1.0"/>
<circle cx="494.1" cy="148.2" r="1.0"/>
<circle cx="471.8" cy="147.3" r="1.0"/>
<circle cx="508.5" cy="148.0" r="1.0"/>
<circle cx="485.5" cy="148.2" r="1.0"/>
<circle cx="500.7" cy="148.4" r="1.0"/>
<circle cx="469.5" cy="149.0" r="1.0"/>
<circle cx="517.6" cy="142.9" r="1.0"/>
<circle cx="501.3" cy="154.3" r="1.0"/>
<circle cx="483.9" cy="149.8" r="1.0"/>
<circle cx="538.1" cy="137.7" r="1.0"/>
<circle cx="486.2" cy="141.1" r="1.0"/>
<circle cx="526.5" cy="137.3" r="1.0"/>
<circle cx="468.5" cy="147.1" r="1.0"/>
<circle cx="510.6" cy="135.9" r="1.0"/>
<circle cx="526.7" cy="135.0" r="1.0"/>
<circle cx="511.9" cy="136.8" r="1.0"/>
<circle cx="526.9" cy="143.0" r="1.0"/>
<circle cx="469.9" cy="147.4" r="1.0"/>
<circle cx="495.7" cy="140.8" r="1.0"/>
<circle cx="469.4" cy="144.9" r="1.0"/>
<circle cx="518.9" cy="141.3" r="1.0"/>
<circle cx="528.0" cy="133.5" r="1.0"/>
<circle cx="530.6" cy="132.5" r="1.0"/>
<circle cx="491.7" cy="140.7" r="1.0"/>
<circle cx="476.8" cy="149.7" r="1.0"/>
<circle cx="480.5" cy="141.9" r="1.0"/>
<circle cx="506.5" cy="135.2" r="1.0"/>
<circle cx="494.5" cy="138.5" r="1.0"/>
<circle cx="487.4" cy="147.7" r="1.0"/>
<circle cx="489.5" cy="145.1" r="1.0"/>
<circle cx="486.2" cy="145.6" r="1.0"/>
<circle cx="469.7" cy="144.6" r="1.0"/>
<circle cx="481.2" cy="148.7" r="1.0"/>
<circle cx="484.0" cy="143.2" r="1.0"/>
<circle cx="545.5" cy="122.1" r="1.0"/>
<circle cx="511.8" cy="137.0" r="1.0"/>
<circle cx="543.1" cy="147.2" r="1.0"/>
<circle cx="494.4" cy="147.6" r="1.0"/>
<circle cx="506.2" cy="144.0" r="1.0"/>
<circle cx="488.2" cy="149.0" r="1.0"/>
<circle cx="466.6" cy="156.5" r="1.0"/>
<circle cx="478.9" cy="151.4" r="1.0"/>
<circle cx="469.0" cy="147.7" r="1.0"/>
<circle cx="504.5" cy="145.4" r="1.0"/>
<circle cx="481.5" cy="139.1" r="1.0"/>
<circle cx="475.4" cy="140.2" r="1.0"/>
<circle cx="484.3" cy="148.6" r="1.0"/>
<circle cx="484.4" cy="141.4" r="1.0"/>
<circle cx="519.8" cy="143.4" r="1.0"/>
<circle cx="544.2" cy="124.2" r="1.0"/>
<circle cx="468.7" cy="145.5" r="1.0"/>
<circle cx="495.9" cy="143.7" r="1.0"/>
<circle cx="499.3" cy="151.3" r="1.0"/>
<circle cx="489.2" cy="145.2" r="1.0"/>
<circle cx="477.8" cy="141.5" r="1.0"/>
<circle cx="511.8" cy="138.9" r="1.0"/>
<circle cx="479.5" cy="146.2" r="1.0"/>
<circle cx="471.2" cy="139.8" r="1.0"/>
<circle cx="541.5" cy="156.5" r="1.0"/>
<circle cx="490.9" cy="146.0" r="1.0"/>
<circle cx="477.7" cy="144.4" r="1.0"/>
<circle cx="475.2" cy="148.6" r="1.0"/>
<circle cx="506.3" cy="135.5" r="1.0"/>
<circle cx="551.7" cy="143.2" r="1.0"/>
<circle cx="492.5" cy="138.3" r="1.0"/>
<circle cx="484.5" cy="145.1" r="1.0"/>
<circle cx="524.7" cy="123.2" r="1.0"/>
<circle cx="469.7" cy="150.8" r="1.0"/>
<circle cx="503.5" cy="136.7" r="1.0"/>
<circle cx="500.8" cy="144.7" r="1.0"/>
<circle cx="540.7" cy="114.9" r="1.0"/>
<circle cx="524.1" cy="141.0" r="1.0"/>
<circle cx="472.3" cy="152.5" r="1.0"/>
<circle cx="502.2" cy="144.6" r="1.0"/>
<circle cx="508.0" cy="132.4" r="1.0"/>
<circle cx="483.4" cy="140.7" r="1.0"/>
<circle cx="484.6" cy="138.5" r="1.0"/>
<circle cx="486.8" cy="153.1" r="1.0"/>
<circle cx="513.0" cy="137.2" r="1.0"/>
<circle cx="470.6" cy="143.3" r="1.0"/>
<circle cx="498.9" cy="150.5" r="1.0"/>
<circle cx="479.3" cy="141.5" r="1.0"/>
<circle cx="521.1" cy="143.7" r="1.0"/>
<circle cx="517.4" cy="124.6" r="1.0"/>
<circle cx="491.6" cy="142.8" r="1.0"/>
<circle cx="516.5" cy="138.0" r="1.0"/>
<circle cx="471.8" cy="142.9" r="1.0"/>
<circle cx="548.2" cy="114.7" r="1.0"/>
<circle cx="476.5" cy="145.9" r="1.0"/>
<circle cx="472.8" cy="150.2" r="1.0"/>
<circle cx="565.3" cy="105.2" r="1.0"/>
<circle cx="475.2" cy="152.0" r="1.0"/>
<circle cx="479.6" cy="144.7" r="1.0"/>
<circle cx="470.4" cy="145.1" r="1.0"/>
<circle cx="497.0" cy="146.0" r="1.0"/>
<circle cx="474.8" cy="145.4" r="1.0"/>
<circle cx="467.3" cy="149.4" r="1.0"/>
<circle cx="476.1" cy="146.3" r="1.0"/>
<circle cx="515.2" cy="131.6" r="1.0"/>
<circle cx="518.1" cy="135.1" r="1.0"/>
<circle cx="522.3" cy="125.9" r="1.0"/>
<circle cx="484.0" cy="153.4" r="1.0"/>
<circle cx="470.8" cy="145.1" r="1.0"/>
<circle cx="500.4" cy="144.6" r="1.0"/>
<circle cx="478.5" cy="151.4" r="1.0"/>
<circle cx="481.2" cy="136.8" r="1.0"/>
<circle cx="471.8" cy="153.5" r="1.0"/>
<circle cx="536.3" cy="137.9" r="1.0"/>
<circle cx="476.4" cy="156.1" r="1.0"/>
<circle cx="520.2" cy="139.5" r="1.0"/>
<circle cx="483.7" cy="146.9" r="1.0"/>
<circle cx="528.7" cy="152.9" r="1.0"/>
<circle cx="500.3" cy="152.9" r="1.0"/>
<circle cx="566.5" cy="73.5" r="1.0"/>
<circle cx="574.9" cy="112.5" r="1.0"/>
<circle cx="470.4" cy="145.4" r="1.0"/>
<circle cx="482.1" cy="143.7" r="1.0"/>
<circle cx="498.1" cy="143.5" r="1.0"/>
<circle cx="556.2" cy="130.4" r="1.0"/>
<circle cx="512.6" cy="136.7" r="1.0"/>
<circle cx="468.3" cy="144.2" r="1.0"/>
<circle cx="545.7" cy="138.6" r="1.0"/>
<circle cx="497.9" cy="139.8" r="1.0"/>
<circle cx="479.6" cy="147.4" r="1.0"/>
<circle cx="483.0" cy="136.0" r="1.0"/>
<circle cx="509.8" cy="141.9" r="1.0"/>
<circle cx="565.9" cy="76.7" r="1.0"/>
<circle cx="526.1" cy="139.2" r="1.0"/>
<circle cx="548.7" cy="156.1" r="1.0"/>
<circle cx="470.8" cy="150.0" r="1.0"/>
<circle cx="489.9" cy="142.4" r="1.0"/>
<circle cx="500.3" cy="134.8" r="1.0"/>
<circle cx="507.4" cy="129.5" r="1.0"/>
<circle cx="478.2" cy="137.2" r="1.0"/>
<circle cx="517.5" cy="139.2" r="1.0"/>
<circle cx="569.4" cy="143.2" r="1.0"/>
<circle cx="480.9" cy="147.9" r="1.0"/>
<circle cx="476.8" cy="141.9" r="1.0"/>
<circle cx="491.4" cy="148.7" r="1.0"/>
<circle cx="501.0" cy="148.3" r="1.0"/>
<circle cx="504.8" cy="139.9" r="1.0"/>
<circle cx="485.9" cy="147.5" r="1.0"/>
<circle cx="494.1" cy="145.9" r="1.0"/>
<circle cx="470.8" cy="147.8" r="1.0"/>
<circle cx="474.7" cy="147.8" r="1.0"/>
<circle cx="512.1" cy="149.3" r="1.0"/>
<circle cx="486.0" cy="136.8" r="1.0"/>
<circle cx="489.9" cy="156.3" r="1.0"/>
<circle cx="493.4" cy="144.1" r="1.0"/>
<circle cx="468.6" cy="150.4" r="1.0"/>
<circle cx="489.8" cy="144.3" r="1.0"/>
<circle cx="519.9" cy="134.9" r="1.0"/>
<circle cx="498.8" cy="150.8" r="1.0"/>
<circle cx="466.7" cy="143.0" r="1.0"/>
<circle cx="503.0" cy="142.3" r="1.0"/>
<circle cx="564.0" cy="95.7" r="1.0"/>
<circle cx="493.3" cy="140.3" r="1.0"/>
<circle cx="524.4" cy="139.0" r="1.0"/>
<circle cx="560.2" cy="115.8" r="1.0"/>
<circle cx="497.6" cy="138.8" r="1.0"/>
<circle cx="581.2" cy="131.7" r="1.0"/>
<circle cx="504.9" cy="146.3" r="1.0"/>
<circle cx="493.4" cy="132.0" r="1.0"/>
<circle cx="501.5" cy="146.2" r="1.0"/>
<circle cx="491.3" cy="142.3" r="1.0"/>
<circle cx="515.5" cy="133.1" r="1.0"/>
<circle cx="483.5" cy="145.2" r="1.0"/>
<circle cx="475.7" cy="146.6" r="1.0"/>
<circle cx="486.2" cy="140.4" r="1.0"/>
<circle cx="484.7" cy="146.4" r="1.0"/>
<circle cx="520.2" cy="139.5" r="1.0"/>
<circle cx="468.8" cy="148.1" r="1.0"/>
<circle cx="492.0" cy="153.3" r="1.0"/>
<circle cx="469.6" cy="142.6" r="1.0"/>
<circle cx="491.9" cy="148.3" r="1.0"/>
<circle cx="468.0" cy="152.5" r="1.0"/>
<circle cx="473.6" cy="141.7" r="1.0"/>
<circle cx="475.6" cy="148.6" r="1.0"/>
<circle cx="477.5" cy="145.3" r="1.0"/>
<circle cx="537.9" cy="142.9" r="1.0"/>
<circle cx="466.5" cy="145.6" r="1.0"/>
<circle cx="496.6" cy="139.5" r="1.0"/>
<circle cx="468.0" cy="144.1" r="1.0"/>
<circle cx="478.2" cy="143.6" r="1.0"/>
<circle cx="473.5" cy="148.1" r="1.0"/>
<circle cx="469.2" cy="148.7" r="1.0"/>
<circle cx="479.9" cy="144.1" r="1.0"/>
<circle cx="513.6" cy="145.9" r="1.0"/>
<circle cx="501.2" cy="141.3" r="1.0"/>
<circle cx="546.7" cy="118.9" r="1.0"/>
<circle cx="503.3" cy="140.8" r="1.0"/>
<circle cx="510.3" cy="143.0" r="1.0"/>
<circle cx="478.8" cy="144.5" r="1.0"/>
<circle cx="481.3" cy="143.2" r="1.0"/>
<circle cx="557.3" cy="132.9" r="1.0"/>
<circle cx="476.3" cy="144.5" r="1.0"/>
<circle cx="513.8" cy="148.7" r="1.0"/>
<circle cx="531.9" cy="142.1" r="1.0"/>
<circle cx="542.3" cy="133.9" r="1.0"/>
<circle cx="534.0" cy="137.4" r="1.0"/>
<circle cx="472.6" cy="142.4" r="1.0"/>
<circle cx="479.0" cy="150.2" r="1.0"/>
<circle cx="507.5" cy="154.3" r="1.0"/>
<circle cx="494.4" cy="149.1" r="1.0"/>
<circle cx="513.8" cy="146.2" r="1.0"/>
<circle cx="502.8" cy="150.0" r="1.0"/>
<circle cx="507.8" cy="143.2" r="1.0"/>
<circle cx="492.9" cy="142.5" r="1.0"/>
<circle cx="483.4" cy="148.6" r="1.0"/>
<circle cx="490.9" cy="149.0" r="1.0"/>
<circle cx="497.0" cy="139.3" r="1.0"/>
<circle cx="512.3" cy="135.2" r="1.0"/>
<circle cx="517.4" cy="133.0" r="1.0"/>
<circle cx="507.7" cy="139.9" r="1.0"/>
<circle cx="503.5" cy="145.8" r="1.0"/>
<circle cx="493.5" cy="137.3" r="1.0"/>
<circle cx="501.8" cy="138.1" r="1.0"/>
<circle cx="572.0" cy="126.3" r="1.0"/>
<circle cx="528.0" cy="138.5" r="1.0"/>
<circle cx="502.0" cy="146.7" r="1.0"/>
<circle cx="514.7" cy="131.1" r="1.0"/>
<circle cx="481.0" cy="152.2" r="1.0"/>
<circle cx="537.9" cy="133.1" r="1.0"/>
<circle cx="493.6" cy="150.6" r="1.0"/>
<circle cx="508.6" cy="143.8" r="1.0"/>
<circle cx="476.7" cy="136.9" r="1.0"/>
<circle cx="500.2" cy="145.9" r="1.0"/>
<circle cx="544.0" cy="167.0" r="1.0"/>
<circle cx="496.0" cy="145.3" r="1.0"/>
<circle cx="466.9" cy="147.1" r="1.0"/>
<circle cx="467.0" cy="140.9" r="1.0"/>
<circle cx="498.4" cy="148.3" r="1.0"/>
<circle cx="503.5" cy="140.0" r="1.0"/>
<circle cx="467.2" cy="141.8" r="1.0"/>
<circle cx="500.1" cy="144.6" r="1.0"/>
<circle cx="476.0" cy="160.1" r="1.0"/>
<circle cx="540.4" cy="116.9" r="1.0"/>
<circle cx="488.0" cy="151.9" r="1.0"/>
<circle cx="565.3" cy="90.7" r="1.0"/>
<circle cx="472.9" cy="154.4" r="1.0"/>
<circle cx="471.0" cy="153.2" r="1.0"/>
<circle cx="476.8" cy="145.2" r="1.0"/>
<circle cx="500.0" cy="148.7" r="1.0"/>
<circle cx="531.1" cy="141.3" r="1.0"/>
<circle cx="502.7" cy="135.6" r="1.0"/>
<circle cx="480.7" cy="144.5" r="1.0"/>
<circle cx="478.9" cy="148.3" r="1.0"/>
<circle cx="470.2" cy="144.3" r="1.0"/>
<circle cx="502.7" cy="124.4" r="1.0"/>
<circle cx="508.8" cy="146.9" r="1.0"/>
<circle cx="469.2" cy="147.0" r="1.0"/>
<circle cx="482.8" cy="140.8" r="1.0"/>
<circle cx="483.8" cy="150.1" r="1.0"/>
<circle cx="467.5" cy="144.1" r="1.0"/>
<circle cx="504.3" cy="140.0" r="1.0"/>
<circle cx="499.2" cy="142.7" r="1.0"/>
<circle cx="482.1" cy="145.9" r="1.0"/>
<circle cx="501.1" cy="143.2" r="1.0"/>
<circle cx="504.2" cy="142.7" r="1.0"/>
<circle cx="476.9" cy="147.8" r="1.0"/>
<circle cx="502.4" cy="141.6" r="1.0"/>
<circle cx="534.6" cy="139.4" r="1.0"/>
<circle cx="542.0" cy="126.2" r="1.0"/>
<circle cx="526.5" cy="133.1" r="1.0"/>
<circle cx="490.3" cy="141.9" r="1.0"/>
<circle cx="489.1" cy="145.0" r="1.0"/>
<circle cx="513.8" cy="141.3" r="1.0"/>
<circle cx="492.9" cy="135.8" r="1.0"/>
<circle cx="515.7" cy="137.3" r="1.0"/>
<circle cx="494.2" cy="142.5" r="1.0"/>
<circle cx="470.5" cy="152.4" r="1.0"/>
<circle cx="472.5" cy="149.3" r="1.0"/>
<circle cx="545.0" cy="121.8" r="1.0"/>
<circle cx="470.6" cy="139.2" r="1.0"/>
<circle cx="496.3" cy="139.9" r="1.0"/>
<circle cx="485.1" cy="155.9" r="1.0"/>
<circle cx="491.9" cy="138.6" r="1.0"/>
<circle cx="538.1" cy="124.5" r="1.0"/>
<circle cx="503.4" cy="146.5" r="1.0"/>
<circle cx="483.2" cy="143.4" r="1.0"/>
<circle cx="499.4" cy="134.1" r="1.0"/>
<circle cx="557.1" cy="142.1" r="1.0"/>
<circle cx="483.7" cy="148.5" r="1.0"/>
<circle cx="523.3" cy="143.6" r="1.0"/>
<circle cx="524.8" cy="144.0" r="1.0"/>
<circle cx="492.4" cy="143.9" r="1.0"/>
<circle cx="509.0" cy="135.5" r="1.0"/>
<circle cx="470.3" cy="144.9" r="1.0"/>
<circle cx="473.0" cy="148.4" r="1.0"/>
<circle cx="506.8" cy="142.7" r="1.0"/>
<circle cx="476.5" cy="146.0" r="1.0"/>
<circle cx="510.8" cy="139.4" r="1.0"/>
<circle cx="483.0" cy="148.1" r="1.0"/>
<circle cx="472.1" cy="147.9" r="1.0"/>
<circle cx="473.2" cy="137.3" r="1.0"/>
<circle cx="477.3" cy="141.3" r="1.0"/>
<circle cx="489.0" cy="145.0" r="1.0"/>
<circle cx="472.0" cy="145.0" r="1.0"/>
<circle cx="493.1" cy="149.3" r="1.0"/>
<circle cx="539.2" cy="96.0" r="1.0"/>
<circle cx="512.4" cy="132.6" r="1.0"/>
<circle cx="467.4" cy="141.2" r="1.0"/>
<circle cx="475.3" cy="147.4" r="1.0"/>
<circle cx="477.2" cy="154.7" r="1.0"/>
<circle cx="470.3" cy="144.0" r="1.0"/>
<circle cx="493.7" cy="156.8" r="1.0"/>
<circle cx="529.8" cy="134.3" r="1.0"/>
<circle cx="471.1" cy="145.0" r="1.0"/>
<circle cx="492.3" cy="147.5" r="1.0"/>
<circle cx="490.6" cy="142.3" r="1.0"/>
<circle cx="503.4" cy="146.8" r="1.0"/>
<circle cx="513.7" cy="140.9" r="1.0"/>
<circle cx="537.5" cy="155.5" r="1.0"/>
<circle cx="496.6" cy="151.2" r="1.0"/>
<circle cx="476.8" cy="144.0" r="1.0"/>
<circle cx="483.5" cy="139.4" r="1.0"/>
<circle cx="472.8" cy="149.9" r="1.0"/>
<circle cx="494.7" cy="145.9" r="1.0"/>
<circle cx="500.1" cy="144.0" r="1.0"/>
<circle cx="490.9" cy="139.5" r="1.0"/>
<circle cx="559.9" cy="138.3" r="1.0"/>
<circle cx="496.1" cy="140.4" r="1.0"/>
<circle cx="466.2" cy="155.8" r="1.0"/>
<circle cx="523.3" cy="140.7" r="1.0"/>
<circle cx="480.9" cy="144.8" r="1.0"/>
<circle cx="486.4" cy="144.4" r="1.0"/>
<circle cx="473.4" cy="149.4" r="1.0"/>
<circle cx="506.9" cy="140.0" r="1.0"/>
<circle cx="491.5" cy="145.6" r="1.0"/>
<circle cx="500.3" cy="146.8" r="1.0"/>
<circle cx="498.0" cy="142.1" r="1.0"/>
<circle cx="510.9" cy="145.9" r="1.0"/>
<circle cx="473.4" cy="139.5" r="1.0"/>
<circle cx="492.2" cy="142.1" r="1.0"/>
<circle cx="474.4" cy="149.7" r="1.0"/>
<circle cx="473.9" cy="139.4" r="1.0"/>
<circle cx="494.0" cy="138.5" r="1.0"/>
<circle cx="478.5" cy="143.1" r="1.0"/>
<circle cx="485.5" cy="160.3" r="1.0"/>
<circle cx="499.5" cy="145.3" r="1.0"/>
<circle cx="486.4" cy="152.4" r="1.0"/>
<circle cx="488.1" cy="144.8" r="1.0"/>
<circle cx="524.8" cy="137.1" r="1.0"/>
<circle cx="519.1" cy="152.0" r="1.0"/>
<circle cx="483.1" cy="143.4" r="1.0"/>
<circle cx="470.2" cy="150.5" r="1.0"/>
<circle cx="489.4" cy="149.0" r="1.0"/>
<circle cx="516.5" cy="148.4" r="1.0"/>
<circle cx="529.1" cy="134.3" r="1.0"/>
<circle cx="500.5" cy="137.9" r="1.0"/>
<circle cx="488.9" cy="140.9" r="1.0"/>
<circle cx="518.5" cy="138.4" r="1.0"/>
<circle cx="478.1" cy="142.3" r="1.0"/>
<circle cx="535.0" cy="125.6" r="1.0"/>
<circle cx="566.5" cy="102.0" r="1.0"/>
<circle cx="570.1" cy="186.6" r="1.0"/>
<circle cx="495.1" cy="136.6" r="1.0"/>
<circle cx="507.7" cy="138.0" r="1.0"/>
<circle cx="496.9" cy="139.6" r="1.0"/>
<circle cx="475.1" cy="153.6" r="1.0"/>
<circle cx="492.5" cy="151.3" r="1.0"/>
<circle cx="496.0" cy="140.9" r="1.0"/>
<circle cx="478.9" cy="153.7" r="1.0"/>
<circle cx="474.0" cy="151.8" r="1.0"/>
<circle cx="475.6" cy="146.7" r="1.0"/>
<circle cx="520.6" cy="142.6" r="1.0"/>
<circle cx="537.6" cy="144.8" r="1.0"/>
<circle cx="504.6" cy="142.2" r="1.0"/>
<circle cx="488.8" cy="144.6" r="1.0"/>
<circle cx="525.9" cy="167.0" r="1.0"/>
<circle cx="474.9" cy="154.2" r="1.0"/>
<circle cx="469.9" cy="144.0" r="1.0"/>
<circle cx="500.8" cy="148.0" r="1.0"/>
<circle cx="500.6" cy="145.5" r="1.0"/>
<circle cx="491.6" cy="142.4" r="1.0"/>
<circle cx="502.8" cy="138.7" r="1.0"/>
<circle cx="486.0" cy="141.7" r="1.0"/>
<circle cx="510.3" cy="138.9" r="1.0"/>
<circle cx="471.6" cy="146.4" r="1.0"/>
<circle cx="495.7" cy="145.5" r="1.0"/>
<circle cx="550.6" cy="149.0" r="1.0"/>
<circle cx="488.8" cy="145.9" r="1.0"/>
<circle cx="528.6" cy="133.7" r="1.0"/>
<circle cx="506.4" cy="134.3" r="1.0"/>
<circle cx="485.8" cy="144.0" r="1.0"/>
<circle cx="515.2" cy="139.5" r="1.0"/>
<circle cx="528.3" cy="131.5" r="1.0"/>
<circle cx="495.8" cy="141.0" r="1.0"/>
<circle cx="527.1" cy="142.4" r="1.0"/>
<circle cx="572.3" cy="175.5" r="1.0"/>
<circle cx="479.5" cy="146.2" r="1.0"/>
<circle cx="559.1" cy="121.1" r="1.0"/>
<circle cx="477.0" cy="146.8" r="1.0"/>
<circle cx="561.5" cy="74.2" r="1.0"/>
<circle cx="579.8" cy="151.1" r="1.0"/>
<circle cx="512.0" cy="148.4" r="1.0"/>
<circle cx="516.9" cy="133.3" r="1.0"/>
<circle cx="556.1" cy="144.4" r="1.0"/>
<circle cx="507.5" cy="148.6" r="1.0"/>
<circle cx="502.3" cy="142.6" r="1.0"/>
<circle cx="494.2" cy="148.1" r="1.0"/>
<circle cx="500.1" cy="142.2" r="1.0"/>
<circle cx="477.0" cy="151.0" r="1.0"/>
<circle cx="469.7" cy="152.8" r="1.0"/>
<circle cx="567.2" cy="91.3" r="1.0"/>
<circle cx="503.6" cy="148.0" r="1.0"/>
<circle cx="475.7" cy="142.4" r="1.0"/>
<circle cx="531.0" cy="144.8" r="1.0"/>
<circle cx="500.2" cy="146.2" r="1.0"/>
<circle cx="501.0" cy="139.8" r="1.0"/>
<circle cx="508.6" cy="140.4" r="1.0"/>
<circle cx="543.0" cy="160.3" r="1.0"/>
<circle cx="473.1" cy="145.0" r="1.0"/>
<circle cx="481.3" cy="144.7" r="1.0"/>
<circle cx="511.7" cy="152.8" r="1.0"/>
<circle cx="548.3" cy="116.3" r="1.0"/>
<circle cx="484.5" cy="149.2" r="1.0"/>
<circle cx="526.5" cy="133.9" r="1.0"/>
<circle cx="499.7" cy="133.5" r="1.0"/>
<circle cx="544.7" cy="126.3" r="1.0"/>
<circle cx="544.4" cy="113.9" r="1.0"/>
<circle cx="509.9" cy="138.8" r="1.0"/>
<circle cx="500.2" cy="145.9" r="1.0"/>
<circle cx="515.2" cy="138.0" r="1.0"/>
<circle cx="479.4" cy="146.5" r="1.0"/>
<circle cx="483.6" cy="149.4" r="1.0"/>
<circle cx="507.3" cy="150.9" r="1.0"/>
<circle cx="491.5" cy="141.1" r="1.0"/>
<circle cx="483.2" cy="148.6" r="1.0"/>
<circle cx="509.9" cy="146.6" r="1.0"/>
<circle cx="558.8" cy="164.4" r="1.0"/>
<circle cx="538.0" cy="138.9" r="1.0"/>
<circle cx="486.4" cy="143.1" r="1.0"/>
<circle cx="533.9" cy="124.7" r="1.0"/>
<circle cx="524.9" cy="146.6" r="1.0"/>
<circle cx="489.4" cy="142.9" r="1.0"/>
<circle cx="496.4" cy="141.7" r="1.0"/>
<circle cx="503.4" cy="139.0" r="1.0"/>
<circle cx="479.8" cy="142.7" r="1.0"/>
<circle cx="466.7" cy="148.1" r="1.0"/>
<circle cx="536.3" cy="144.5" r="1.0"/>
<circle cx="479.8" cy="150.7" r="1.0"/>
<circle cx="520.9" cy="143.7" r="1.0"/>
<circle cx="503.9" cy="137.8" r="1.0"/>
<circle cx="471.3" cy="146.3" r="1.0"/>
<circle cx="491.5" cy="148.6" r="1.0"/>
<circle cx="504.0" cy="142.5" r="1.0"/>
<circle cx="550.3" cy="153.3" r="1.0"/>
<circle cx="523.1" cy="139.2" r="1.0"/>
<circle cx="507.5" cy="134.4" r="1.0"/>
<circle cx="468.0" cy="141.5" r="1.0"/>
<circle cx="495.9" cy="140.3" r="1.0"/>
<circle cx="523.6" cy="135.9" r="1.0"/>
<circle cx="482.8" cy="148.2" r="1.0"/>
<circle cx="529.9" cy="137.6" r="1.0"/>
<circle cx="498.9" cy="150.2" r="1.0"/>
<circle cx="508.8" cy="140.3" r="1.0"/>
<circle cx="471.7" cy="149.3" r="1.0"/>
<circle cx="475.4" cy="143.6" r="1.0"/>
<circle cx="486.6" cy="150.7" r="1.0"/>
<circle cx="490.7" cy="137.9" r="1.0"/>
<circle cx="493.5" cy="146.6" r="1.0"/>
<circle cx="492.0" cy="149.1" r="1.0"/>
<circle cx="515.1" cy="150.7" r="1.0"/>
<circle cx="538.5" cy="126.8" r="1.0"/>
<circle cx="475.3" cy="151.5" r="1.0"/>
<circle cx="575.6" cy="54.3" r="1.0"/>
<circle cx="479.6" cy="153.1" r="1.0"/>
<circle cx="476.2" cy="146.6" r="1.0"/>
<circle cx="500.6" cy="140.9" r="1.0"/>
<circle cx="557.7" cy="149.2" r="1.0"/>
<circle cx="494.1" cy="140.0" r="1.0"/>
<circle cx="481.7" cy="145.0" r="1.0"/>
<circle cx="468.5" cy="144.8" r="1.0"/>
<circle cx="504.8" cy="151.2" r="1.0"/>
<circle cx="475.7" cy="148.0" r="1.0"/>
<circle cx="476.6" cy="144.9" r="1.0"/>
<circle cx="558.9" cy="96.7" r="1.0"/>
<circle cx="501.3" cy="144.5" r="1.0"/>
<circle cx="572.0" cy="74.2" r="1.0"/>
<circle cx="491.6" cy="148.0" r="1.0"/>
<circle cx="493.9" cy="149.9" r="1.0"/>
<circle cx="484.8" cy="150.9" r="1.0"/>
<circle cx="487.0" cy="140.2" r="1.0"/>
<circle cx="534.8" cy="136.3" r="1.0"/>
<circle cx="474.3" cy="143.1" r="1.0"/>
<circle cx="545.6" cy="104.8" r="1.0"/>
<circle cx="513.0" cy="143.3" r="1.0"/>
<circle cx="499.8" cy="138.1" r="1.0"/>
<circle cx="499.6" cy="148.8" r="1.0"/>
<circle cx="482.4" cy="147.0" r="1.0"/>
<circle cx="482.4" cy="146.0" r="1.0"/>
<circle cx="549.1" cy="127.9" r="1.0"/>
<circle cx="481.2" cy="140.2" r="1.0"/>
<circle cx="501.7" cy="149.4" r="1.0"/>
<circle cx="477.6" cy="146.0" r="1.0"/>
<circle cx="542.0" cy="146.5" r="1.0"/>
<circle cx="528.8" cy="127.9" r="1.0"/>
<circle cx="484.2" cy="141.6" r="1.0"/>
<circle cx="467.8" cy="147.0" r="1.0"/>
<circle cx="558.1" cy="129.2" r="1.0"/>
<circle cx="508.7" cy="144.9" r="1.0"/>
<circle cx="475.1" cy="142.3" r="1.0"/>
<circle cx="483.2" cy="141.6" r="1.0"/>
<circle cx="487.3" cy="139.9" r="1.0"/>
<circle cx="487.3" cy="145.5" r="1.0"/>
<circle cx="531.5" cy="138.3" r="1.0"/>
<circle cx="522.7" cy="132.6" r="1.0"/>
<circle cx="493.5" cy="144.1" r="1.0"/>
<circle cx="503.6" cy="149.5" r="1.0"/>
<circle cx="524.7" cy="145.4" r="1.0"/>
<circle cx="495.8" cy="139.5" r="1.0"/>
<circle cx="468.9" cy="142.2" r="1.0"/>
<circle cx="508.4" cy="141.5" r="1.0"/>
<circle cx="509.5" cy="124.1" r="1.0"/>
<circle cx="479.1" cy="147.9" r="1.0"/>
<circle cx="494.7" cy="138.4" r="1.0"/>
<circle cx="467.2" cy="150.9" r="1.0"/>
<circle cx="491.2" cy="144.3" r="1.0"/>
<circle cx="474.3" cy="144.4" r="1.0"/>
<circle cx="470.6" cy="155.2" r="1.0"/>
<circle cx="514.2" cy="139.0" r="1.0"/>
<circle cx="550.4" cy="164.7" r="1.0"/>
<circle cx="489.2" cy="141.4" r="1.0"/>
<circle cx="484.9" cy="147.5" r="1.0"/>
<circle cx="551.6" cy="136.1" r="1.0"/>
<circle cx="467.4" cy="150.5" r="1.0"/>
<circle cx="505.7" cy="134.2" r="1.0"/>
<circle cx="522.8" cy="139.3" r="1.0"/>
<circle cx="468.9" cy="150.4" r="1.0"/>
<circle cx="517.9" cy="145.2" r="1.0"/>
<circle cx="480.4" cy="147.3" r="1.0"/>
<circle cx="506.4" cy="142.0" r="1.0"/>
<circle cx="480.0" cy="149.0" r="1.0"/>
<circle cx="485.8" cy="144.6" r="1.0"/>
<circle cx="480.8" cy="145.9" r="1.0"/>
<circle cx="482.3" cy="149.9" r="1.0"/>
<circle cx="507.5" cy="145.7" r="1.0"/>
<circle cx="479.4" cy="142.3" r="1.0"/>
<circle cx="536.9" cy="130.4" r="1.0"/>
<circle cx="490.1" cy="142.6" r="1.0"/>
<circle cx="473.8" cy="145.8" r="1.0"/>
<circle cx="473.3" cy="138.5" r="1.0"/>
<circle cx="489.0" cy="147.9" r="1.0"/>
<circle cx="485.8" cy="144.1" r="1.0"/>
<circle cx="479.9" cy="140.2" r="1.0"/>
<circle cx="503.3" cy="146.2" r="1.0"/>
<circle cx="483.5" cy="151.8" r="1.0"/>
<circle cx="503.1" cy="152.3" r="1.0"/>
<circle cx="526.6" cy="141.7" r="1.0"/>
<circle cx="516.0" cy="142.2" r="1.0"/>
<circle cx="503.5" cy="142.9" r="1.0"/>
<circle cx="487.7" cy="150.5" r="1.0"/>
<circle cx="558.0" cy="157.5" r="1.0"/>
<circle cx="544.4" cy="124.7" r="1.0"/>
<circle cx="470.1" cy="146.6" r="1.0"/>
<circle cx="514.4" cy="138.4" r="1.0"/>
<circle cx="506.3" cy="145.0" r="1.0"/>
<circle cx="520.4" cy="146.1" r="1.0"/>
<circle cx="492.7" cy="149.6" r="1.0"/>
<circle cx="495.7" cy="137.2" r="1.0"/>
<circle cx="555.4" cy="123.3" r="1.0"/>
<circle cx="472.1" cy="144.7" r="1.0"/>
<circle cx="482.0" cy="150.2" r="1.0"/>
<circle cx="475.0" cy="145.5" r="1.0"/>
<circle cx="505.0" cy="147.5" r="1.0"/>
<circle cx="510.2" cy="136.5" r="1.0"/>
<circle cx="492.5" cy="150.8" r="1.0"/>
<circle cx="468.0" cy="143.6" r="1.0"/>
<circle cx="476.3" cy="146.3" r="1.0"/>
<circle cx="490.9" cy="149.1" r="1.0"/>
<circle cx="486.1" cy="148.1" r="1.0"/>
<circle cx="529.2" cy="135.8" r="1.0"/>
<circle cx="509.9" cy="137.6" r="1.0"/>
<circle cx="499.0" cy="147.6" r="1.0"/>
<circle cx="516.2" cy="148.1" r="1.0"/>
<circle cx="469.9" cy="141.9" r="1.0"/>
<circle cx="487.0" cy="150.3" r="1.0"/>
<circle cx="469.2" cy="147.8" r="1.0"/>
<circle cx="514.1" cy="141.6" r="1.0"/>
<circle cx="532.5" cy="129.5" r="1.0"/>
<circle cx="482.2" cy="150.1" r="1.0"/>
<circle cx="477.0" cy="138.8" r="1.0"/>
<circle cx="477.3" cy="145.9" r="1.0"/>
<circle cx="534.4" cy="131.2" r="1.0"/>
<circle cx="550.3" cy="161.5" r="1.0"/>
<circle cx="512.2" cy="144.4" r="1.0"/>
<circle cx="477.4" cy="153.7" r="1.0"/>
<circle cx="467.5" cy="141.9" r="1.0"/>
<circle cx="472.3" cy="151.7" r="1.0"/>
<circle cx="509.6" cy="137.8" r="1.0"/>
<circle cx="542.7" cy="130.7" r="1.0"/>
<circle cx="475.4" cy="156.3" r="1.0"/>
<circle cx="532.6" cy="136.9" r="1.0"/>
<circle cx="487.2" cy="146.6" r="1.0"/>
<circle cx="490.6" cy="145.0" r="1.0"/>
<circle cx="496.6" cy="144.7" r="1.0"/>
<circle cx="550.7" cy="154.7" r="1.0"/>
<circle cx="492.7" cy="138.5" r="1.0"/>
<circle cx="486.6" cy="144.3" r="1.0"/>
<circle cx="543.3" cy="125.8" r="1.0"/>
<circle cx="494.4" cy="140.2" r="1.0"/>
<circle cx="474.7" cy="149.2" r="1.0"/>
<circle cx="497.3" cy="150.7" r="1.0"/>
<circle cx="490.3" cy="143.9" r="1.0"/>
<circle cx="478.2" cy="157.3" r="1.0"/>
<circle cx="556.4" cy="129.8" r="1.0"/>
<circle cx="485.9" cy="151.4" r="1.0"/>
<circle cx="484.2" cy="150.1" r="1.0"/>
<circle cx="516.5" cy="139.8" r="1.0"/>
<circle cx="488.5" cy="143.4" r="1.0"/>
<circle cx="520.3" cy="141.2" r="1.0"/>
<circle cx="518.7" cy="137.6" r="1.0"/>
<circle cx="482.6" cy="139.7" r="1.0"/>
<circle cx="557.0" cy="118.6" r="1.0"/>
<circle cx="531.7" cy="141.9" r="1.0"/>
<circle cx="508.4" cy="139.7" r="1.0"/>
<circle cx="477.9" cy="143.9" r="1.0"/>
<circle cx="485.9" cy="150.2" r="1.0"/>
<circle cx="500.6" cy="138.0" r="1.0"/>
<circle cx="470.2" cy="146.5" r="1.0"/>
<circle cx="475.9" cy="144.6" r="1.0"/>
<circle cx="504.3" cy="152.8" r="1.0"/>
<circle cx="552.9" cy="156.3" r="1.0"/>
<circle cx="471.6" cy="153.7" r="1.0"/>
<circle cx="491.1" cy="139.7" r="1.0"/>
<circle cx="482.9" cy="144.7" r="1.0"/>
<circle cx="504.5" cy="129.5" r="1.0"/>
<circle cx="477.7" cy="143.1" r="1.0"/>
<circle cx="493.8" cy="142.1" r="1.0"/>
<circle cx="479.9" cy="146.3" r="1.0"/>
<circle cx="578.2" cy="106.1" r="1.0"/>
<circle cx="493.7" cy="143.3" r="1.0"/>
<circle cx="469.3" cy="148.1" r="1.0"/>
<circle cx="514.9" cy="138.1" r="1.0"/>
<circle cx="475.0" cy="139.1" r="1.0"/>
<circle cx="503.6" cy="136.7" r="1.0"/>
<circle cx="478.7" cy="141.1" r="1.0"/>
<circle cx="477.1" cy="143.2" r="1.0"/>
<circle cx="471.1" cy="144.7" r="1.0"/>
<circle cx="486.3" cy="152.6" r="1.0"/>
<circle cx="504.7" cy="143.3" r="1.0"/>
<circle cx="508.5" cy="142.6" r="1.0"/>
<circle cx="535.0" cy="146.9" r="1.0"/>
<circle cx="493.6" cy="147.8" r="1.0"/>
<circle cx="472.7" cy="147.8" r="1.0"/>
<circle cx="550.7" cy="128.9" r="1.0"/>
<circle cx="482.3" cy="151.7" r="1.0"/>
<circle cx="470.8" cy="150.1" r="1.0"/>
<circle cx="518.7" cy="134.2" r="1.0"/>
<circle cx="483.1" cy="146.1" r="1.0"/>
<circle cx="494.3" cy="148.6" r="1.0"/>
<circle cx="527.3" cy="133.1" r="1.0"/>
<circle cx="476.7" cy="149.9" r="1.0"/>
<circle cx="498.0" cy="151.0" r="1.0"/>
<circle cx="473.2" cy="141.8" r="1.0"/>
<circle cx="489.0" cy="146.4" r="1.0"/>
<circle cx="545.7" cy="109.2" r="1.0"/>
<circle cx="467.7" cy="147.0" r="1.0"/>
<circle cx="467.9" cy="152.0" r="1.0"/>
<circle cx="528.0" cy="134.5" r="1.0"/>
<circle cx="470.8" cy="145.2" r="1.0"/>
<circle cx="472.2" cy="146.2" r="1.0"/>
<circle cx="519.9" cy="145.1" r="1.0"/>
<circle cx="472.5" cy="146.4" r="1.0"/>
<circle cx="478.4" cy="140.9" r="1.0"/>
<circle cx="517.9" cy="140.0" r="1.0"/>
<circle cx="504.3" cy="149.6" r="1.0"/>
<circle cx="506.6" cy="136.7" r="1.0"/>
<circle cx="499.8" cy="145.6" r="1.0"/>
<circle cx="478.6" cy="144.3" r="1.0"/>
<circle cx="528.7" cy="119.4" r="1.0"/>
<circle cx="508.0" cy="137.0" r="1.0"/>
<circle cx="492.0" cy="146.8" r="1.0"/>
<circle cx="486.2" cy="139.4" r="1.0"/>
<circle cx="496.9" cy="146.0" r="1.0"/>
<circle cx="474.7" cy="150.2" r="1.0"/>
<circle cx="546.2" cy="158.6" r="1.0"/>
<circle cx="531.6" cy="156.7" r="1.0"/>
<circle cx="470.1" cy="142.2" r="1.0"/>
<circle cx="504.5" cy="141.7" r="1.0"/>
<circle cx="472.0" cy="155.5" r="1.0"/>
<circle cx="551.6" cy="155.6" r="1.0"/>
<circle cx="499.6" cy="138.4" r="1.0"/>
<circle cx="474.7" cy="141.9" r="1.0"/>
<circle cx="502.7" cy="142.5" r="1.0"/>
<circle cx="530.3" cy="140.3" r="1.0"/>
<circle cx="478.0" cy="147.6" r="1.0"/>
<circle cx="483.9" cy="142.0" r="1.0"/>
<circle cx="490.6" cy="138.0" r="1.0"/>
<circle cx="485.7" cy="150.0" r="1.0"/>
<circle cx="489.5" cy="145.0" r="1.0"/>
<circle cx="470.4" cy="146.9" r="1.0"/>
<circle cx="514.8" cy="144.3" r="1.0"/>
<circle cx="541.2" cy="130.7" r="1.0"/>
<circle cx="505.3" cy="145.2" r="1.0"/>
<circle cx="498.3" cy="142.2" r="1.0"/>
<circle cx="504.5" cy="151.2" r="1.0"/>
<circle cx="491.2" cy="152.8" r="1.0"/>
<circle cx="578.8" cy="135.9" r="1.0"/>
<circle cx="502.5" cy="137.7" r="1.0"/>
<circle cx="476.6" cy="147.4" r="1.0"/>
<circle cx="511.7" cy="136.2" r="1.0"/>
<circle cx="543.2" cy="112.5" r="1.0"/>
<circle cx="476.2" cy="146.3" r="1.0"/>
<circle cx="492.1" cy="144.4" r="1.0"/>
<circle cx="481.1" cy="149.5" r="1.0"/>
<circle cx="481.4" cy="147.2" r="1.0"/>
<circle cx="476.4" cy="148.8" r="1.0"/>
<circle cx="498.6" cy="153.5" r="1.0"/>
<circle cx="470.2" cy="145.2" r="1.0"/>
<circle cx="477.4" cy="141.8" r="1.0"/>
<circle cx="468.1" cy="149.0" r="1.0"/>
<circle cx="482.7" cy="145.7" r="1.0"/>
<circle cx="496.7" cy="140.0" r="1.0"/>
<circle cx="516.1" cy="143.0" r="1.0"/>
<circle cx="484.9" cy="156.7" r="1.0"/>
<circle cx="472.1" cy="142.5" r="1.0"/>
<circle cx="485.1" cy="142.7" r="1.0"/>
<circle cx="481.3" cy="154.1" r="1.0"/>
<circle cx="526.2" cy="130.4" r="1.0"/>
<circle cx="481.5" cy="140.6" r="1.0"/>
<circle cx="514.5" cy="139.7" r="1.0"/>
<circle cx="523.8" cy="145.0" r="1.0"/>
<circle cx="570.1" cy="107.7" r="1.0"/>
<circle cx="469.1" cy="140.3" r="1.0"/>
<circle cx="523.4" cy="134.8" r="1.0"/>
<circle cx="471.6" cy="152.8" r="1.0"/>
<circle cx="468.9" cy="145.4" r="1.0"/>
<circle cx="476.6" cy="146.1" r="1.0"/>
<circle cx="520.8" cy="146.1" r="1.0"/>
<circle cx="520.8" cy="132.4" r="1.0"/>
<circle cx="484.9" cy="138.8" r="1.0"/>
<circle cx="530.5" cy="144.3" r="1.0"/>
<circle cx="475.4" cy="143.0" r="1.0"/>
<circle cx="557.4" cy="134.2" r="1.0"/>
<circle cx="491.2" cy="142.3" r="1.0"/>
<circle cx="521.1" cy="135.2" r="1.0"/>
<circle cx="543.7" cy="132.9" r="1.0"/>
<circle cx="556.7" cy="119.7" r="1.0"/>
<circle cx="466.5" cy="146.6" r="1.0"/>
<circle cx="468.0" cy="143.2" r="1.0"/>
<circle cx="503.0" cy="138.3" r="1.0"/>
<circle cx="495.9" cy="138.4" r="1.0"/>
<circle cx="470.0" cy="141.9" r="1.0"/>
<circle cx="492.6" cy="141.5" r="1.0"/>
<circle cx="501.5" cy="130.1" r="1.0"/>
<circle cx="524.3" cy="132.0" r="1.0"/>
<circle cx="477.3" cy="148.0" r="1.0"/>
<circle cx="549.5" cy="140.4" r="1.0"/>
<circle cx="487.9" cy="147.3" r="1.0"/>
<circle cx="507.9" cy="139.9" r="1.0"/>
<circle cx="503.9" cy="145.5" r="1.0"/>
<circle cx="507.1" cy="140.1" r="1.0"/>
<circle cx="485.7" cy="154.4" r="1.0"/>
<circle cx="474.4" cy="144.5" r="1.0"/>
<circle cx="504.0" cy="166.7" r="1.0"/>
<circle cx="502.6" cy="143.1" r="1.0"/>
<circle cx="508.7" cy="133.1" r="1.0"/>
<circle cx="517.8" cy="163.6" r="1.0"/>
<circle cx="501.4" cy="140.2" r="1.0"/>
<circle cx="521.6" cy="133.0" r="1.0"/>
<circle cx="480.6" cy="151.1" r="1.0"/>
<circle cx="491.6" cy="142.3" r="1.0"/>
<circle cx="540.9" cy="136.4" r="1.0"/>
<circle cx="467.1" cy="151.6" r="1.0"/>
<circle cx="496.6" cy="140.7" r="1.0"/>
<circle cx="477.9" cy="148.8" r="1.0"/>
<circle cx="501.8" cy="148.1" r="1.0"/>
<circle cx="498.7" cy="156.8" r="1.0"/>
<circle cx="482.3" cy="144.1" r="1.0"/>
<circle cx="467.4" cy="149.5" r="1.0"/>
<circle cx="527.4" cy="118.1" r="1.0"/>
<circle cx="499.3" cy="143.2" r="1.0"/>
<circle cx="473.9" cy="154.8" r="1.0"/>
<circle cx="480.8" cy="145.7" r="1.0"/>
<circle cx="533.3" cy="131.8" r="1.0"/>
<circle cx="494.8" cy="140.4" r="1.0"/>
<circle cx="483.2" cy="144.8" r="1.0"/>
<circle cx="471.2" cy="150.7" r="1.0"/>
<circle cx="522.4" cy="127.7" r="1.0"/>
<circle cx="513.2" cy="148.8" r="1.0"/>
<circle cx="563.7" cy="99.3" r="1.0"/>
<circle cx="556.1" cy="141.0" r="1.0"/>
<circle cx="527.0" cy="133.3" r="1.0"/>
<circle cx="510.5" cy="141.4" r="1.0"/>
<circle cx="480.3" cy="148.2" r="1.0"/>
<circle cx="525.9" cy="138.4" r="1.0"/>
<circle cx="500.7" cy="140.3" r="1.0"/>
<circle cx="473.4" cy="147.4" r="1.0"/>
<circle cx="479.9" cy="145.1" r="1.0"/>
<circle cx="495.8" cy="150.0" r="1.0"/>
<circle cx="473.3" cy="153.2" r="1.0"/>
<circle cx="532.3" cy="126.9" r="1.0"/>
<circle cx="517.6" cy="135.8" r="1.0"/>
<circle cx="500.4" cy="145.3" r="1.0"/>
<circle cx="508.7" cy="140.3" r="1.0"/>
<circle cx="534.3" cy="134.3" r="1.0"/>
<circle cx="489.5" cy="142.7" r="1.0"/>
<circle cx="479.5" cy="150.9" r="1.0"/>
<circle cx="500.8" cy="135.2" r="1.0"/>
<circle cx="471.1" cy="143.7" r="1.0"/>
<circle cx="476.0" cy="149.6" r="1.0"/>
<circle cx="473.3" cy="145.0" r="1.0"/>
<circle cx="517.1" cy="127.4" r="1.0"/>
<circle cx="486.2" cy="147.6" r="1.0"/>
<circle cx="578.5" cy="104.0" r="1.0"/>
<circle cx="476.9" cy="145.7" r="1.0"/>
<circle cx="467.5" cy="147.8" r="1.0"/>
<circle cx="469.5" cy="137.3" r="1.0"/>
<circle cx="475.5" cy="148.3" r="1.0"/>
<circle cx="481.3" cy="144.9" r="1.0"/>
<circle cx="530.0" cy="145.9" r="1.0"/>
<circle cx="496.2" cy="146.3" r="1.0"/>
<circle cx="475.4" cy="146.1" r="1.0"/>
<circle cx="472.5" cy="148.1" r="1.0"/>
<circle cx="470.3" cy="142.5" r="1.0"/>
<circle cx="487.7" cy="151.1" r="1.0"/>
<circle cx="478.9" cy="146.0" r="1.0"/>
<circle cx="531.6" cy="163.0" r="1.0"/>
<circle cx="517.8" cy="136.8" r="1.0"/>
<circle cx="501.1" cy="150.0" r="1.0"/>
<circle cx="504.6" cy="145.0" r="1.0"/>
<circle cx="516.5" cy="142.3" r="1.0"/>
<circle cx="530.0" cy="146.0" r="1.0"/>
<circle cx="472.8" cy="154.3" r="1.0"/>
<circle cx="499.4" cy="139.3" r="1.0"/>
<circle cx="510.2" cy="147.9" r="1.0"/>
<circle cx="478.9" cy="143.2" r="1.0"/>
<circle cx="517.0" cy="137.4" r="1.0"/>
<circle cx="534.7" cy="140.1" r="1.0"/>
<circle cx="578.9" cy="105.2" r="1.0"/>
<circle cx="550.9" cy="132.4" r="1.0"/>
<circle cx="504.5" cy="148.7" r="1.0"/>
<circle cx="521.0" cy="150.1" r="1.0"/>
<circle cx="547.2" cy="183.6" r="1.0"/>
<circle cx="468.8" cy="144.4" r="1.0"/>
<circle cx="500.9" cy="138.7" r="1.0"/>
<circle cx="499.4" cy="140.9" r="1.0"/>
<circle cx="519.4" cy="150.5" r="1.0"/>
<circle cx="474.8" cy="145.8" r="1.0"/>
<circle cx="467.4" cy="146.4" r="1.0"/>
<circle cx="477.0" cy="144.1" r="1.0"/>
<circle cx="467.5" cy="140.0" r="1.0"/>
<circle cx="527.4" cy="142.3" r="1.0"/>
<circle cx="501.9" cy="138.7" r="1.0"/>
<circle cx="515.8" cy="136.7" r="1.0"/>
<circle cx="497.3" cy="137.4" r="1.0"/>
<circle cx="479.5" cy="146.9" r="1.0"/>
<circle cx="486.7" cy="146.2" r="1.0"/>
<circle cx="496.0" cy="140.5" r="1.0"/>
<circle cx="487.5" cy="141.3" r="1.0"/>
<circle cx="468.3" cy="147.1" r="1.0"/>
<circle cx="484.7" cy="148.9" r="1.0"/>
<circle cx="486.8" cy="141.2" r="1.0"/>
<circle cx="513.9" cy="133.4" r="1.0"/>
<circle cx="515.8" cy="141.9" r="1.0"/>
<circle cx="486.2" cy="151.6" r="1.0"/>
<circle cx="471.0" cy="143.0" r="1.0"/>
<circle cx="475.5" cy="143.6" r="1.0"/>
<circle cx="584.4" cy="145.3" r="1.0"/>
<circle cx="501.9" cy="139.8" r="1.0"/>
<circle cx="514.0" cy="138.7" r="1.0"/>
<circle cx="480.5" cy="149.6" r="1.0"/>
<circle cx="488.0" cy="142.5" r="1.0"/>
<circle cx="470.5" cy="140.3" r="1.0"/>
<circle cx="480.4" cy="146.5" r="1.0"/>
<circle cx="516.2" cy="162.3" r="1.0"/>
<circle cx="491.7" cy="145.8" r="1.0"/>
<circle cx="497.9" cy="141.0" r="1.0"/>
<circle cx="491.4" cy="149.6" r="1.0"/>
<circle cx="542.8" cy="139.1" r="1.0"/>
<circle cx="498.3" cy="144.7" r="1.0"/>
<circle cx="535.5" cy="114.4" r="1.0"/>
<circle cx="469.4" cy="149.0" r="1.0"/>
<circle cx="504.2" cy="138.8" r="1.0"/>
<circle cx="552.2" cy="117.9" r="1.0"/>
<circle cx="471.2" cy="143.2" r="1.0"/>
<circle cx="516.2" cy="157.9" r="1.0"/>
<circle cx="467.9" cy="149.7" r="1.0"/>
<circle cx="477.2" cy="140.0" r="1.0"/>
<circle cx="477.3" cy="145.7" r="1.0"/>
<circle cx="485.4" cy="140.7" r="1.0"/>
<circle cx="508.0" cy="134.5" r="1.0"/>
<circle cx="466.9" cy="147.8" r="1.0"/>
<circle cx="467.7" cy="150.3" r="1.0"/>
<circle cx="520.4" cy="135.6" r="1.0"/>
<circle cx="484.2" cy="142.2" r="1.0"/>
<circle cx="513.0" cy="138.8" r="1.0"/>
<circle cx="569.0" cy="168.0" r="1.0"/>
<circle cx="474.9" cy="149.6" r="1.0"/>
<circle cx="500.1" cy="134.4" r="1.0"/>
<circle cx="498.5" cy="150.9" r="1.0"/>
<circle cx="467.6" cy="148.8" r="1.0"/>
<circle cx="545.7" cy="144.0" r="1.0"/>
<circle cx="473.5" cy="148.1" r="1.0"/>
<circle cx="486.6" cy="134.2" r="1.0"/>
<circle cx="496.5" cy="150.6" r="1.0"/>
<circle cx="548.5" cy="114.6" r="1.0"/>
<circle cx="573.1" cy="143.4" r="1.0"/>
<circle cx="569.1" cy="55.2" r="1.0"/>
<circle cx="491.2" cy="142.6" r="1.0"/>
<circle cx="474.8" cy="147.3" r="1.0"/>
<circle cx="506.1" cy="144.9" r="1.0"/>
<circle cx="466.3" cy="145.7" r="1.0"/>
<circle cx="467.0" cy="147.7" r="1.0"/>
<circle cx="490.7" cy="147.6" r="1.0"/>
<circle cx="473.7" cy="150.0" r="1.0"/>
<circle cx="499.3" cy="150.1" r="1.0"/>
<circle cx="473.8" cy="148.4" r="1.0"/>
<circle cx="513.8" cy="138.4" r="1.0"/>
<circle cx="468.4" cy="148.1" r="1.0"/>
<circle cx="483.5" cy="143.9" r="1.0"/>
<circle cx="521.2" cy="129.9" r="1.0"/>
<circle cx="491.3" cy="138.8" r="1.0"/>
<circle cx="497.4" cy="145.0" r="1.0"/>
<circle cx="468.7" cy="150.8" r="1.0"/>
<circle cx="543.4" cy="113.6" r="1.0"/>
<circle cx="561.2" cy="76.5" r="1.0"/>
<circle cx="518.3" cy="156.1" r="1.0"/>
<circle cx="490.8" cy="143.8" r="1.0"/>
<circle cx="554.3" cy="141.7" r="1.0"/>
<circle cx="526.9" cy="130.8" r="1.0"/>
<circle cx="509.6" cy="143.1" r="1.0"/>
<circle cx="476.1" cy="139.3" r="1.0"/>
<circle cx="469.9" cy="153.3" r="1.0"/>
<circle cx="498.4" cy="145.0" r="1.0"/>
<circle cx="499.2" cy="149.7" r="1.0"/>
<circle cx="485.2" cy="146.1" r="1.0"/>
<circle cx="480.7" cy="146.4" r="1.0"/>
<circle cx="522.0" cy="136.8" r="1.0"/>
<circle cx="511.9" cy="145.4" r="1.0"/>
<circle cx="508.1" cy="144.0" r="1.0"/>
<circle cx="478.1" cy="151.2" r="1.0"/>
<circle cx="509.3" cy="141.2" r="1.0"/>
<circle cx="474.9" cy="147.1" r="1.0"/>
<circle cx="508.9" cy="142.5" r="1.0"/>
<circle cx="476.1" cy="143.6" r="1.0"/>
<circle cx="500.9" cy="149.7" r="1.0"/>
<circle cx="524.6" cy="133.3" r="1.0"/>
<circle cx="509.6" cy="137.4" r="1.0"/>
<circle cx="499.6" cy="143.2" r="1.0"/>
<circle cx="500.9" cy="142.2" r="1.0"/>
<circle cx="479.1" cy="150.3" r="1.0"/>
<circle cx="492.9" cy="141.1" r="1.0"/>
<circle cx="488.8" cy="146.8" r="1.0"/>
<circle cx="491.5" cy="144.7" r="1.0"/>
<circle cx="479.9" cy="142.7" r="1.0"/>
<circle cx="503.2" cy="139.2" r="1.0"/>
<circle cx="489.8" cy="136.7" r="1.0"/>
<circle cx="507.9" cy="141.2" r="1.0"/>
<circle cx="485.5" cy="151.3" r="1.0"/>
<circle cx="475.4" cy="146.7" r="1.0"/>
<circle cx="486.5" cy="139.3" r="1.0"/>
<circle cx="481.4" cy="146.4" r="1.0"/>
<circle cx="499.4" cy="145.6" r="1.0"/>
<circle cx="558.3" cy="110.7" r="1.0"/>
<circle cx="470.6" cy="146.4" r="1.0"/>
<circle cx="533.5" cy="136.4" r="1.0"/>
<circle cx="472.5" cy="152.4" r="1.0"/>
<circle cx="558.1" cy="132.4" r="1.0"/>
<circle cx="514.3" cy="151.6" r="1.0"/>
<circle cx="520.5" cy="139.7" r="1.0"/>
<circle cx="487.8" cy="148.7" r="1.0"/>
<circle cx="486.6" cy="144.1" r="1.0"/>
<circle cx="467.9" cy="142.9" r="1.0"/>
<circle cx="517.9" cy="124.0" r="1.0"/>
<circle cx="479.1" cy="139.1" r="1.0"/>
<circle cx="467.0" cy="146.2" r="1.0"/>
<circle cx="533.4" cy="148.7" r="1.0"/>
<circle cx="510.1" cy="135.0" r="1.0"/>
<circle cx="477.0" cy="149.7" r="1.0"/>
<circle cx="478.9" cy="147.8" r="1.0"/>
<circle cx="522.1" cy="119.3" r="1.0"/>
<circle cx="475.1" cy="148.5" r="1.0"/>
<circle cx="525.2" cy="132.2" r="1.0"/>
<circle cx="549.5" cy="141.0" r="1.0"/>
<circle cx="470.7" cy="148.4" r="1.0"/>
<circle cx="548.8" cy="137.3" r="1.0"/>
<circle cx="586.0" cy="157.3" r="1.0"/>
<circle cx="547.7" cy="145.7" r="1.0"/>
<circle cx="485.1" cy="145.8" r="1.0"/>
<circle cx="516.3" cy="126.1" r="1.0"/>
<circle cx="499.5" cy="146.7" r="1.0"/>
<circle cx="503.9" cy="141.4" r="1.0"/>
<circle cx="473.2" cy="143.8" r="1.0"/>
<circle cx="478.1" cy="150.9" r="1.0"/>
<circle cx="474.1" cy="149.6" r="1.0"/>
<circle cx="472.3" cy="149.4" r="1.0"/>
<circle cx="526.8" cy="144.0" r="1.0"/>
<circle cx="471.2" cy="150.1" r="1.0"/>
<circle cx="490.9" cy="146.1" r="1.0"/>
<circle cx="511.0" cy="141.5" r="1.0"/>
<circle cx="517.0" cy="131.9" r="1.0"/>
<circle cx="491.3" cy="143.5" r="1.0"/>
<circle cx="519.2" cy="142.5" r="1.0"/>
<circle cx="478.9" cy="140.5" r="1.0"/>
<circle cx="556.1" cy="141.1" r="1.0"/>
<circle cx="467.6" cy="146.0" r="1.0"/>
<circle cx="582.0" cy="99.5" r="1.0"/>
<circle cx="508.2" cy="147.0" r="1.0"/>
<circle cx="517.0" cy="135.4" r="1.0"/>
<circle cx="521.9" cy="128.3" r="1.0"/>
<circle cx="476.9" cy="152.1" r="1.0"/>
<circle cx="509.7" cy="140.6" r="1.0"/>
<circle cx="505.2" cy="140.3" r="1.0"/>
<circle cx="491.0" cy="148.5" r="1.0"/>
<circle cx="488.3" cy="146.7" r="1.0"/>
<circle cx="538.7" cy="127.2" r="1.0"/>
<circle cx="539.9" cy="110.2" r="1.0"/>
<circle cx="504.6" cy="155.5" r="1.0"/>
<circle cx="495.8" cy="136.6" r="1.0"/>
<circle cx="531.9" cy="130.6" r="1.0"/>
<circle cx="479.4" cy="146.1" r="1.0"/>
<circle cx="546.9" cy="166.1" r="1.0"/>
<circle cx="467.4" cy="144.3" r="1.0"/>
<circle cx="486.8" cy="153.6" r="1.0"/>
<circle cx="502.4" cy="147.9" r="1.0"/>
<circle cx="472.4" cy="153.9" r="1.0"/>
<circle cx="486.4" cy="146.2" r="1.0"/>
<circle cx="516.7" cy="146.7" r="1.0"/>
<circle cx="473.1" cy="140.6" r="1.0"/>
<circle cx="486.0" cy="144.7" r="1.0"/>
<circle cx="468.7" cy="148.5" r="1.0"/>
<circle cx="475.4" cy="144.8" r="1.0"/>
<circle cx="519.3" cy="137.8" r="1.0"/>
<circle cx="485.5" cy="141.3" r="1.0"/>
<circle cx="476.8" cy="146.4" r="1.0"/>
<circle cx="473.7" cy="140.4" r="1.0"/>
<circle cx="525.0" cy="134.3" r="1.0"/>
<circle cx="468.2" cy="141.6" r="1.0"/>
<circle cx="506.5" cy="139.6" r="1.0"/>
<circle cx="481.8" cy="148.1" r="1.0"/>
<circle cx="499.6" cy="140.4" r="1.0"/>
<circle cx="467.1" cy="156.9" r="1.0"/>
<circle cx="494.0" cy="137.5" r="1.0"/>
<circle cx="527.6" cy="150.2" r="1.0"/>
<circle cx="467.0" cy="148.5" r="1.0"/>
<circle cx="472.7" cy="138.9" r="1.0"/>
<circle cx="499.5" cy="137.1" r="1.0"/>
<circle cx="478.4" cy="133.3" r="1.0"/>
<circle cx="516.4" cy="131.8" r="1.0"/>
<circle cx="492.0" cy="152.0" r="1.0"/>
<circle cx="512.5" cy="142.7" r="1.0"/>
<circle cx="469.5" cy="145.7" r="1.0"/>
<circle cx="467.1" cy="157.3" r="1.0"/>
<circle cx="471.2" cy="140.8" r="1.0"/>
<circle cx="468.1" cy="149.2" r="1.0"/>
<circle cx="505.8" cy="149.5" r="1.0"/>
<circle cx="471.3" cy="147.8" r="1.0"/>
<circle cx="514.3" cy="137.6" r="1.0"/>
<circle cx="491.6" cy="137.0" r="1.0"/>
<circle cx="528.2" cy="149.0" r="1.0"/>
<circle cx="514.6" cy="125.5" r="1.0"/>
<circle cx="528.8" cy="130.2" r="1.0"/>
<circle cx="473.2" cy="153.0" r="1.0"/>
<circle cx="514.0" cy="150.5" r="1.0"/>
<circle cx="474.9" cy="146.7" r="1.0"/>
<circle cx="494.7" cy="138.6" r="1.0"/>
<circle cx="544.8" cy="138.6" r="1.0"/>
<circle cx="477.2" cy="149.5" r="1.0"/>
<circle cx="491.1" cy="138.0" r="1.0"/>
<circle cx="482.2" cy="142.3" r="1.0"/>
<circle cx="515.0" cy="134.3" r="1.0"/>
<circle cx="474.1" cy="148.2" r="1.0"/>
<circle cx="467.2" cy="149.5" r="1.0"/>
<circle cx="466.3" cy="150.6" r="1.0"/>
<circle cx="523.9" cy="132.6" r="1.0"/>
<circle cx="486.9" cy="144.3" r="1.0"/>
<circle cx="486.7" cy="141.9" r="1.0"/>
<circle cx="525.7" cy="135.6" r="1.0"/>
<circle cx="469.5" cy="153.8" r="1.0"/>
<circle cx="505.4" cy="149.4" r="1.0"/>
<circle cx="489.6" cy="146.5" r="1.0"/>
<circle cx="476.4" cy="139.1" r="1.0"/>
<circle cx="486.4" cy="154.7" r="1.0"/>
<circle cx="473.9" cy="144.1" r="1.0"/>
<circle cx="489.2" cy="148.1" r="1.0"/>
<circle cx="466.4" cy="147.8" r="1.0"/>
<circle cx="484.7" cy="146.1" r="1.0"/>
<circle cx="468.3" cy="142.1" r="1.0"/>
<circle cx="503.6" cy="146.0" r="1.0"/>
<circle cx="499.5" cy="139.1" r="1.0"/>
<circle cx="506.9" cy="151.3" r="1.0"/>
<circle cx="478.5" cy="144.6" r="1.0"/>
<circle cx="522.6" cy="146.4" r="1.0"/>
<circle cx="523.2" cy="144.3" r="1.0"/>
<circle cx="517.5" cy="139.9" r="1.0"/>
<circle cx="536.3" cy="137.9" r="1.0"/>
<circle cx="522.6" cy="136.1" r="1.0"/>
<circle cx="470.5" cy="152.8" r="1.0"/>
<circle cx="507.0" cy="144.8" r="1.0"/>
<circle cx="514.6" cy="136.7" r="1.0"/>
<circle cx="529.2" cy="127.9" r="1.0"/>
<circle cx="479.6" cy="141.5" r="1.0"/>
<circle cx="560.2" cy="115.7" r="1.0"/>
<circle cx="504.2" cy="148.4" r="1.0"/>
<circle cx="486.6" cy="144.9" r="1.0"/>
<circle cx="560.2" cy="95.7" r="1.0"/>
<circle cx="526.6" cy="134.9" r="1.0"/>
<circle cx="479.2" cy="143.6" r="1.0"/>
<circle cx="498.6" cy="142.2" r="1.0"/>
<circle cx="478.1" cy="143.1" r="1.0"/>
<circle cx="491.7" cy="136.3" r="1.0"/>
<circle cx="477.2" cy="152.5" r="1.0"/>
<circle cx="492.9" cy="146.4" r="1.0"/>
<circle cx="477.5" cy="150.2" r="1.0"/>
<circle cx="471.6" cy="144.8" r="1.0"/>
<circle cx="486.0" cy="130.6" r="1.0"/>
<circle cx="516.6" cy="143.5" r="1.0"/>
<circle cx="483.9" cy="146.6" r="1.0"/>
<circle cx="520.9" cy="150.5" r="1.0"/>
<circle cx="484.9" cy="139.8" r="1.0"/>
<circle cx="482.1" cy="141.7" r="1.0"/>
<circle cx="471.8" cy="151.3" r="1.0"/>
<circle cx="512.6" cy="143.7" r="1.0"/>
<circle cx="469.0" cy="142.1" r="1.0"/>
<circle cx="525.7" cy="129.5" r="1.0"/>
<circle cx="468.7" cy="147.5" r="1.0"/>
<circle cx="496.3" cy="143.2" r="1.0"/>
<circle cx="491.7" cy="149.2" r="1.0"/>
<circle cx="506.2" cy="149.0" r="1.0"/>
<circle cx="476.1" cy="149.0" r="1.0"/>
<circle cx="482.0" cy="148.1" r="1.0"/>
<circle cx="527.1" cy="118.8" r="1.0"/>
<circle cx="519.2" cy="145.7" r="1.0"/>
<circle cx="501.8" cy="145.8" r="1.0"/>
<circle cx="470.0" cy="148.3" r="1.0"/>
<circle cx="498.0" cy="157.7" r="1.0"/>
<circle cx="489.9" cy="148.0" r="1.0"/>
<circle cx="509.5" cy="132.9" r="1.0"/>
<circle cx="489.3" cy="153.5" r="1.0"/>
<circle cx="528.3" cy="134.3" r="1.0"/>
<circle cx="520.8" cy="147.0" r="1.0"/>
<circle cx="498.8" cy="136.1" r="1.0"/>
<circle cx="471.2" cy="144.8" r="1.0"/>
<circle cx="475.6" cy="150.4" r="1.0"/>
<circle cx="522.2" cy="131.1" r="1.0"/>
<circle cx="486.4" cy="144.9" r="1.0"/>
<circle cx="479.5" cy="151.3" r="1.0"/>
<circle cx="478.4" cy="146.7" r="1.0"/>
<circle cx="512.8" cy="150.8" r="1.0"/>
<circle cx="489.9" cy="140.2" r="1.0"/>
<circle cx="471.4" cy="153.8" r="1.0"/>
<circle cx="518.3" cy="123.6" r="1.0"/>
<circle cx="515.3" cy="142.7" r="1.0"/>
<circle cx="485.7" cy="144.3" r="1.0"/>
<circle cx="471.1" cy="147.9" r="1.0"/>
<circle cx="468.7" cy="144.3" r="1.0"/>
<circle cx="503.0" cy="150.0" r="1.0"/>
<circle cx="528.6" cy="122.4" r="1.0"/>
<circle cx="512.5" cy="136.0" r="1.0"/>
<circle cx="528.0" cy="132.2" r="1.0"/>
<circle cx="471.5" cy="151.9" r="1.0"/>
<circle cx="473.2" cy="146.0" r="1.0"/>
<circle cx="488.1" cy="151.7" r="1.0"/>
<circle cx="547.9" cy="134.0" r="1.0"/>
<circle cx="567.8" cy="73.2" r="1.0"/>
<circle cx="483.0" cy="147.4" r="1.0"/>
<circle cx="521.0" cy="138.3" r="1.0"/>
<circle cx="478.4" cy="140.8" r="1.0"/>
<circle cx="518.4" cy="140.0" r="1.0"/>
<circle cx="506.4" cy="138.2" r="1.0"/>
<circle cx="497.6" cy="149.1" r="1.0"/>
<circle cx="538.8" cy="136.0" r="1.0"/>
<circle cx="476.6" cy="154.6" r="1.0"/>
<circle cx="516.0" cy="128.0" r="1.0"/>
<circle cx="482.9" cy="153.8" r="1.0"/>
<circle cx="528.7" cy="122.1" r="1.0"/>
<circle cx="524.0" cy="141.9" r="1.0"/>
<circle cx="469.1" cy="148.9" r="1.0"/>
<circle cx="491.6" cy="142.8" r="1.0"/>
<circle cx="480.2" cy="151.3" r="1.0"/>
<circle cx="480.9" cy="143.4" r="1.0"/>
<circle cx="549.1" cy="145.5" r="1.0"/>
<circle cx="477.1" cy="151.4" r="1.0"/>
<circle cx="518.3" cy="144.1" r="1.0"/>
<circle cx="477.2" cy="149.1" r="1.0"/>
<circle cx="483.9" cy="152.8" r="1.0"/>
<circle cx="470.4" cy="148.3" r="1.0"/>
<circle cx="487.2" cy="139.7" r="1.0"/>
<circle cx="473.7" cy="152.6" r="1.0"/>
<circle cx="505.2" cy="142.6" r="1.0"/>
<circle cx="480.4" cy="142.2" r="1.0"/>
<circle cx="479.8" cy="145.8" r="1.0"/>
<circle cx="552.1" cy="149.0" r="1.0"/>
<circle cx="503.1" cy="137.0" r="1.0"/>
<circle cx="525.3" cy="133.3" r="1.0"/>
<circle cx="503.8" cy="130.6" r="1.0"/>
<circle cx="482.4" cy="150.8" r="1.0"/>
<circle cx="490.4" cy="145.9" r="1.0"/>
<circle cx="482.0" cy="149.5" r="1.0"/>
<circle cx="471.7" cy="148.9" r="1.0"/>
<circle cx="504.1" cy="148.7" r="1.0"/>
<circle cx="468.2" cy="148.8" r="1.0"/>
<circle cx="539.3" cy="126.7" r="1.0"/>
<circle cx="510.9" cy="140.5" r="1.0"/>
<circle cx="479.9" cy="143.1" r="1.0"/>
<circle cx="485.5" cy="144.5" r="1.0"/>
<circle cx="574.7" cy="126.3" r="1.0"/>
<circle cx="489.9" cy="146.3" r="1.0"/>
<circle cx="501.2" cy="140.1" r="1.0"/>
<circle cx="479.8" cy="148.1" r="1.0"/>
<circle cx="474.2" cy="151.8" r="1.0"/>
<circle cx="470.7" cy="149.4" r="1.0"/>
<circle cx="481.7" cy="144.2" r="1.0"/>
<circle cx="491.2" cy="156.6" r="1.0"/>
<circle cx="484.3" cy="149.1" r="1.0"/>
<circle cx="557.2" cy="135.2" r="1.0"/>
<circle cx="522.0" cy="131.4" r="1.0"/>
<circle cx="477.1" cy="149.1" r="1.0"/>
<circle cx="484.7" cy="144.8" r="1.0"/>
<circle cx="488.8" cy="137.4" r="1.0"/>
<circle cx="486.8" cy="146.5" r="1.0"/>
<circle cx="473.3" cy="146.7" r="1.0"/>
<circle cx="495.3" cy="147.0" r="1.0"/>
<circle cx="480.1" cy="144.0" r="1.0"/>
<circle cx="470.9" cy="149.3" r="1.0"/>
<circle cx="495.0" cy="140.2" r="1.0"/>
<circle cx="486.6" cy="148.5" r="1.0"/>
<circle cx="505.3" cy="142.0" r="1.0"/>
<circle cx="542.4" cy="110.4" r="1.0"/>
<circle cx="543.0" cy="121.9" r="1.0"/>
<circle cx="532.7" cy="136.8" r="1.0"/>
<circle cx="482.4" cy="147.7" r="1.0"/>
<circle cx="471.1" cy="147.6" r="1.0"/>
<circle cx="485.5" cy="148.1" r="1.0"/>
<circle cx="566.5" cy="86.6" r="1.0"/>
<circle cx="490.2" cy="145.0" r="1.0"/>
<circle cx="477.3" cy="143.9" r="1.0"/>
<circle cx="493.9" cy="139.8" r="1.0"/>
<circle cx="505.4" cy="137.5" r="1.0"/>
<circle cx="499.3" cy="143.4" r="1.0"/>
<circle cx="490.0" cy="133.2" r="1.0"/>
<circle cx="494.6" cy="144.2" r="1.0"/>
<circle cx="476.8" cy="143.6" r="1.0"/>
<circle cx="510.3" cy="144.9" r="1.0"/>
<circle cx="531.6" cy="133.9" r="1.0"/>
<circle cx="564.5" cy="113.9" r="1.0"/>
<circle cx="504.1" cy="146.1" r="1.0"/>
<circle cx="513.1" cy="143.6" r="1.0"/>
<circle cx="524.8" cy="146.1" r="1.0"/>
<circle cx="512.5" cy="141.8" r="1.0"/>
<circle cx="468.7" cy="141.2" r="1.0"/>
<circle cx="489.5" cy="145.0" r="1.0"/>
<circle cx="481.8" cy="145.5" r="1.0"/>
<circle cx="506.3" cy="141.5" r="1.0"/>
<circle cx="489.7" cy="149.8" r="1.0"/>
<circle cx="475.6" cy="147.9" r="1.0"/>
<circle cx="493.5" cy="148.4" r="1.0"/>
<circle cx="508.7" cy="133.9" r="1.0"/>
<circle cx="469.1" cy="141.1" r="1.0"/>
<circle cx="517.0" cy="129.9" r="1.0"/>
<circle cx="536.2" cy="131.1" r="1.0"/>
<circle cx="493.4" cy="147.0" r="1.0"/>
<circle cx="474.5" cy="144.6" r="1.0"/>
<circle cx="501.9" cy="134.2" r="1.0"/>
<circle cx="528.8" cy="132.4" r="1.0"/>
<circle cx="495.1" cy="132.5" r="1.0"/>
<circle cx="560.5" cy="127.1" r="1.0"/>
<circle cx="510.1" cy="139.1" r="1.0"/>
<circle cx="476.0" cy="148.5" r="1.0"/>
<circle cx="532.4" cy="130.9" r="1.0"/>
<circle cx="500.5" cy="136.8" r="1.0"/>
<circle cx="516.8" cy="132.3" r="1.0"/>
<circle cx="475.9" cy="139.5" r="1.0"/>
<circle cx="525.6" cy="133.7" r="1.0"/>
<circle cx="484.4" cy="149.9" r="1.0"/>
<circle cx="531.5" cy="144.2" r="1.0"/>
<circle cx="501.4" cy="140.2" r="1.0"/>
<circle cx="479.5" cy="146.2" r="1.0"/>
<circle cx="487.6" cy="153.9" r="1.0"/>
<circle cx="525.7" cy="138.9" r="1.0"/>
<circle cx="476.4" cy="150.2" r="1.0"/>
<circle cx="480.9" cy="148.5" r="1.0"/>
<circle cx="469.6" cy="151.0" r="1.0"/>
<circle cx="561.2" cy="80.3" r="1.0"/>
<circle cx="468.1" cy="151.9" r="1.0"/>
<circle cx="478.2" cy="145.6" r="1.0"/>
<circle cx="538.4" cy="129.4" r="1.0"/>
<circle cx="497.7" cy="143.5" r="1.0"/>
<circle cx="491.3" cy="154.8" r="1.0"/>
<circle cx="475.3" cy="146.2" r="1.0"/>
<circle cx="474.8" cy="147.7" r="1.0"/>
<circle cx="508.2" cy="137.9" r="1.0"/>
<circle cx="500.6" cy="141.4" r="1.0"/>
<circle cx="473.6" cy="150.5" r="1.0"/>
<circle cx="487.5" cy="145.4" r="1.0"/>
<circle cx="475.3" cy="143.9" r="1.0"/>
<circle cx="509.6" cy="138.4" r="1.0"/>
<circle cx="568.7" cy="191.4" r="1.0"/>
<circle cx="511.0" cy="138.1" r="1.0"/>
<circle cx="541.2" cy="136.1" r="1.0"/>
<circle cx="527.3" cy="138.6" r="1.0"/>
<circle cx="484.5" cy="143.1" r="1.0"/>
<circle cx="476.6" cy="148.0" r="1.0"/>
<circle cx="490.9" cy="144.0" r="1.0"/>
<circle cx="475.4" cy="151.4" r="1.0"/>
<circle cx="524.9" cy="149.9" r="1.0"/>
<circle cx="469.1" cy="141.8" r="1.0"/>
<circle cx="484.2" cy="149.7" r="1.0"/>
<circle cx="469.6" cy="148.4" r="1.0"/>
<circle cx="498.7" cy="146.6" r="1.0"/>
<circle cx="475.7" cy="149.9" r="1.0"/>
<circle cx="489.2" cy="146.6" r="1.0"/>
<circle cx="487.3" cy="146.4" r="1.0"/>
<circle cx="499.5" cy="133.1" r="1.0"/>
<circle cx="514.8" cy="135.5" r="1.0"/>
<circle cx="521.2" cy="128.7" r="1.0"/>
<circle cx="493.7" cy="150.4" r="1.0"/>
<circle cx="519.4" cy="136.0" r="1.0"/>
<circle cx="490.3" cy="145.9" r="1.0"/>
<circle cx="500.7" cy="130.4" r="1.0"/>
<circle cx="487.2" cy="152.2" r="1.0"/>
<circle cx="498.8" cy="146.6" r="1.0"/>
<circle cx="466.9" cy="148.9" r="1.0"/>
<circle cx="517.2" cy="132.8" r="1.0"/>
<circle cx="480.8" cy="143.6" r="1.0"/>
<circle cx="541.4" cy="107.3" r="1.0"/>
<circle cx="495.2" cy="127.4" r="1.0"/>
<circle cx="492.6" cy="152.3" r="1.0"/>
<circle cx="475.7" cy="146.0" r="1.0"/>
<circle cx="484.7" cy="146.2" r="1.0"/>
<circle cx="471.4" cy="144.9" r="1.0"/>
<circle cx="521.9" cy="139.6" r="1.0"/>
<circle cx="476.0" cy="151.0" r="1.0"/>
<circle cx="468.9" cy="150.5" r="1.0"/>
<circle cx="546.7" cy="148.3" r="1.0"/>
<circle cx="492.7" cy="144.4" r="1.0"/>
<circle cx="476.2" cy="151.5" r="1.0"/>
<circle cx="468.3" cy="147.3" r="1.0"/>
<circle cx="476.8" cy="145.7" r="1.0"/>
<circle cx="556.4" cy="104.6" r="1.0"/>
<circle cx="494.3" cy="149.4" r="1.0"/>
<circle cx="505.6" cy="135.2" r="1.0"/>
<circle cx="486.6" cy="152.4" r="1.0"/>
<circle cx="470.2" cy="153.9" r="1.0"/>
<circle cx="545.0" cy="112.1" r="1.0"/>
<circle cx="480.4" cy="143.4" r="1.0"/>
<circle cx="488.0" cy="145.8" r="1.0"/>
<circle cx="469.6" cy="149.3" r="1.0"/>
<circle cx="515.5" cy="143.8" r="1.0"/>
<circle cx="541.5" cy="160.0" r="1.0"/>
<circle cx="546.2" cy="145.6" r="1.0"/>
<circle cx="493.2" cy="144.3" r="1.0"/>
<circle cx="542.4" cy="125.4" r="1.0"/>
<circle cx="485.0" cy="144.6" r="1.0"/>
<circle cx="469.6" cy="143.6" r="1.0"/>
<circle cx="522.8" cy="136.6" r="1.0"/>
<circle cx="547.8" cy="139.0" r="1.0"/>
<circle cx="493.9" cy="146.0" r="1.0"/>
<circle cx="468.8" cy="146.3" r="1.0"/>
<circle cx="502.5" cy="137.5" r="1.0"/>
<circle cx="500.8" cy="147.4" r="1.0"/>
<circle cx="492.7" cy="147.5" r="1.0"/>
<circle cx="479.7" cy="144.4" r="1.0"/>
<circle cx="486.7" cy="147.6" r="1.0"/>
<circle cx="474.7" cy="150.1" r="1.0"/>
<circle cx="473.9" cy="150.2" r="1.0"/>
<circle cx="542.3" cy="102.5" r="1.0"/>
<circle cx="479.4" cy="145.0" r="1.0"/>
<circle cx="470.3" cy="151.0" r="1.0"/>
<circle cx="527.6" cy="133.3" r="1.0"/>
<circle cx="468.3" cy="139.3" r="1.0"/>
<circle cx="512.5" cy="144.2" r="1.0"/>
<circle cx="494.4" cy="146.4" r="1.0"/>
<circle cx="571.3" cy="61.8" r="1.0"/>
<circle cx="496.9" cy="161.6" r="1.0"/>
<circle cx="547.2" cy="108.9" r="1.0"/>
<circle cx="554.2" cy="149.8" r="1.0"/>
<circle cx="486.6" cy="145.0" r="1.0"/>
<circle cx="489.6" cy="151.2" r="1.0"/>
<circle cx="471.2" cy="153.6" r="1.0"/>
<circle cx="573.1" cy="87.9" r="1.0"/>
<circle cx="521.5" cy="135.2" r="1.0"/>
<circle cx="534.9" cy="129.0" r="1.0"/>
<circle cx="515.2" cy="144.5" r="1.0"/>
<circle cx="479.7" cy="146.2" r="1.0"/>
<circle cx="539.8" cy="130.6" r="1.0"/>
<circle cx="540.4" cy="107.0" r="1.0"/>
<circle cx="472.4" cy="151.6" r="1.0"/>
<circle cx="511.4" cy="146.9" r="1.0"/>
<circle cx="494.7" cy="143.8" r="1.0"/>
<circle cx="535.3" cy="128.1" r="1.0"/>
<circle cx="482.5" cy="150.6" r="1.0"/>
<circle cx="478.7" cy="148.5" r="1.0"/>
<circle cx="471.6" cy="147.0" r="1.0"/>
<circle cx="479.4" cy="152.3" r="1.0"/>
<circle cx="470.4" cy="147.3" r="1.0"/>
<circle cx="539.5" cy="107.6" r="1.0"/>
<circle cx="491.9" cy="137.7" r="1.0"/>
<circle cx="477.6" cy="148.0" r="1.0"/>
<circle cx="467.0" cy="147.7" r="1.0"/>
<circle cx="541.9" cy="113.2" r="1.0"/>
<circle cx="482.8" cy="142.2" r="1.0"/>
<circle cx="485.8" cy="152.0" r="1.0"/>
<circle cx="508.5" cy="134.4" r="1.0"/>
<circle cx="526.2" cy="143.0" r="1.0"/>
<circle cx="530.3" cy="136.7" r="1.0"/>
<circle cx="490.9" cy="147.8" r="1.0"/>
<circle cx="509.3" cy="145.2" r="1.0"/>
<circle cx="516.5" cy="126.2" r="1.0"/>
<circle cx="540.3" cy="121.1" r="1.0"/>
<circle cx="475.4" cy="141.5" r="1.0"/>
<circle cx="486.5" cy="153.0" r="1.0"/>
<circle cx="492.5" cy="149.5" r="1.0"/>
<circle cx="523.5" cy="141.7" r="1.0"/>
<circle cx="489.2" cy="144.6" r="1.0"/>
<circle cx="473.9" cy="149.9" r="1.0"/>
<circle cx="481.3" cy="142.4" r="1.0"/>
<circle cx="492.2" cy="142.7" r="1.0"/>
<circle cx="533.5" cy="126.1" r="1.0"/>
<circle cx="475.4" cy="147.3" r="1.0"/>
<circle cx="514.7" cy="135.2" r="1.0"/>
<circle cx="516.5" cy="132.7" r="1.0"/>
<circle cx="542.4" cy="112.9" r="1.0"/>
<circle cx="496.5" cy="153.2" r="1.0"/>
<circle cx="502.3" cy="145.7" r="1.0"/>
<circle cx="475.2" cy="144.3" r="1.0"/>
<circle cx="520.9" cy="138.9" r="1.0"/>
<circle cx="482.2" cy="150.1" r="1.0"/>
<circle cx="491.3" cy="145.0" r="1.0"/>
<circle cx="525.4" cy="131.1" r="1.0"/>
<circle cx="480.6" cy="147.6" r="1.0"/>
<circle cx="492.9" cy="149.3" r="1.0"/>
<circle cx="479.4" cy="140.1" r="1.0"/>
<circle cx="523.5" cy="140.7" r="1.0"/>
<circle cx="476.6" cy="142.3" r="1.0"/>
<circle cx="494.5" cy="150.6" r="1.0"/>
<circle cx="485.7" cy="154.4" r="1.0"/>
<circle cx="498.1" cy="144.4" r="1.0"/>
<circle cx="501.7" cy="146.5" r="1.0"/>
<circle cx="493.7" cy="148.5" r="1.0"/>
<circle cx="495.6" cy="135.7" r="1.0"/>
<circle cx="498.3" cy="142.2" r="1.0"/>
<circle cx="467.9" cy="148.2" r="1.0"/>
<circle cx="498.7" cy="144.6" r="1.0"/>
<circle cx="466.2" cy="141.9" r="1.0"/>
<circle cx="474.4" cy="137.8" r="1.0"/>
<circle cx="512.1" cy="136.9" r="1.0"/>
<circle cx="503.9" cy="127.5" r="1.0"/>
<circle cx="513.2" cy="151.0" r="1.0"/>
<circle cx="491.7" cy="155.6" r="1.0"/>
<circle cx="496.6" cy="132.2" r="1.0"/>
<circle cx="488.8" cy="143.1" r="1.0"/>
<circle cx="487.1" cy="147.5" r="1.0"/>
<circle cx="491.8" cy="158.3" r="1.0"/>
<circle cx="506.5" cy="140.6" r="1.0"/>
<circle cx="505.7" cy="140.1" r="1.0"/>
<circle cx="484.3" cy="146.8" r="1.0"/>
<circle cx="514.2" cy="132.2" r="1.0"/>
<circle cx="500.4" cy="149.5" r="1.0"/>
<circle cx="535.0" cy="127.5" r="1.0"/>
<circle cx="502.7" cy="143.8" r="1.0"/>
<circle cx="469.3" cy="152.7" r="1.0"/>
<circle cx="478.8" cy="139.2" r="1.0"/>
<circle cx="475.6" cy="139.5" r="1.0"/>
<circle cx="505.5" cy="148.7" r="1.0"/>
<circle cx="486.0" cy="144.4" r="1.0"/>
<circle cx="526.7" cy="137.4" r="1.0"/>
<circle cx="503.3" cy="137.8" r="1.0"/>
<circle cx="514.6" cy="166.5" r="1.0"/>
<circle cx="499.9" cy="138.1" r="1.0"/>
<circle cx="473.4" cy="149.0" r="1.0"/>
<circle cx="506.5" cy="138.1" r="1.0"/>
<circle cx="469.9" cy="141.3" r="1.0"/>
<circle cx="511.8" cy="140.4" r="1.0"/>
<circle cx="512.7" cy="148.3" r="1.0"/>
<circle cx="523.8" cy="145.6" r="1.0"/>
<circle cx="470.7" cy="146.8" r="1.0"/>
<circle cx="485.3" cy="141.4" r="1.0"/>
<circle cx="471.7" cy="150.7" r="1.0"/>
<circle cx="576.4" cy="68.2" r="1.0"/>
<circle cx="484.0" cy="146.4" r="1.0"/>
<circle cx="468.5" cy="153.3" r="1.0"/>
<circle cx="491.5" cy="163.1" r="1.0"/>
<circle cx="521.8" cy="145.2" r="1.0"/>
<circle cx="489.6" cy="141.7" r="1.0"/>
<circle cx="499.4" cy="144.3" r="1.0"/>
<circle cx="493.6" cy="149.0" r="1.0"/>
<circle cx="487.1" cy="145.7" r="1.0"/>
<circle cx="499.1" cy="145.3" r="1.0"/>
<circle cx="511.4" cy="139.9" r="1.0"/>
<circle cx="471.7" cy="143.9" r="1.0"/>
<circle cx="531.7" cy="126.5" r="1.0"/>
<circle cx="489.0" cy="151.2" r="1.0"/>
<circle cx="530.1" cy="129.2" r="1.0"/>
<circle cx="511.8" cy="136.5" r="1.0"/>
<circle cx="484.1" cy="149.1" r="1.0"/>
<circle cx="513.7" cy="142.1" r="1.0"/>
<circle cx="500.9" cy="141.3" r="1.0"/>
<circle cx="494.9" cy="141.9" r="1.0"/>
<circle cx="485.9" cy="144.7" r="1.0"/>
<circle cx="511.4" cy="162.1" r="1.0"/>
<circle cx="521.2" cy="141.6" r="1.0"/>
<circle cx="542.9" cy="118.2" r="1.0"/>
<circle cx="523.7" cy="140.1" r="1.0"/>
<circle cx="467.6" cy="142.0" r="1.0"/>
<circle cx="494.2" cy="147.1" r="1.0"/>
<circle cx="502.2" cy="143.5" r="1.0"/>
<circle cx="495.8" cy="144.0" r="1.0"/>
<circle cx="466.7" cy="154.2" r="1.0"/>
<circle cx="479.3" cy="149.4" r="1.0"/>
<circle cx="474.2" cy="142.6" r="1.0"/>
<circle cx="480.9" cy="150.5" r="1.0"/>
<circle cx="519.7" cy="141.7" r="1.0"/>
<circle cx="481.5" cy="142.1" r="1.0"/>
<circle cx="472.2" cy="150.0" r="1.0"/>
<circle cx="526.7" cy="151.9" r="1.0"/>
<circle cx="502.4" cy="141.5" r="1.0"/>
<circle cx="475.7" cy="151.9" r="1.0"/>
<circle cx="549.7" cy="142.6" r="1.0"/>
<circle cx="498.5" cy="144.6" r="1.0"/>
<circle cx="491.6" cy="144.0" r="1.0"/>
<circle cx="472.2" cy="147.4" r="1.0"/>
<circle cx="536.5" cy="136.6" r="1.0"/>
<circle cx="488.0" cy="148.3" r="1.0"/>
<circle cx="475.7" cy="141.9" r="1.0"/>
<circle cx="514.2" cy="139.3" r="1.0"/>
<circle cx="500.4" cy="145.2" r="1.0"/>
<circle cx="563.9" cy="182.1" r="1.0"/>
<circle cx="479.2" cy="145.8" r="1.0"/>
<circle cx="500.6" cy="147.3" r="1.0"/>
<circle cx="485.1" cy="142.6" r="1.0"/>
<circle cx="469.8" cy="143.7" r="1.0"/>
<circle cx="531.9" cy="137.1" r="1.0"/>
<circle cx="477.5" cy="153.7" r="1.0"/>
<circle cx="524.5" cy="145.2" r="1.0"/>
<circle cx="490.2" cy="150.2" r="1.0"/>
<circle cx="483.2" cy="145.5" r="1.0"/>
<circle cx="541.9" cy="116.0" r="1.0"/>
<circle cx="466.4" cy="151.1" r="1.0"/>
<circle cx="476.2" cy="143.5" r="1.0"/>
<circle cx="518.4" cy="138.3" r="1.0"/>
<circle cx="485.4" cy="140.9" r="1.0"/>
<circle cx="497.0" cy="135.9" r="1.0"/>
<circle cx="474.9" cy="140.4" r="1.0"/>
<circle cx="482.4" cy="147.1" r="1.0"/>
<circle cx="520.9" cy="139.3" r="1.0"/>
<circle cx="525.7" cy="125.5" r="1.0"/>
<circle cx="468.7" cy="147.8" r="1.0"/>
<circle cx="504.3" cy="144.5" r="1.0"/>
<circle cx="472.8" cy="142.1" r="1.0"/>
<circle cx="521.1" cy="144.3" r="1.0"/>
<circle cx="475.7" cy="146.4" r="1.0"/>
<circle cx="478.5" cy="151.1" r="1.0"/>
<circle cx="469.8" cy="144.9" r="1.0"/>
<circle cx="490.2" cy="150.1" r="1.0"/>
<circle cx="520.7" cy="142.0" r="1.0"/>
<circle cx="487.6" cy="148.3" r="1.0"/>
<circle cx="475.1" cy="145.5" r="1.0"/>
<circle cx="548.3" cy="156.1" r="1.0"/>
<circle cx="469.5" cy="147.2" r="1.0"/>
<circle cx="475.3" cy="146.5" r="1.0"/>
<circle cx="502.0" cy="148.6" r="1.0"/>
<circle cx="481.4" cy="143.3" r="1.0"/>
<circle cx="548.9" cy="125.6" r="1.0"/>
<circle cx="538.5" cy="139.7" r="1.0"/>
<circle cx="488.6" cy="144.1" r="1.0"/>
<circle cx="484.3" cy="151.5" r="1.0"/>
<circle cx="473.6" cy="151.1" r="1.0"/>
<circle cx="494.5" cy="149.2" r="1.0"/>
<circle cx="510.0" cy="137.5" r="1.0"/>
<circle cx="514.1" cy="135.7" r="1.0"/>
<circle cx="472.5" cy="146.7" r="1.0"/>
<circle cx="468.6" cy="141.9" r="1.0"/>
<circle cx="522.1" cy="138.1" r="1.0"/>
<circle cx="504.3" cy="150.6" r="1.0"/>
<circle cx="491.8" cy="147.6" r="1.0"/>
<circle cx="544.4" cy="128.6" r="1.0"/>
<circle cx="529.1" cy="140.3" r="1.0"/>
<circle cx="494.7" cy="136.0" r="1.0"/>
<circle cx="526.4" cy="150.1" r="1.0"/>
<circle cx="536.1" cy="125.2" r="1.0"/>
<circle cx="491.1" cy="140.6" r="1.0"/>
<circle cx="499.6" cy="141.6" r="1.0"/>
<circle cx="564.6" cy="114.1" r="1.0"/>
<circle cx="469.0" cy="146.5" r="1.0"/>
<circle cx="475.4" cy="141.8" r="1.0"/>
<circle cx="508.4" cy="141.7" r="1.0"/>
<circle cx="537.5" cy="143.4" r="1.0"/>
<circle cx="518.6" cy="138.7" r="1.0"/>
<circle cx="543.3" cy="170.5" r="1.0"/>
<circle cx="502.2" cy="138.5" r="1.0"/>
<circle cx="478.4" cy="153.5" r="1.0"/>
<circle cx="469.1" cy="139.9" r="1.0"/>
<circle cx="500.0" cy="138.7" r="1.0"/>
<circle cx="490.9" cy="149.6" r="1.0"/>
<circle cx="486.5" cy="152.3" r="1.0"/>
<circle cx="497.0" cy="147.4" r="1.0"/>
<circle cx="556.8" cy="142.7" r="1.0"/>
<circle cx="517.7" cy="146.6" r="1.0"/>
<circle cx="574.7" cy="112.2" r="1.0"/>
<circle cx="574.7" cy="143.2" r="1.0"/>
<circle cx="491.2" cy="147.7" r="1.0"/>
<circle cx="581.1" cy="110.3" r="1.0"/>
<circle cx="495.3" cy="148.2" r="1.0"/>
<circle cx="530.2" cy="122.4" r="1.0"/>
<circle cx="540.7" cy="177.2" r="1.0"/>
<circle cx="552.0" cy="145.6" r="1.0"/>
<circle cx="483.7" cy="144.9" r="1.0"/>
<circle cx="476.8" cy="142.1" r="1.0"/>
<circle cx="484.1" cy="149.0" r="1.0"/>
<circle cx="542.8" cy="108.3" r="1.0"/>
<circle cx="476.1" cy="153.7" r="1.0"/>
<circle cx="502.7" cy="143.7" r="1.0"/>
<circle cx="472.8" cy="149.5" r="1.0"/>
<circle cx="516.7" cy="133.7" r="1.0"/>
<circle cx="496.4" cy="145.3" r="1.0"/>
<circle cx="467.6" cy="151.4" r="1.0"/>
<circle cx="488.5" cy="148.0" r="1.0"/>
<circle cx="560.2" cy="89.1" r="1.0"/>
<circle cx="487.3" cy="140.7" r="1.0"/>
<circle cx="507.9" cy="139.0" r="1.0"/>
<circle cx="484.7" cy="135.0" r="1.0"/>
<circle cx="469.3" cy="147.1" r="1.0"/>
<circle cx="533.8" cy="157.0" r="1.0"/>
<circle cx="533.9" cy="133.6" r="1.0"/>
<circle cx="505.5" cy="138.4" r="1.0"/>
<circle cx="486.1" cy="150.0" r="1.0"/>
<circle cx="484.5" cy="146.3" r="1.0"/>
<circle cx="500.6" cy="130.7" r="1.0"/>
<circle cx="495.7" cy="144.9" r="1.0"/>
<circle cx="470.1" cy="143.0" r="1.0"/>
<circle cx="475.2" cy="144.9" r="1.0"/>
<circle cx="522.9" cy="135.4" r="1.0"/>
<circle cx="488.3" cy="156.4" r="1.0"/>
</g>
<line x1="404.3" y1="120.4" x2="676" y2="120.4" stroke="#808080" stroke-width="1.3" stroke-dasharray="7.3 6.82" stroke-dashoffset="0.0"/>
<line x1="404.3" y1="140.9" x2="676" y2="140.9" stroke="#808080" stroke-width="1.3" stroke-dasharray="7.3 6.82" stroke-dashoffset="0.0"/>
<line x1="404.3" y1="161.3" x2="678" y2="161.3" stroke="#808080" stroke-width="1.3" stroke-dasharray="7.3 6.82" stroke-dashoffset="1.3"/>
<path d="M403.5 11.0V282.5M675.2 11.0V282.5M403.5 11.7H675.2" fill="none" stroke="#111" stroke-width="1.4"/>
<path d="M402.8 281.9H675.9" fill="none" stroke="#111" stroke-width="1.4"/>
<line x1="424.4" y1="281.3" x2="424.4" y2="277.3" stroke="#111" stroke-width="1.3"/>
<line x1="424.4" y1="11.7" x2="424.4" y2="15.7" stroke="#111" stroke-width="1.3"/>
<text x="424.4" y="294.8" text-anchor="middle">40</text>
<line x1="466.2" y1="281.3" x2="466.2" y2="277.3" stroke="#111" stroke-width="1.3"/>
<line x1="466.2" y1="11.7" x2="466.2" y2="15.7" stroke="#111" stroke-width="1.3"/>
<text x="466.2" y="294.8" text-anchor="middle">60</text>
<line x1="508.0" y1="281.3" x2="508.0" y2="277.3" stroke="#111" stroke-width="1.3"/>
<line x1="508.0" y1="11.7" x2="508.0" y2="15.7" stroke="#111" stroke-width="1.3"/>
<text x="508.0" y="294.8" text-anchor="middle">80</text>
<line x1="549.8" y1="281.3" x2="549.8" y2="277.3" stroke="#111" stroke-width="1.3"/>
<line x1="549.8" y1="11.7" x2="549.8" y2="15.7" stroke="#111" stroke-width="1.3"/>
<text x="549.8" y="294.8" text-anchor="middle">100</text>
<line x1="591.6" y1="281.3" x2="591.6" y2="277.3" stroke="#111" stroke-width="1.3"/>
<line x1="591.6" y1="11.7" x2="591.6" y2="15.7" stroke="#111" stroke-width="1.3"/>
<text x="591.6" y="294.8" text-anchor="middle">120</text>
<line x1="633.4" y1="281.3" x2="633.4" y2="277.3" stroke="#111" stroke-width="1.3"/>
<line x1="633.4" y1="11.7" x2="633.4" y2="15.7" stroke="#111" stroke-width="1.3"/>
<text x="633.4" y="294.8" text-anchor="middle">140</text>
<text x="675.2" y="294.8" text-anchor="middle">160</text>
<text x="399.2" y="285.1" text-anchor="end">-20</text>
<line x1="403.5" y1="247.6" x2="407.5" y2="247.6" stroke="#111" stroke-width="1.3"/>
<line x1="675.2" y1="247.6" x2="671.2" y2="247.6" stroke="#111" stroke-width="1.3"/>
<text x="399.2" y="251.4" text-anchor="end">-15</text>
<line x1="403.5" y1="213.9" x2="407.5" y2="213.9" stroke="#111" stroke-width="1.3"/>
<line x1="675.2" y1="213.9" x2="671.2" y2="213.9" stroke="#111" stroke-width="1.3"/>
<text x="399.2" y="217.7" text-anchor="end">-10</text>
<line x1="403.5" y1="180.2" x2="407.5" y2="180.2" stroke="#111" stroke-width="1.3"/>
<line x1="675.2" y1="180.2" x2="671.2" y2="180.2" stroke="#111" stroke-width="1.3"/>
<text x="399.2" y="183.9" text-anchor="end">-5</text>
<line x1="403.5" y1="146.5" x2="407.5" y2="146.5" stroke="#111" stroke-width="1.3"/>
<line x1="675.2" y1="146.5" x2="671.2" y2="146.5" stroke="#111" stroke-width="1.3"/>
<text x="399.2" y="150.2" text-anchor="end">0</text>
<line x1="403.5" y1="112.8" x2="407.5" y2="112.8" stroke="#111" stroke-width="1.3"/>
<line x1="675.2" y1="112.8" x2="671.2" y2="112.8" stroke="#111" stroke-width="1.3"/>
<text x="399.2" y="116.5" text-anchor="end">5</text>
<line x1="403.5" y1="79.1" x2="407.5" y2="79.1" stroke="#111" stroke-width="1.3"/>
<line x1="675.2" y1="79.1" x2="671.2" y2="79.1" stroke="#111" stroke-width="1.3"/>
<text x="399.2" y="82.8" text-anchor="end">10</text>
<line x1="403.5" y1="45.4" x2="407.5" y2="45.4" stroke="#111" stroke-width="1.3"/>
<line x1="675.2" y1="45.4" x2="671.2" y2="45.4" stroke="#111" stroke-width="1.3"/>
<text x="399.2" y="49.2" text-anchor="end">15</text>
<text x="399.2" y="15.4" text-anchor="end">20</text>
<text x="539.3" y="312.6" text-anchor="middle">Mean of two Measures (bpm)</text>
<text transform="translate(377.5,146.2) rotate(-90)" text-anchor="middle">Difference between two measures (bpm)</text>
<text class="b" x="427" y="40.9">Mean: 0.71</text>
<text class="b" x="427" y="59.3">LOA: [-2.67, 4.09]</text>
</svg></body></html>
